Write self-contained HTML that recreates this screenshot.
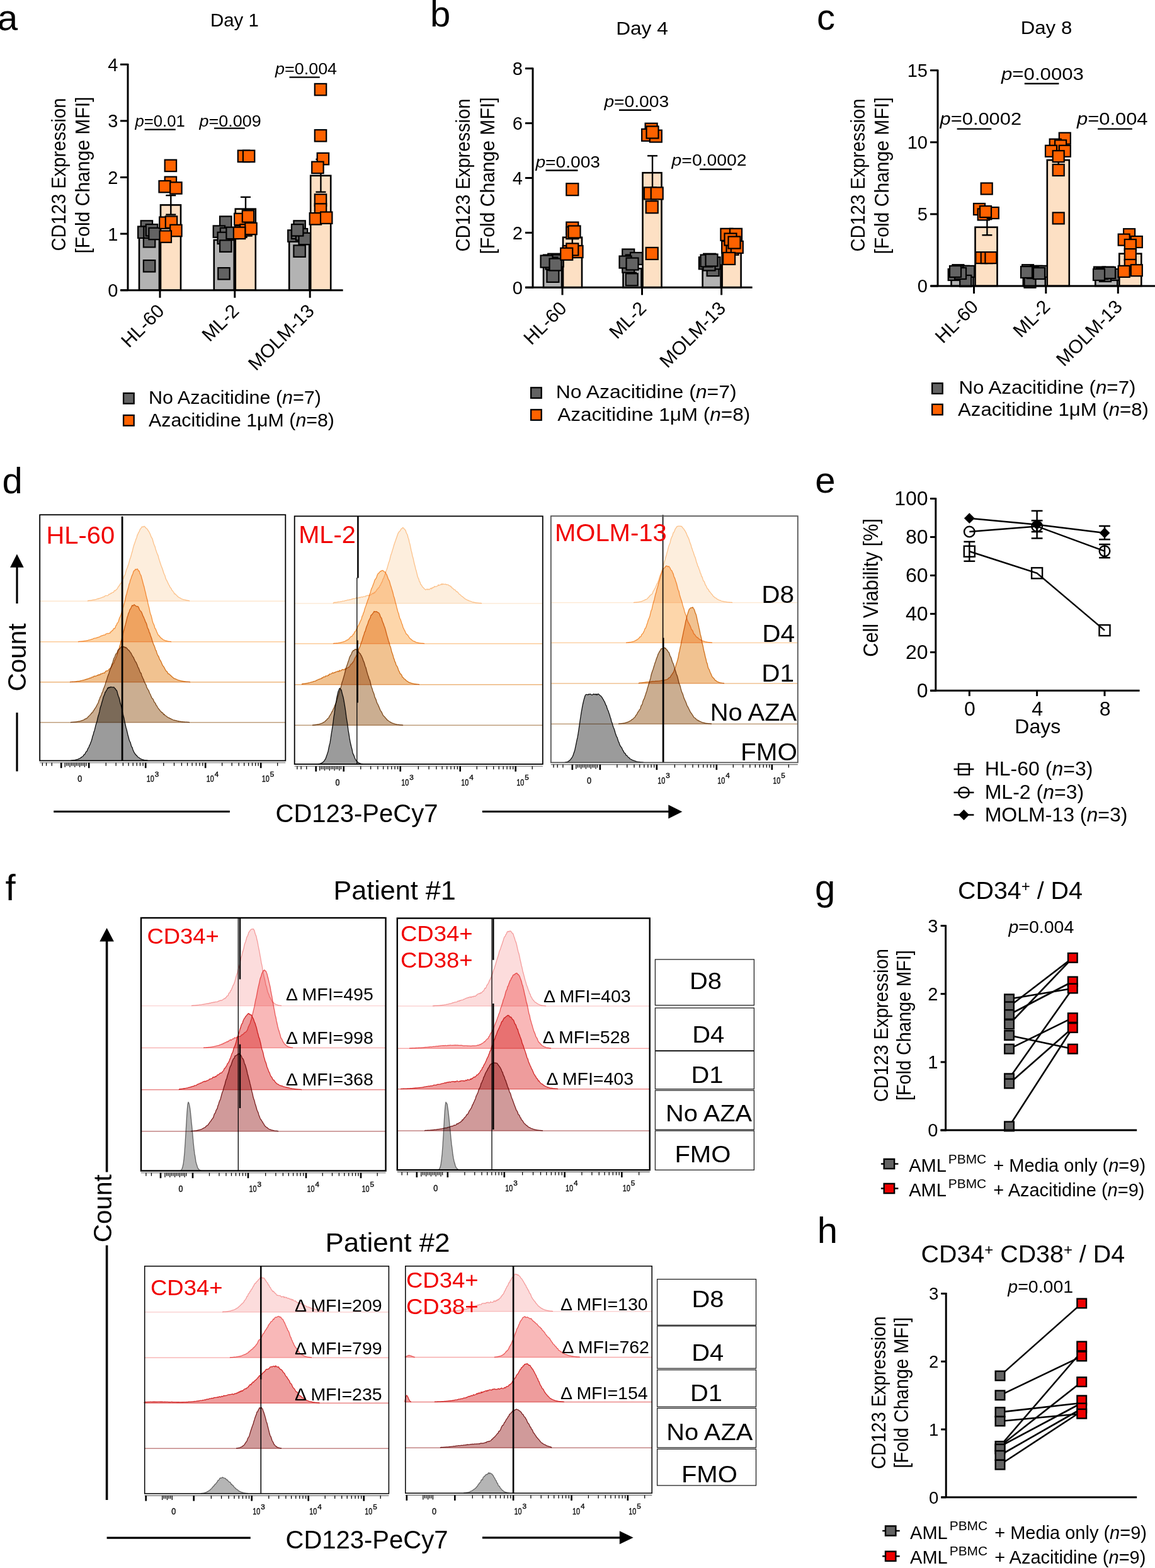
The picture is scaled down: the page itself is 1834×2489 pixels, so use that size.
<!DOCTYPE html><html><head><meta charset="utf-8"><style>html,body{margin:0;padding:0;background:#fff;}svg{display:block;font-family:"Liberation Sans",Arial,sans-serif;}</style></head><body><svg width="1834" height="2489" viewBox="0 0 1834 2489" font-family="Liberation Sans, Arial, sans-serif">
<rect width="1834" height="2489" fill="#fff"/>
<text x="-4" y="47.5" font-size="58">a</text>
<text x="683" y="41.8" font-size="58">b</text>
<text x="1297" y="46.5" font-size="58">c</text>
<text x="3.6" y="782.5" font-size="58">d</text>
<text x="1294.3" y="782" font-size="58">e</text>
<text x="8.5" y="1428.8" font-size="58">f</text>
<text x="1294" y="1429" font-size="58">g</text>
<text x="1297.7" y="1972.8" font-size="58">h</text>
<rect x="221" y="376.48" width="32" height="84.22" fill="#b3b3b3" stroke="#000" stroke-width="2.6"/>
<rect x="255" y="325.4" width="32" height="135.3" fill="#fde0c4" stroke="#000" stroke-width="2.6"/>
<rect x="339.8" y="380.96" width="32" height="79.74" fill="#b3b3b3" stroke="#000" stroke-width="2.6"/>
<rect x="373.8" y="331.68" width="32" height="129.02" fill="#fde0c4" stroke="#000" stroke-width="2.6"/>
<rect x="459.2" y="374.68" width="32" height="86.02" fill="#b3b3b3" stroke="#000" stroke-width="2.6"/>
<rect x="493.2" y="278.81" width="32" height="181.89" fill="#fde0c4" stroke="#000" stroke-width="2.6"/>
<line x1="271.3" y1="325.4" x2="271.3" y2="310.17" stroke="#000" stroke-width="2.4"/>
<line x1="263.3" y1="310.17" x2="279.3" y2="310.17" stroke="#000" stroke-width="2.4"/>
<line x1="271.3" y1="325.4" x2="271.3" y2="340.64" stroke="#000" stroke-width="2.4"/>
<line x1="263.3" y1="340.64" x2="279.3" y2="340.64" stroke="#000" stroke-width="2.4"/>
<line x1="390" y1="331.68" x2="390" y2="312.86" stroke="#000" stroke-width="2.4"/>
<line x1="382" y1="312.86" x2="398" y2="312.86" stroke="#000" stroke-width="2.4"/>
<line x1="390" y1="331.68" x2="390" y2="350.49" stroke="#000" stroke-width="2.4"/>
<line x1="382" y1="350.49" x2="398" y2="350.49" stroke="#000" stroke-width="2.4"/>
<line x1="509.4" y1="278.81" x2="509.4" y2="252.83" stroke="#000" stroke-width="2.4"/>
<line x1="501.4" y1="252.83" x2="517.4" y2="252.83" stroke="#000" stroke-width="2.4"/>
<line x1="509.4" y1="278.81" x2="509.4" y2="304.8" stroke="#000" stroke-width="2.4"/>
<line x1="501.4" y1="304.8" x2="517.4" y2="304.8" stroke="#000" stroke-width="2.4"/>
<line x1="237" y1="376.48" x2="237" y2="369.31" stroke="#000" stroke-width="2.4"/>
<line x1="229" y1="369.31" x2="245" y2="369.31" stroke="#000" stroke-width="2.4"/>
<line x1="237" y1="376.48" x2="237" y2="383.64" stroke="#000" stroke-width="2.4"/>
<line x1="229" y1="383.64" x2="245" y2="383.64" stroke="#000" stroke-width="2.4"/>
<line x1="356" y1="380.96" x2="356" y2="372" stroke="#000" stroke-width="2.4"/>
<line x1="348" y1="372" x2="364" y2="372" stroke="#000" stroke-width="2.4"/>
<line x1="356" y1="380.96" x2="356" y2="389.92" stroke="#000" stroke-width="2.4"/>
<line x1="348" y1="389.92" x2="364" y2="389.92" stroke="#000" stroke-width="2.4"/>
<line x1="475" y1="374.68" x2="475" y2="370.2" stroke="#000" stroke-width="2.4"/>
<line x1="467" y1="370.2" x2="483" y2="370.2" stroke="#000" stroke-width="2.4"/>
<line x1="475" y1="374.68" x2="475" y2="379.16" stroke="#000" stroke-width="2.4"/>
<line x1="467" y1="379.16" x2="483" y2="379.16" stroke="#000" stroke-width="2.4"/>
<rect x="227.9" y="413.1" width="18.4" height="18.4" fill="#636363" stroke="#000" stroke-width="2.2"/>
<rect x="227.9" y="374" width="18.4" height="18.4" fill="#636363" stroke="#000" stroke-width="2.2"/>
<rect x="223.7" y="350.3" width="18.4" height="18.4" fill="#636363" stroke="#000" stroke-width="2.2"/>
<rect x="219.1" y="359.5" width="18.4" height="18.4" fill="#636363" stroke="#000" stroke-width="2.2"/>
<rect x="228.3" y="359.5" width="18.4" height="18.4" fill="#636363" stroke="#000" stroke-width="2.2"/>
<rect x="231.8" y="356.1" width="18.4" height="18.4" fill="#636363" stroke="#000" stroke-width="2.2"/>
<rect x="236.4" y="361.8" width="18.4" height="18.4" fill="#636363" stroke="#000" stroke-width="2.2"/>
<rect x="346.3" y="425.1" width="18.4" height="18.4" fill="#636363" stroke="#000" stroke-width="2.2"/>
<rect x="349.1" y="343.4" width="18.4" height="18.4" fill="#636363" stroke="#000" stroke-width="2.2"/>
<rect x="338.7" y="358.4" width="18.4" height="18.4" fill="#636363" stroke="#000" stroke-width="2.2"/>
<rect x="349.8" y="361.8" width="18.4" height="18.4" fill="#636363" stroke="#000" stroke-width="2.2"/>
<rect x="345.6" y="368.7" width="18.4" height="18.4" fill="#636363" stroke="#000" stroke-width="2.2"/>
<rect x="349.1" y="381.4" width="18.4" height="18.4" fill="#636363" stroke="#000" stroke-width="2.2"/>
<rect x="359.4" y="360.7" width="18.4" height="18.4" fill="#636363" stroke="#000" stroke-width="2.2"/>
<rect x="466.4" y="389.4" width="18.4" height="18.4" fill="#636363" stroke="#000" stroke-width="2.2"/>
<rect x="466.4" y="350.3" width="18.4" height="18.4" fill="#636363" stroke="#000" stroke-width="2.2"/>
<rect x="457.2" y="365.3" width="18.4" height="18.4" fill="#636363" stroke="#000" stroke-width="2.2"/>
<rect x="463" y="360.7" width="18.4" height="18.4" fill="#636363" stroke="#000" stroke-width="2.2"/>
<rect x="469.9" y="363" width="18.4" height="18.4" fill="#636363" stroke="#000" stroke-width="2.2"/>
<rect x="474.5" y="369.8" width="18.4" height="18.4" fill="#636363" stroke="#000" stroke-width="2.2"/>
<rect x="463" y="356.1" width="18.4" height="18.4" fill="#636363" stroke="#000" stroke-width="2.2"/>
<rect x="261.7" y="253.7" width="18.4" height="18.4" fill="#ff6200" stroke="#000" stroke-width="2.2"/>
<rect x="261.7" y="280.6" width="18.4" height="18.4" fill="#ff6200" stroke="#000" stroke-width="2.2"/>
<rect x="252.5" y="287" width="18.4" height="18.4" fill="#ff6200" stroke="#000" stroke-width="2.2"/>
<rect x="270.2" y="289.3" width="18.4" height="18.4" fill="#ff6200" stroke="#000" stroke-width="2.2"/>
<rect x="253.2" y="344.5" width="18.4" height="18.4" fill="#ff6200" stroke="#000" stroke-width="2.2"/>
<rect x="262.8" y="343.4" width="18.4" height="18.4" fill="#ff6200" stroke="#000" stroke-width="2.2"/>
<rect x="270.2" y="356.8" width="18.4" height="18.4" fill="#ff6200" stroke="#000" stroke-width="2.2"/>
<rect x="253.6" y="366.4" width="18.4" height="18.4" fill="#ff6200" stroke="#000" stroke-width="2.2"/>
<rect x="377.8" y="238.7" width="18.4" height="18.4" fill="#ff6200" stroke="#000" stroke-width="2.2"/>
<rect x="385.9" y="238.7" width="18.4" height="18.4" fill="#ff6200" stroke="#000" stroke-width="2.2"/>
<rect x="372.1" y="338.8" width="18.4" height="18.4" fill="#ff6200" stroke="#000" stroke-width="2.2"/>
<rect x="384.8" y="334.2" width="18.4" height="18.4" fill="#ff6200" stroke="#000" stroke-width="2.2"/>
<rect x="373.2" y="358.4" width="18.4" height="18.4" fill="#ff6200" stroke="#000" stroke-width="2.2"/>
<rect x="381.3" y="356.1" width="18.4" height="18.4" fill="#ff6200" stroke="#000" stroke-width="2.2"/>
<rect x="389.3" y="353.8" width="18.4" height="18.4" fill="#ff6200" stroke="#000" stroke-width="2.2"/>
<rect x="370.9" y="360.7" width="18.4" height="18.4" fill="#ff6200" stroke="#000" stroke-width="2.2"/>
<rect x="499.8" y="132.9" width="18.4" height="18.4" fill="#ff6200" stroke="#000" stroke-width="2.2"/>
<rect x="499.8" y="206.1" width="18.4" height="18.4" fill="#ff6200" stroke="#000" stroke-width="2.2"/>
<rect x="503.7" y="242.9" width="18.4" height="18.4" fill="#ff6200" stroke="#000" stroke-width="2.2"/>
<rect x="495.2" y="256.7" width="18.4" height="18.4" fill="#ff6200" stroke="#000" stroke-width="2.2"/>
<rect x="499.8" y="308.4" width="18.4" height="18.4" fill="#ff6200" stroke="#000" stroke-width="2.2"/>
<rect x="499.8" y="323.4" width="18.4" height="18.4" fill="#ff6200" stroke="#000" stroke-width="2.2"/>
<rect x="491.7" y="338.1" width="18.4" height="18.4" fill="#ff6200" stroke="#000" stroke-width="2.2"/>
<rect x="509" y="336.5" width="18.4" height="18.4" fill="#ff6200" stroke="#000" stroke-width="2.2"/>
<line x1="203" y1="101" x2="203" y2="462" stroke="#000" stroke-width="3"/>
<line x1="191.5" y1="460.7" x2="544.6" y2="460.7" stroke="#000" stroke-width="3"/>
<line x1="191" y1="460.7" x2="203" y2="460.7" stroke="#000" stroke-width="3"/>
<text x="187.5" y="471.1" font-size="29" text-anchor="end">0</text>
<line x1="191" y1="371.1" x2="203" y2="371.1" stroke="#000" stroke-width="3"/>
<text x="187.5" y="381.5" font-size="29" text-anchor="end">1</text>
<line x1="191" y1="281.5" x2="203" y2="281.5" stroke="#000" stroke-width="3"/>
<text x="187.5" y="291.9" font-size="29" text-anchor="end">2</text>
<line x1="191" y1="191.9" x2="203" y2="191.9" stroke="#000" stroke-width="3"/>
<text x="187.5" y="202.3" font-size="29" text-anchor="end">3</text>
<line x1="191" y1="102.3" x2="203" y2="102.3" stroke="#000" stroke-width="3"/>
<text x="187.5" y="112.7" font-size="29" text-anchor="end">4</text>
<line x1="254" y1="460.7" x2="254" y2="472.7" stroke="#000" stroke-width="3"/>
<line x1="372.8" y1="460.7" x2="372.8" y2="472.7" stroke="#000" stroke-width="3"/>
<line x1="492.2" y1="460.7" x2="492.2" y2="472.7" stroke="#000" stroke-width="3"/>
<text x="262.5" y="495.5" font-size="30" text-anchor="end" transform="rotate(-45 262.5 495.5)">HL-60</text>
<text x="381.3" y="495.5" font-size="30" text-anchor="end" transform="rotate(-45 381.3 495.5)">ML-2</text>
<text x="500.7" y="495.5" font-size="30" text-anchor="end" transform="rotate(-45 500.7 495.5)">MOLM-13</text>
<text x="104.3" y="277" font-size="31.4" text-anchor="middle" transform="rotate(-90 104.3 277)" textLength="243" lengthAdjust="spacingAndGlyphs">CD123 Expression</text>
<text x="141.7" y="278" font-size="31.4" text-anchor="middle" transform="rotate(-90 141.7 278)" textLength="249" lengthAdjust="spacingAndGlyphs">[Fold Change MFI]</text>
<text x="372.4" y="41.5" font-size="29.5" text-anchor="middle" textLength="77" lengthAdjust="spacingAndGlyphs">Day 1</text>
<text x="214.5" y="201" font-size="25" textLength="79.4" lengthAdjust="spacingAndGlyphs"><tspan font-style="italic">p</tspan>=0.01</text>
<line x1="229.6" y1="205.6" x2="278.8" y2="205.6" stroke="#000" stroke-width="2.4"/>
<text x="316.4" y="201" font-size="25" textLength="98.3" lengthAdjust="spacingAndGlyphs"><tspan font-style="italic">p</tspan>=0.009</text>
<line x1="340" y1="203.6" x2="388.8" y2="203.6" stroke="#000" stroke-width="2.4"/>
<text x="437" y="117.5" font-size="25" textLength="98.1" lengthAdjust="spacingAndGlyphs"><tspan font-style="italic">p</tspan>=0.004</text>
<line x1="459.5" y1="122.6" x2="507.8" y2="122.6" stroke="#000" stroke-width="2.4"/>
<rect x="196.1" y="624.1" width="16.6" height="16.6" fill="#636363" stroke="#000" stroke-width="2.3"/>
<rect x="196.1" y="659.1" width="16.6" height="16.6" fill="#ff6200" stroke="#000" stroke-width="2.3"/>
<text x="236" y="640.7" font-size="30" textLength="274" lengthAdjust="spacingAndGlyphs">No Azacitidine (<tspan font-style="italic">n</tspan>=7)</text>
<text x="236" y="677.1" font-size="30" textLength="295" lengthAdjust="spacingAndGlyphs">Azacitidine 1μM (<tspan font-style="italic">n</tspan>=8)</text>
<rect x="863" y="417.19" width="29" height="39.11" fill="#b3b3b3" stroke="#000" stroke-width="2.6"/>
<rect x="894" y="376.79" width="30" height="79.51" fill="#fde0c4" stroke="#000" stroke-width="2.6"/>
<rect x="989.5" y="426.32" width="29" height="29.98" fill="#b3b3b3" stroke="#000" stroke-width="2.6"/>
<rect x="1020.5" y="274.24" width="30" height="182.06" fill="#fde0c4" stroke="#000" stroke-width="2.6"/>
<rect x="1115.6" y="420.67" width="29" height="35.63" fill="#b3b3b3" stroke="#000" stroke-width="2.6"/>
<rect x="1146.6" y="381.57" width="30" height="74.73" fill="#fde0c4" stroke="#000" stroke-width="2.6"/>
<line x1="908.8" y1="376.79" x2="908.8" y2="364.62" stroke="#000" stroke-width="2.4"/>
<line x1="900.8" y1="364.62" x2="916.8" y2="364.62" stroke="#000" stroke-width="2.4"/>
<line x1="908.8" y1="376.79" x2="908.8" y2="388.95" stroke="#000" stroke-width="2.4"/>
<line x1="900.8" y1="388.95" x2="916.8" y2="388.95" stroke="#000" stroke-width="2.4"/>
<line x1="1036" y1="274.24" x2="1036" y2="247.31" stroke="#000" stroke-width="2.4"/>
<line x1="1028" y1="247.31" x2="1044" y2="247.31" stroke="#000" stroke-width="2.4"/>
<line x1="1036" y1="274.24" x2="1036" y2="301.18" stroke="#000" stroke-width="2.4"/>
<line x1="1028" y1="301.18" x2="1044" y2="301.18" stroke="#000" stroke-width="2.4"/>
<line x1="1161" y1="381.57" x2="1161" y2="375.05" stroke="#000" stroke-width="2.4"/>
<line x1="1153" y1="375.05" x2="1169" y2="375.05" stroke="#000" stroke-width="2.4"/>
<line x1="1161" y1="381.57" x2="1161" y2="388.08" stroke="#000" stroke-width="2.4"/>
<line x1="1153" y1="388.08" x2="1169" y2="388.08" stroke="#000" stroke-width="2.4"/>
<line x1="878" y1="417.19" x2="878" y2="412.85" stroke="#000" stroke-width="2.4"/>
<line x1="870" y1="412.85" x2="886" y2="412.85" stroke="#000" stroke-width="2.4"/>
<line x1="878" y1="417.19" x2="878" y2="421.54" stroke="#000" stroke-width="2.4"/>
<line x1="870" y1="421.54" x2="886" y2="421.54" stroke="#000" stroke-width="2.4"/>
<line x1="1003" y1="426.32" x2="1003" y2="419.8" stroke="#000" stroke-width="2.4"/>
<line x1="995" y1="419.8" x2="1011" y2="419.8" stroke="#000" stroke-width="2.4"/>
<line x1="1003" y1="426.32" x2="1003" y2="432.84" stroke="#000" stroke-width="2.4"/>
<line x1="995" y1="432.84" x2="1011" y2="432.84" stroke="#000" stroke-width="2.4"/>
<line x1="1130" y1="420.67" x2="1130" y2="417.19" stroke="#000" stroke-width="2.4"/>
<line x1="1122" y1="417.19" x2="1138" y2="417.19" stroke="#000" stroke-width="2.4"/>
<line x1="1130" y1="420.67" x2="1130" y2="424.15" stroke="#000" stroke-width="2.4"/>
<line x1="1122" y1="424.15" x2="1138" y2="424.15" stroke="#000" stroke-width="2.4"/>
<rect x="868.4" y="428.9" width="19" height="19" fill="#636363" stroke="#000" stroke-width="2.2"/>
<rect x="862.9" y="404.5" width="19" height="19" fill="#636363" stroke="#000" stroke-width="2.2"/>
<rect x="870.2" y="402.7" width="19" height="19" fill="#636363" stroke="#000" stroke-width="2.2"/>
<rect x="875.7" y="404.5" width="19" height="19" fill="#636363" stroke="#000" stroke-width="2.2"/>
<rect x="866.5" y="408.5" width="19" height="19" fill="#636363" stroke="#000" stroke-width="2.2"/>
<rect x="858.5" y="405.5" width="19" height="19" fill="#636363" stroke="#000" stroke-width="2.2"/>
<rect x="872.5" y="410.5" width="19" height="19" fill="#636363" stroke="#000" stroke-width="2.2"/>
<rect x="993.7" y="434.3" width="19" height="19" fill="#636363" stroke="#000" stroke-width="2.2"/>
<rect x="988.2" y="395.5" width="19" height="19" fill="#636363" stroke="#000" stroke-width="2.2"/>
<rect x="993.7" y="404.5" width="19" height="19" fill="#636363" stroke="#000" stroke-width="2.2"/>
<rect x="988.2" y="413.6" width="19" height="19" fill="#636363" stroke="#000" stroke-width="2.2"/>
<rect x="1001" y="400.9" width="19" height="19" fill="#636363" stroke="#000" stroke-width="2.2"/>
<rect x="983.5" y="406.5" width="19" height="19" fill="#636363" stroke="#000" stroke-width="2.2"/>
<rect x="994.5" y="409.5" width="19" height="19" fill="#636363" stroke="#000" stroke-width="2.2"/>
<rect x="1117.2" y="402.7" width="19" height="19" fill="#636363" stroke="#000" stroke-width="2.2"/>
<rect x="1122.6" y="419.1" width="19" height="19" fill="#636363" stroke="#000" stroke-width="2.2"/>
<rect x="1109.9" y="408.2" width="19" height="19" fill="#636363" stroke="#000" stroke-width="2.2"/>
<rect x="1124.5" y="408.2" width="19" height="19" fill="#636363" stroke="#000" stroke-width="2.2"/>
<rect x="1116.5" y="410.5" width="19" height="19" fill="#636363" stroke="#000" stroke-width="2.2"/>
<rect x="1112.5" y="404.5" width="19" height="19" fill="#636363" stroke="#000" stroke-width="2.2"/>
<rect x="1120.5" y="403.5" width="19" height="19" fill="#636363" stroke="#000" stroke-width="2.2"/>
<rect x="899.3" y="291.2" width="19" height="19" fill="#ff6200" stroke="#000" stroke-width="2.2"/>
<rect x="899.3" y="352.6" width="19" height="19" fill="#ff6200" stroke="#000" stroke-width="2.2"/>
<rect x="899.3" y="360.2" width="19" height="19" fill="#ff6200" stroke="#000" stroke-width="2.2"/>
<rect x="902.5" y="358.5" width="19" height="19" fill="#ff6200" stroke="#000" stroke-width="2.2"/>
<rect x="893.8" y="390" width="19" height="19" fill="#ff6200" stroke="#000" stroke-width="2.2"/>
<rect x="906.5" y="390" width="19" height="19" fill="#ff6200" stroke="#000" stroke-width="2.2"/>
<rect x="899.3" y="386.4" width="19" height="19" fill="#ff6200" stroke="#000" stroke-width="2.2"/>
<rect x="890.2" y="393.7" width="19" height="19" fill="#ff6200" stroke="#000" stroke-width="2.2"/>
<rect x="1024.6" y="195.7" width="19" height="19" fill="#ff6200" stroke="#000" stroke-width="2.2"/>
<rect x="1019.1" y="204.8" width="19" height="19" fill="#ff6200" stroke="#000" stroke-width="2.2"/>
<rect x="1031.8" y="206.6" width="19" height="19" fill="#ff6200" stroke="#000" stroke-width="2.2"/>
<rect x="1022.8" y="297.4" width="19" height="19" fill="#ff6200" stroke="#000" stroke-width="2.2"/>
<rect x="1033.7" y="297.4" width="19" height="19" fill="#ff6200" stroke="#000" stroke-width="2.2"/>
<rect x="1025.7" y="319.2" width="19" height="19" fill="#ff6200" stroke="#000" stroke-width="2.2"/>
<rect x="1025.7" y="392.9" width="19" height="19" fill="#ff6200" stroke="#000" stroke-width="2.2"/>
<rect x="1026.5" y="200.5" width="19" height="19" fill="#ff6200" stroke="#000" stroke-width="2.2"/>
<rect x="1144.4" y="362.8" width="19" height="19" fill="#ff6200" stroke="#000" stroke-width="2.2"/>
<rect x="1159" y="362.8" width="19" height="19" fill="#ff6200" stroke="#000" stroke-width="2.2"/>
<rect x="1146.2" y="382.8" width="19" height="19" fill="#ff6200" stroke="#000" stroke-width="2.2"/>
<rect x="1153.5" y="385.7" width="19" height="19" fill="#ff6200" stroke="#000" stroke-width="2.2"/>
<rect x="1160.8" y="382.8" width="19" height="19" fill="#ff6200" stroke="#000" stroke-width="2.2"/>
<rect x="1148.1" y="400.9" width="19" height="19" fill="#ff6200" stroke="#000" stroke-width="2.2"/>
<rect x="1150.5" y="370.5" width="19" height="19" fill="#ff6200" stroke="#000" stroke-width="2.2"/>
<rect x="1156.5" y="375.5" width="19" height="19" fill="#ff6200" stroke="#000" stroke-width="2.2"/>
<line x1="846" y1="107.4" x2="846" y2="457.6" stroke="#000" stroke-width="3"/>
<line x1="834" y1="456.3" x2="1194.6" y2="456.3" stroke="#000" stroke-width="3"/>
<line x1="834" y1="456.3" x2="846" y2="456.3" stroke="#000" stroke-width="3"/>
<text x="830" y="466.7" font-size="29" text-anchor="end">0</text>
<line x1="834" y1="369.4" x2="846" y2="369.4" stroke="#000" stroke-width="3"/>
<text x="830" y="379.8" font-size="29" text-anchor="end">2</text>
<line x1="834" y1="282.5" x2="846" y2="282.5" stroke="#000" stroke-width="3"/>
<text x="830" y="292.9" font-size="29" text-anchor="end">4</text>
<line x1="834" y1="195.6" x2="846" y2="195.6" stroke="#000" stroke-width="3"/>
<text x="830" y="206" font-size="29" text-anchor="end">6</text>
<line x1="834" y1="108.7" x2="846" y2="108.7" stroke="#000" stroke-width="3"/>
<text x="830" y="119.1" font-size="29" text-anchor="end">8</text>
<line x1="893" y1="456.3" x2="893" y2="468.3" stroke="#000" stroke-width="3"/>
<line x1="1019.5" y1="456.3" x2="1019.5" y2="468.3" stroke="#000" stroke-width="3"/>
<line x1="1145.6" y1="456.3" x2="1145.6" y2="468.3" stroke="#000" stroke-width="3"/>
<text x="901.5" y="491.1" font-size="30" text-anchor="end" transform="rotate(-45 901.5 491.1)">HL-60</text>
<text x="1028" y="491.1" font-size="30" text-anchor="end" transform="rotate(-45 1028 491.1)">ML-2</text>
<text x="1154.1" y="491.1" font-size="30" text-anchor="end" transform="rotate(-45 1154.1 491.1)">MOLM-13</text>
<text x="745.8" y="278" font-size="31.4" text-anchor="middle" transform="rotate(-90 745.8 278)" textLength="243" lengthAdjust="spacingAndGlyphs">CD123 Expression</text>
<text x="785" y="279" font-size="31.4" text-anchor="middle" transform="rotate(-90 785 279)" textLength="249" lengthAdjust="spacingAndGlyphs">[Fold Change MFI]</text>
<text x="1019.5" y="55.2" font-size="29.5" text-anchor="middle" textLength="82.7" lengthAdjust="spacingAndGlyphs">Day 4</text>
<text x="850.4" y="265.8" font-size="25" textLength="102.6" lengthAdjust="spacingAndGlyphs"><tspan font-style="italic">p</tspan>=0.003</text>
<line x1="866.5" y1="270.5" x2="917.5" y2="270.5" stroke="#000" stroke-width="2.4"/>
<text x="959.4" y="169.6" font-size="25" textLength="102.7" lengthAdjust="spacingAndGlyphs"><tspan font-style="italic">p</tspan>=0.003</text>
<line x1="983" y1="174.7" x2="1034" y2="174.7" stroke="#000" stroke-width="2.4"/>
<text x="1066.6" y="263.3" font-size="25" textLength="119" lengthAdjust="spacingAndGlyphs"><tspan font-style="italic">p</tspan>=0.0002</text>
<line x1="1111" y1="268.8" x2="1162" y2="268.8" stroke="#000" stroke-width="2.4"/>
<rect x="843.1" y="615.3" width="16.6" height="16.6" fill="#636363" stroke="#000" stroke-width="2.3"/>
<rect x="843.1" y="650.3" width="16.6" height="16.6" fill="#ff6200" stroke="#000" stroke-width="2.3"/>
<text x="882.7" y="631.9" font-size="30" textLength="287" lengthAdjust="spacingAndGlyphs">No Azacitidine (<tspan font-style="italic">n</tspan>=7)</text>
<text x="885.2" y="668.3" font-size="30" textLength="306" lengthAdjust="spacingAndGlyphs">Azacitidine 1μM (<tspan font-style="italic">n</tspan>=8)</text>
<rect x="1510.5" y="434.6" width="35" height="19.4" fill="#b3b3b3" stroke="#000" stroke-width="2.6"/>
<rect x="1548.5" y="360.67" width="35" height="93.33" fill="#fde0c4" stroke="#000" stroke-width="2.6"/>
<rect x="1624.8" y="433.46" width="35" height="20.54" fill="#b3b3b3" stroke="#000" stroke-width="2.6"/>
<rect x="1662.8" y="254.1" width="35" height="199.9" fill="#fde0c4" stroke="#000" stroke-width="2.6"/>
<rect x="1739.3" y="434.6" width="35" height="19.4" fill="#b3b3b3" stroke="#000" stroke-width="2.6"/>
<rect x="1777.3" y="402.65" width="35" height="51.35" fill="#fde0c4" stroke="#000" stroke-width="2.6"/>
<line x1="1567.4" y1="360.67" x2="1567.4" y2="348.12" stroke="#000" stroke-width="2.4"/>
<line x1="1559.4" y1="348.12" x2="1575.4" y2="348.12" stroke="#000" stroke-width="2.4"/>
<line x1="1567.4" y1="360.67" x2="1567.4" y2="373.22" stroke="#000" stroke-width="2.4"/>
<line x1="1559.4" y1="373.22" x2="1575.4" y2="373.22" stroke="#000" stroke-width="2.4"/>
<line x1="1680.7" y1="254.1" x2="1680.7" y2="240.4" stroke="#000" stroke-width="2.4"/>
<line x1="1672.7" y1="240.4" x2="1688.7" y2="240.4" stroke="#000" stroke-width="2.4"/>
<line x1="1680.7" y1="254.1" x2="1680.7" y2="267.79" stroke="#000" stroke-width="2.4"/>
<line x1="1672.7" y1="267.79" x2="1688.7" y2="267.79" stroke="#000" stroke-width="2.4"/>
<line x1="1795" y1="402.65" x2="1795" y2="393.53" stroke="#000" stroke-width="2.4"/>
<line x1="1787" y1="393.53" x2="1803" y2="393.53" stroke="#000" stroke-width="2.4"/>
<line x1="1795" y1="402.65" x2="1795" y2="411.78" stroke="#000" stroke-width="2.4"/>
<line x1="1787" y1="411.78" x2="1803" y2="411.78" stroke="#000" stroke-width="2.4"/>
<line x1="1528" y1="434.6" x2="1528" y2="432.78" stroke="#000" stroke-width="2.4"/>
<line x1="1520" y1="432.78" x2="1536" y2="432.78" stroke="#000" stroke-width="2.4"/>
<line x1="1528" y1="434.6" x2="1528" y2="436.43" stroke="#000" stroke-width="2.4"/>
<line x1="1520" y1="436.43" x2="1536" y2="436.43" stroke="#000" stroke-width="2.4"/>
<line x1="1643" y1="433.46" x2="1643" y2="431.64" stroke="#000" stroke-width="2.4"/>
<line x1="1635" y1="431.64" x2="1651" y2="431.64" stroke="#000" stroke-width="2.4"/>
<line x1="1643" y1="433.46" x2="1643" y2="435.29" stroke="#000" stroke-width="2.4"/>
<line x1="1635" y1="435.29" x2="1651" y2="435.29" stroke="#000" stroke-width="2.4"/>
<line x1="1757" y1="434.6" x2="1757" y2="433.23" stroke="#000" stroke-width="2.4"/>
<line x1="1749" y1="433.23" x2="1765" y2="433.23" stroke="#000" stroke-width="2.4"/>
<line x1="1757" y1="434.6" x2="1757" y2="435.97" stroke="#000" stroke-width="2.4"/>
<line x1="1749" y1="435.97" x2="1765" y2="435.97" stroke="#000" stroke-width="2.4"/>
<rect x="1505.7" y="427" width="18" height="18" fill="#636363" stroke="#000" stroke-width="2.2"/>
<rect x="1512.4" y="420.2" width="18" height="18" fill="#636363" stroke="#000" stroke-width="2.2"/>
<rect x="1520.8" y="421.9" width="18" height="18" fill="#636363" stroke="#000" stroke-width="2.2"/>
<rect x="1529.2" y="421.9" width="18" height="18" fill="#636363" stroke="#000" stroke-width="2.2"/>
<rect x="1524.2" y="437" width="18" height="18" fill="#636363" stroke="#000" stroke-width="2.2"/>
<rect x="1516" y="425" width="18" height="18" fill="#636363" stroke="#000" stroke-width="2.2"/>
<rect x="1508" y="422" width="18" height="18" fill="#636363" stroke="#000" stroke-width="2.2"/>
<rect x="1623.1" y="420.2" width="18" height="18" fill="#636363" stroke="#000" stroke-width="2.2"/>
<rect x="1636.5" y="421.9" width="18" height="18" fill="#636363" stroke="#000" stroke-width="2.2"/>
<rect x="1644.9" y="421.9" width="18" height="18" fill="#636363" stroke="#000" stroke-width="2.2"/>
<rect x="1626.5" y="438.7" width="18" height="18" fill="#636363" stroke="#000" stroke-width="2.2"/>
<rect x="1631" y="424" width="18" height="18" fill="#636363" stroke="#000" stroke-width="2.2"/>
<rect x="1621" y="423" width="18" height="18" fill="#636363" stroke="#000" stroke-width="2.2"/>
<rect x="1641" y="425" width="18" height="18" fill="#636363" stroke="#000" stroke-width="2.2"/>
<rect x="1737.1" y="423.6" width="18" height="18" fill="#636363" stroke="#000" stroke-width="2.2"/>
<rect x="1750.5" y="423.6" width="18" height="18" fill="#636363" stroke="#000" stroke-width="2.2"/>
<rect x="1758.9" y="427" width="18" height="18" fill="#636363" stroke="#000" stroke-width="2.2"/>
<rect x="1746" y="429" width="18" height="18" fill="#636363" stroke="#000" stroke-width="2.2"/>
<rect x="1741" y="425" width="18" height="18" fill="#636363" stroke="#000" stroke-width="2.2"/>
<rect x="1753" y="424" width="18" height="18" fill="#636363" stroke="#000" stroke-width="2.2"/>
<rect x="1736" y="427" width="18" height="18" fill="#636363" stroke="#000" stroke-width="2.2"/>
<rect x="1557.7" y="290.5" width="18" height="18" fill="#ff6200" stroke="#000" stroke-width="2.2"/>
<rect x="1546" y="323" width="18" height="18" fill="#ff6200" stroke="#000" stroke-width="2.2"/>
<rect x="1552.7" y="331.4" width="18" height="18" fill="#ff6200" stroke="#000" stroke-width="2.2"/>
<rect x="1567.8" y="329" width="18" height="18" fill="#ff6200" stroke="#000" stroke-width="2.2"/>
<rect x="1549.3" y="400.1" width="18" height="18" fill="#ff6200" stroke="#000" stroke-width="2.2"/>
<rect x="1557.7" y="400.1" width="18" height="18" fill="#ff6200" stroke="#000" stroke-width="2.2"/>
<rect x="1564.4" y="400.1" width="18" height="18" fill="#ff6200" stroke="#000" stroke-width="2.2"/>
<rect x="1556" y="327" width="18" height="18" fill="#ff6200" stroke="#000" stroke-width="2.2"/>
<rect x="1681.8" y="210.7" width="18" height="18" fill="#ff6200" stroke="#000" stroke-width="2.2"/>
<rect x="1666.7" y="220.7" width="18" height="18" fill="#ff6200" stroke="#000" stroke-width="2.2"/>
<rect x="1675.1" y="222.4" width="18" height="18" fill="#ff6200" stroke="#000" stroke-width="2.2"/>
<rect x="1660" y="230.8" width="18" height="18" fill="#ff6200" stroke="#000" stroke-width="2.2"/>
<rect x="1681.8" y="230.8" width="18" height="18" fill="#ff6200" stroke="#000" stroke-width="2.2"/>
<rect x="1671.7" y="239.2" width="18" height="18" fill="#ff6200" stroke="#000" stroke-width="2.2"/>
<rect x="1671.7" y="261" width="18" height="18" fill="#ff6200" stroke="#000" stroke-width="2.2"/>
<rect x="1671.7" y="337.4" width="18" height="18" fill="#ff6200" stroke="#000" stroke-width="2.2"/>
<rect x="1784.1" y="363.2" width="18" height="18" fill="#ff6200" stroke="#000" stroke-width="2.2"/>
<rect x="1775.7" y="371.6" width="18" height="18" fill="#ff6200" stroke="#000" stroke-width="2.2"/>
<rect x="1795.8" y="375" width="18" height="18" fill="#ff6200" stroke="#000" stroke-width="2.2"/>
<rect x="1785.8" y="380" width="18" height="18" fill="#ff6200" stroke="#000" stroke-width="2.2"/>
<rect x="1785.8" y="395.1" width="18" height="18" fill="#ff6200" stroke="#000" stroke-width="2.2"/>
<rect x="1785.8" y="411.9" width="18" height="18" fill="#ff6200" stroke="#000" stroke-width="2.2"/>
<rect x="1775.7" y="421.9" width="18" height="18" fill="#ff6200" stroke="#000" stroke-width="2.2"/>
<rect x="1795.8" y="420.2" width="18" height="18" fill="#ff6200" stroke="#000" stroke-width="2.2"/>
<line x1="1489" y1="110.4" x2="1489" y2="455.3" stroke="#000" stroke-width="3"/>
<line x1="1478" y1="454" x2="1834" y2="454" stroke="#000" stroke-width="3"/>
<line x1="1477" y1="454" x2="1489" y2="454" stroke="#000" stroke-width="3"/>
<text x="1473" y="464.4" font-size="29" text-anchor="end">0</text>
<line x1="1477" y1="339.9" x2="1489" y2="339.9" stroke="#000" stroke-width="3"/>
<text x="1473" y="350.3" font-size="29" text-anchor="end">5</text>
<line x1="1477" y1="225.8" x2="1489" y2="225.8" stroke="#000" stroke-width="3"/>
<text x="1473" y="236.2" font-size="29" text-anchor="end">10</text>
<line x1="1477" y1="111.7" x2="1489" y2="111.7" stroke="#000" stroke-width="3"/>
<text x="1473" y="122.1" font-size="29" text-anchor="end">15</text>
<line x1="1546.5" y1="454" x2="1546.5" y2="466" stroke="#000" stroke-width="3"/>
<line x1="1660.8" y1="454" x2="1660.8" y2="466" stroke="#000" stroke-width="3"/>
<line x1="1775.3" y1="454" x2="1775.3" y2="466" stroke="#000" stroke-width="3"/>
<text x="1555" y="488.8" font-size="30" text-anchor="end" transform="rotate(-45 1555 488.8)">HL-60</text>
<text x="1669.3" y="488.8" font-size="30" text-anchor="end" transform="rotate(-45 1669.3 488.8)">ML-2</text>
<text x="1783.8" y="488.8" font-size="30" text-anchor="end" transform="rotate(-45 1783.8 488.8)">MOLM-13</text>
<text x="1372.5" y="278" font-size="31.4" text-anchor="middle" transform="rotate(-90 1372.5 278)" textLength="243" lengthAdjust="spacingAndGlyphs">CD123 Expression</text>
<text x="1411" y="279" font-size="31.4" text-anchor="middle" transform="rotate(-90 1411 279)" textLength="249" lengthAdjust="spacingAndGlyphs">[Fold Change MFI]</text>
<text x="1661.5" y="53.7" font-size="29.5" text-anchor="middle" textLength="81.5" lengthAdjust="spacingAndGlyphs">Day 8</text>
<text x="1492.6" y="197.5" font-size="28.5" textLength="129.5" lengthAdjust="spacingAndGlyphs"><tspan font-style="italic">p</tspan>=0.0002</text>
<line x1="1519.6" y1="204.6" x2="1574.3" y2="204.6" stroke="#000" stroke-width="2.4"/>
<text x="1590" y="126.8" font-size="28.5" textLength="131" lengthAdjust="spacingAndGlyphs"><tspan font-style="italic">p</tspan>=0.0003</text>
<line x1="1626.8" y1="132.8" x2="1681.4" y2="132.8" stroke="#000" stroke-width="2.4"/>
<text x="1710" y="197.5" font-size="28.5" textLength="112.5" lengthAdjust="spacingAndGlyphs"><tspan font-style="italic">p</tspan>=0.004</text>
<line x1="1743.1" y1="204.6" x2="1797.8" y2="204.6" stroke="#000" stroke-width="2.4"/>
<rect x="1480.1" y="608.3" width="16.6" height="16.6" fill="#636363" stroke="#000" stroke-width="2.3"/>
<rect x="1480.1" y="641.8" width="16.6" height="16.6" fill="#ff6200" stroke="#000" stroke-width="2.3"/>
<text x="1522.5" y="624.9" font-size="30" textLength="281" lengthAdjust="spacingAndGlyphs">No Azacitidine (<tspan font-style="italic">n</tspan>=7)</text>
<text x="1521" y="659.8" font-size="30" textLength="303" lengthAdjust="spacingAndGlyphs">Azacitidine 1μM (<tspan font-style="italic">n</tspan>=8)</text>
<line x1="63.2" y1="954.2" x2="453.3" y2="954.2" stroke="#fde7d0" stroke-width="1.4"/>
<path d="M140 954.2 L140 953.43 L141 953.33 L142 953.22 L143 953.09 L144 952.98 L145 952.81 L146 952.73 L147 952.43 L148 952.24 L149 952.08 L150 952.02 L151 951.69 L152 951.52 L153 951.31 L154 950.74 L155 950.43 L156 950.6 L157 949.87 L158 949.69 L159 949.49 L160 949.22 L161 948.59 L162 948.39 L163 947.83 L164 947.45 L165 947.54 L166 946.53 L167 945.88 L168 945.44 L169 945.39 L170 945.63 L171 945.25 L172 944.63 L173 943.02 L174 943.43 L175 942.81 L176 941.4 L177 941.78 L178 940.76 L179 940.31 L180 940.35 L181 938.58 L182 937.26 L183 937.78 L184 936.72 L185 935.34 L186 935.01 L187 932.92 L188 931.02 L189 929.97 L190 928.75 L191 926.52 L192 926.23 L193 923.56 L194 921.99 L195 919.45 L196 918.21 L197 914.54 L198 913.41 L199 910.66 L200 906.64 L201 903.5 L202 901.56 L203 898.52 L204 895.68 L205 892.36 L206 888.35 L207 885.85 L208 882.54 L209 878.43 L210 875.56 L211 871.17 L212 867.43 L213 864.19 L214 861.54 L215 858.66 L216 855.47 L217 853.46 L218 849.34 L219 847.6 L220 845.32 L221 843.73 L222 841.17 L223 839.33 L224 838.42 L225 836.45 L226 836.13 L227 836.57 L228 835.89 L229 835.27 L230 836.42 L231 836.83 L232 838.71 L233 838.86 L234 840.12 L235 841.65 L236 843.21 L237 844.67 L238 846.71 L239 848.93 L240 851.85 L241 853.71 L242 855.19 L243 858.96 L244 862.47 L245 865.39 L246 867.25 L247 871.2 L248 874.16 L249 877.2 L250 879.61 L251 881.64 L252 885.77 L253 888.92 L254 892.04 L255 894.95 L256 898.06 L257 900.45 L258 903 L259 906.23 L260 909.53 L261 911.74 L262 913.81 L263 917.82 L264 920.06 L265 921.61 L266 923.69 L267 925.89 L268 928.02 L269 929.45 L270 931.97 L271 933.03 L272 934.34 L273 936.93 L274 937.51 L275 939.15 L276 940.14 L277 942.74 L278 942.48 L279 943.74 L280 944.47 L281 945.37 L282 946.92 L283 947.28 L284 948.4 L285 948.66 L286 949.02 L287 949.99 L288 950.35 L289 950.89 L290 951.21 L291 951.54 L292 951.87 L293 951.88 L294 952.18 L295 952.51 L296 952.66 L297 952.86 L298 953.05 L299 953.2 L300 953.32 L300 954.2 Z" fill="#fdeedd" style="mix-blend-mode:multiply"/>
<polyline points="139,954.2 140,953.43 141,953.33 142,953.22 143,953.09 144,952.98 145,952.81 146,952.73 147,952.43 148,952.24 149,952.08 150,952.02 151,951.69 152,951.52 153,951.31 154,950.74 155,950.43 156,950.6 157,949.87 158,949.69 159,949.49 160,949.22 161,948.59 162,948.39 163,947.83 164,947.45 165,947.54 166,946.53 167,945.88 168,945.44 169,945.39 170,945.63 171,945.25 172,944.63 173,943.02 174,943.43 175,942.81 176,941.4 177,941.78 178,940.76 179,940.31 180,940.35 181,938.58 182,937.26 183,937.78 184,936.72 185,935.34 186,935.01 187,932.92 188,931.02 189,929.97 190,928.75 191,926.52 192,926.23 193,923.56 194,921.99 195,919.45 196,918.21 197,914.54 198,913.41 199,910.66 200,906.64 201,903.5 202,901.56 203,898.52 204,895.68 205,892.36 206,888.35 207,885.85 208,882.54 209,878.43 210,875.56 211,871.17 212,867.43 213,864.19 214,861.54 215,858.66 216,855.47 217,853.46 218,849.34 219,847.6 220,845.32 221,843.73 222,841.17 223,839.33 224,838.42 225,836.45 226,836.13 227,836.57 228,835.89 229,835.27 230,836.42 231,836.83 232,838.71 233,838.86 234,840.12 235,841.65 236,843.21 237,844.67 238,846.71 239,848.93 240,851.85 241,853.71 242,855.19 243,858.96 244,862.47 245,865.39 246,867.25 247,871.2 248,874.16 249,877.2 250,879.61 251,881.64 252,885.77 253,888.92 254,892.04 255,894.95 256,898.06 257,900.45 258,903 259,906.23 260,909.53 261,911.74 262,913.81 263,917.82 264,920.06 265,921.61 266,923.69 267,925.89 268,928.02 269,929.45 270,931.97 271,933.03 272,934.34 273,936.93 274,937.51 275,939.15 276,940.14 277,942.74 278,942.48 279,943.74 280,944.47 281,945.37 282,946.92 283,947.28 284,948.4 285,948.66 286,949.02 287,949.99 288,950.35 289,950.89 290,951.21 291,951.54 292,951.87 293,951.88 294,952.18 295,952.51 296,952.66 297,952.86 298,953.05 299,953.2 300,953.32 301,954.2" fill="none" stroke="#fdc995" stroke-width="1.3" stroke-linejoin="round" style="mix-blend-mode:multiply"/>
<line x1="63.2" y1="1018.8" x2="453.3" y2="1018.8" stroke="#fccc99" stroke-width="1.4"/>
<path d="M125 1018.8 L125 1018.36 L126 1018.3 L127 1018.22 L128 1018.14 L129 1018.05 L130 1017.95 L131 1017.84 L132 1017.73 L133 1017.58 L134 1017.37 L135 1017.3 L136 1017.12 L137 1016.91 L138 1016.83 L139 1016.52 L140 1016.26 L141 1015.96 L142 1015.97 L143 1015.63 L144 1015.46 L145 1014.82 L146 1014.56 L147 1014.63 L148 1013.72 L149 1013.38 L150 1013.25 L151 1012.92 L152 1012.94 L153 1012.72 L154 1011.92 L155 1012.01 L156 1011.54 L157 1011.14 L158 1011.03 L159 1010.2 L160 1009.88 L161 1009.04 L162 1009.1 L163 1008.6 L164 1008.45 L165 1007.88 L166 1007.83 L167 1007.75 L168 1006.28 L169 1005.88 L170 1005.72 L171 1005.5 L172 1005.73 L173 1005.4 L174 1004.76 L175 1004.6 L176 1002.53 L177 1002.51 L178 1000.77 L179 1000.75 L180 998.55 L181 997.59 L182 997.98 L183 996.11 L184 993.11 L185 992.24 L186 989.29 L187 988.37 L188 986.75 L189 983.19 L190 980.27 L191 978.49 L192 975.89 L193 972.26 L194 967.71 L195 964.69 L196 962.42 L197 958.5 L198 955.03 L199 951.3 L200 945.96 L201 943.33 L202 938.7 L203 935.12 L204 931.89 L205 927.19 L206 924.91 L207 920.57 L208 918.53 L209 915.06 L210 912.88 L211 910.46 L212 907.07 L213 905.76 L214 905.46 L215 903.38 L216 904.2 L217 903.68 L218 903.03 L219 904.17 L220 906.39 L221 906.18 L222 909.7 L223 911.96 L224 913.64 L225 917.56 L226 920.96 L227 924.99 L228 928.77 L229 931.78 L230 936.61 L231 940.14 L232 944.93 L233 949.12 L234 952.47 L235 957.74 L236 961.82 L237 965.41 L238 970.83 L239 974.8 L240 977.05 L241 980.83 L242 985.37 L243 988.71 L244 990.63 L245 993.05 L246 997.16 L247 998.07 L248 1000.43 L249 1003.03 L250 1005.24 L251 1007.41 L252 1008.94 L253 1009.09 L254 1011.14 L255 1011.76 L256 1013.1 L257 1013.53 L258 1014.43 L259 1015.23 L260 1015.83 L261 1016.1 L262 1016.72 L263 1017.02 L264 1017.25 L265 1017.46 L266 1017.73 L267 1017.93 L268 1018.08 L269 1018.22 L270 1018.32 L271 1018.41 L272 1018.8 L273 1018.8 L274 1018.8 L275 1018.8 L276 1018.8 L277 1018.8 L278 1018.8 L279 1018.8 L280 1018.8 L280 1018.8 Z" fill="#fdd6aa" style="mix-blend-mode:multiply"/>
<polyline points="124,1018.8 125,1018.36 126,1018.3 127,1018.22 128,1018.14 129,1018.05 130,1017.95 131,1017.84 132,1017.73 133,1017.58 134,1017.37 135,1017.3 136,1017.12 137,1016.91 138,1016.83 139,1016.52 140,1016.26 141,1015.96 142,1015.97 143,1015.63 144,1015.46 145,1014.82 146,1014.56 147,1014.63 148,1013.72 149,1013.38 150,1013.25 151,1012.92 152,1012.94 153,1012.72 154,1011.92 155,1012.01 156,1011.54 157,1011.14 158,1011.03 159,1010.2 160,1009.88 161,1009.04 162,1009.1 163,1008.6 164,1008.45 165,1007.88 166,1007.83 167,1007.75 168,1006.28 169,1005.88 170,1005.72 171,1005.5 172,1005.73 173,1005.4 174,1004.76 175,1004.6 176,1002.53 177,1002.51 178,1000.77 179,1000.75 180,998.55 181,997.59 182,997.98 183,996.11 184,993.11 185,992.24 186,989.29 187,988.37 188,986.75 189,983.19 190,980.27 191,978.49 192,975.89 193,972.26 194,967.71 195,964.69 196,962.42 197,958.5 198,955.03 199,951.3 200,945.96 201,943.33 202,938.7 203,935.12 204,931.89 205,927.19 206,924.91 207,920.57 208,918.53 209,915.06 210,912.88 211,910.46 212,907.07 213,905.76 214,905.46 215,903.38 216,904.2 217,903.68 218,903.03 219,904.17 220,906.39 221,906.18 222,909.7 223,911.96 224,913.64 225,917.56 226,920.96 227,924.99 228,928.77 229,931.78 230,936.61 231,940.14 232,944.93 233,949.12 234,952.47 235,957.74 236,961.82 237,965.41 238,970.83 239,974.8 240,977.05 241,980.83 242,985.37 243,988.71 244,990.63 245,993.05 246,997.16 247,998.07 248,1000.43 249,1003.03 250,1005.24 251,1007.41 252,1008.94 253,1009.09 254,1011.14 255,1011.76 256,1013.1 257,1013.53 258,1014.43 259,1015.23 260,1015.83 261,1016.1 262,1016.72 263,1017.02 264,1017.25 265,1017.46 266,1017.73 267,1017.93 268,1018.08 269,1018.22 270,1018.32 271,1018.41 272,1018.8" fill="none" stroke="#f5a04a" stroke-width="1.3" stroke-linejoin="round" style="mix-blend-mode:multiply"/>
<line x1="63.2" y1="1082.8" x2="453.3" y2="1082.8" stroke="#edb67d" stroke-width="1.4"/>
<path d="M110 1082.8 L110 1082.8 L111 1082.8 L112 1082.44 L113 1082.39 L114 1082.34 L115 1082.27 L116 1082.2 L117 1082.13 L118 1082.04 L119 1081.95 L120 1081.85 L121 1081.74 L122 1081.59 L123 1081.45 L124 1081.4 L125 1081.28 L126 1081.04 L127 1080.89 L128 1080.54 L129 1080.36 L130 1080.17 L131 1079.95 L132 1079.65 L133 1079.62 L134 1079.21 L135 1079.07 L136 1078.37 L137 1078.55 L138 1077.76 L139 1077.92 L140 1077.15 L141 1077.06 L142 1076.65 L143 1075.91 L144 1076.28 L145 1075.89 L146 1074.65 L147 1074.69 L148 1074.78 L149 1073.36 L150 1073 L151 1073.68 L152 1072.91 L153 1072.94 L154 1072.34 L155 1071.53 L156 1071.86 L157 1070.68 L158 1071.37 L159 1070.83 L160 1069.38 L161 1069.74 L162 1069.34 L163 1068.62 L164 1068.44 L165 1068.19 L166 1068.44 L167 1066.55 L168 1065.53 L169 1064.91 L170 1064.88 L171 1064.77 L172 1063.94 L173 1062.39 L174 1061.42 L175 1061.43 L176 1059.96 L177 1058.35 L178 1056.55 L179 1054.31 L180 1053.13 L181 1052.11 L182 1048.39 L183 1046.87 L184 1044.21 L185 1042.16 L186 1038.92 L187 1036.01 L188 1032.09 L189 1030.12 L190 1025.77 L191 1022.93 L192 1018.2 L193 1015.73 L194 1011.38 L195 1007.33 L196 1002.81 L197 1000.04 L198 995.31 L199 991.96 L200 988.06 L201 984.03 L202 979.58 L203 977.24 L204 973.21 L205 971.95 L206 967.86 L207 966.71 L208 965.11 L209 962.38 L210 960.8 L211 961.73 L212 960.7 L213 959.59 L214 960.61 L215 961.15 L216 962.13 L217 962.75 L218 962.44 L219 962.72 L220 963.87 L221 966.2 L222 968.64 L223 969.67 L224 970.51 L225 972.33 L226 974.74 L227 977.71 L228 979.37 L229 981.82 L230 983.96 L231 987.22 L232 988.45 L233 991.22 L234 995.4 L235 997.9 L236 999.54 L237 1003.55 L238 1005.06 L239 1008.76 L240 1011.25 L241 1014.07 L242 1017.87 L243 1020.53 L244 1023.35 L245 1025.23 L246 1027.89 L247 1031.65 L248 1032.72 L249 1036.18 L250 1039 L251 1041 L252 1042.23 L253 1045.32 L254 1047.36 L255 1048.87 L256 1050.8 L257 1053.14 L258 1055.68 L259 1057.12 L260 1058.19 L261 1060.03 L262 1061.98 L263 1063.91 L264 1065.25 L265 1065.82 L266 1067.4 L267 1069.59 L268 1069.41 L269 1070.16 L270 1071.33 L271 1072.13 L272 1073 L273 1074.25 L274 1074.72 L275 1075.81 L276 1076.67 L277 1077.02 L278 1077.57 L279 1077.65 L280 1078.28 L281 1078.79 L282 1079.14 L283 1079.71 L284 1079.86 L285 1080.09 L286 1080.46 L287 1080.75 L288 1080.92 L289 1081.14 L290 1081.24 L291 1081.51 L292 1081.66 L293 1081.75 L294 1081.85 L295 1081.96 L296 1082.05 L297 1082.14 L298 1082.22 L299 1082.29 L300 1082.35 L301 1082.4 L302 1082.8 L303 1082.8 L304 1082.8 L305 1082.8 L306 1082.8 L307 1082.8 L308 1082.8 L309 1082.8 L310 1082.8 L311 1082.8 L312 1082.8 L313 1082.8 L314 1082.8 L315 1082.8 L316 1082.8 L317 1082.8 L318 1082.8 L319 1082.8 L320 1082.8 L320 1082.8 Z" fill="#f1c290" style="mix-blend-mode:multiply"/>
<polyline points="111,1082.8 112,1082.44 113,1082.39 114,1082.34 115,1082.27 116,1082.2 117,1082.13 118,1082.04 119,1081.95 120,1081.85 121,1081.74 122,1081.59 123,1081.45 124,1081.4 125,1081.28 126,1081.04 127,1080.89 128,1080.54 129,1080.36 130,1080.17 131,1079.95 132,1079.65 133,1079.62 134,1079.21 135,1079.07 136,1078.37 137,1078.55 138,1077.76 139,1077.92 140,1077.15 141,1077.06 142,1076.65 143,1075.91 144,1076.28 145,1075.89 146,1074.65 147,1074.69 148,1074.78 149,1073.36 150,1073 151,1073.68 152,1072.91 153,1072.94 154,1072.34 155,1071.53 156,1071.86 157,1070.68 158,1071.37 159,1070.83 160,1069.38 161,1069.74 162,1069.34 163,1068.62 164,1068.44 165,1068.19 166,1068.44 167,1066.55 168,1065.53 169,1064.91 170,1064.88 171,1064.77 172,1063.94 173,1062.39 174,1061.42 175,1061.43 176,1059.96 177,1058.35 178,1056.55 179,1054.31 180,1053.13 181,1052.11 182,1048.39 183,1046.87 184,1044.21 185,1042.16 186,1038.92 187,1036.01 188,1032.09 189,1030.12 190,1025.77 191,1022.93 192,1018.2 193,1015.73 194,1011.38 195,1007.33 196,1002.81 197,1000.04 198,995.31 199,991.96 200,988.06 201,984.03 202,979.58 203,977.24 204,973.21 205,971.95 206,967.86 207,966.71 208,965.11 209,962.38 210,960.8 211,961.73 212,960.7 213,959.59 214,960.61 215,961.15 216,962.13 217,962.75 218,962.44 219,962.72 220,963.87 221,966.2 222,968.64 223,969.67 224,970.51 225,972.33 226,974.74 227,977.71 228,979.37 229,981.82 230,983.96 231,987.22 232,988.45 233,991.22 234,995.4 235,997.9 236,999.54 237,1003.55 238,1005.06 239,1008.76 240,1011.25 241,1014.07 242,1017.87 243,1020.53 244,1023.35 245,1025.23 246,1027.89 247,1031.65 248,1032.72 249,1036.18 250,1039 251,1041 252,1042.23 253,1045.32 254,1047.36 255,1048.87 256,1050.8 257,1053.14 258,1055.68 259,1057.12 260,1058.19 261,1060.03 262,1061.98 263,1063.91 264,1065.25 265,1065.82 266,1067.4 267,1069.59 268,1069.41 269,1070.16 270,1071.33 271,1072.13 272,1073 273,1074.25 274,1074.72 275,1075.81 276,1076.67 277,1077.02 278,1077.57 279,1077.65 280,1078.28 281,1078.79 282,1079.14 283,1079.71 284,1079.86 285,1080.09 286,1080.46 287,1080.75 288,1080.92 289,1081.14 290,1081.24 291,1081.51 292,1081.66 293,1081.75 294,1081.85 295,1081.96 296,1082.05 297,1082.14 298,1082.22 299,1082.29 300,1082.35 301,1082.4 302,1082.8" fill="none" stroke="#d98224" stroke-width="1.3" stroke-linejoin="round" style="mix-blend-mode:multiply"/>
<line x1="63.2" y1="1146.8" x2="453.3" y2="1146.8" stroke="#c09f7e" stroke-width="1.4"/>
<path d="M110 1146.8 L110 1146.8 L111 1146.8 L112 1146.8 L113 1146.45 L114 1146.4 L115 1146.34 L116 1146.27 L117 1146.19 L118 1146.1 L119 1146 L120 1145.89 L121 1145.8 L122 1145.6 L123 1145.43 L124 1145.22 L125 1145.17 L126 1144.94 L127 1144.73 L128 1144.45 L129 1143.98 L130 1143.89 L131 1143.36 L132 1143.12 L133 1142.65 L134 1142.1 L135 1141.29 L136 1140.87 L137 1140.75 L138 1139.86 L139 1139.28 L140 1137.68 L141 1136.86 L142 1135.9 L143 1134.82 L144 1133.84 L145 1132.28 L146 1131.29 L147 1131.05 L148 1128.46 L149 1127.71 L150 1125.6 L151 1124.32 L152 1122.83 L153 1121.12 L154 1119.05 L155 1117.25 L156 1115.52 L157 1111.9 L158 1109.64 L159 1106.87 L160 1104.98 L161 1102.7 L162 1099.68 L163 1098.2 L164 1094.34 L165 1091.97 L166 1089.62 L167 1086.63 L168 1083.02 L169 1080.56 L170 1077.13 L171 1073.81 L172 1071.19 L173 1068.7 L174 1064.99 L175 1062.53 L176 1059.61 L177 1056.83 L178 1053.69 L179 1051.56 L180 1047.79 L181 1044.67 L182 1043.39 L183 1040.46 L184 1037.9 L185 1037.69 L186 1035.66 L187 1032.67 L188 1031.12 L189 1030.21 L190 1030.06 L191 1028.63 L192 1027 L193 1026.44 L194 1026.3 L195 1027.39 L196 1026.16 L197 1027.3 L198 1026.93 L199 1028.52 L200 1027.41 L201 1028.82 L202 1029.38 L203 1031.31 L204 1031.52 L205 1032.72 L206 1033.94 L207 1035.74 L208 1036.45 L209 1038.75 L210 1040.47 L211 1042.44 L212 1043.18 L213 1046.19 L214 1047.9 L215 1050.21 L216 1051.12 L217 1053.4 L218 1055.59 L219 1058.8 L220 1060.23 L221 1062.7 L222 1065.49 L223 1067.99 L224 1068.33 L225 1072.43 L226 1074.41 L227 1076.83 L228 1078.51 L229 1081.88 L230 1083.42 L231 1085.92 L232 1087.27 L233 1091.18 L234 1092.74 L235 1094.61 L236 1095.82 L237 1098.84 L238 1101 L239 1102.64 L240 1105.36 L241 1107.83 L242 1108.78 L243 1109.79 L244 1111.92 L245 1114.6 L246 1115.42 L247 1116.71 L248 1119.46 L249 1120.3 L250 1122.22 L251 1123.84 L252 1125.09 L253 1126.54 L254 1127.48 L255 1129.29 L256 1129.69 L257 1131.39 L258 1131.07 L259 1132.37 L260 1134.36 L261 1133.9 L262 1135.67 L263 1136 L264 1136.65 L265 1137.63 L266 1138.33 L267 1138.78 L268 1139.66 L269 1139.52 L270 1140.7 L271 1140.6 L272 1141.52 L273 1141.87 L274 1142.2 L275 1142.77 L276 1143.05 L277 1143.24 L278 1143.5 L279 1143.59 L280 1143.82 L281 1144.4 L282 1144.45 L283 1144.77 L284 1144.77 L285 1145.07 L286 1145.1 L287 1145.32 L288 1145.53 L289 1145.67 L290 1145.74 L291 1145.81 L292 1145.9 L293 1145.99 L294 1146.07 L295 1146.14 L296 1146.21 L297 1146.27 L298 1146.32 L299 1146.37 L300 1146.41 L301 1146.8 L302 1146.8 L303 1146.8 L304 1146.8 L305 1146.8 L306 1146.8 L307 1146.8 L308 1146.8 L309 1146.8 L310 1146.8 L311 1146.8 L312 1146.8 L313 1146.8 L314 1146.8 L315 1146.8 L315 1146.8 Z" fill="#cbae91" style="mix-blend-mode:multiply"/>
<polyline points="112,1146.8 113,1146.45 114,1146.4 115,1146.34 116,1146.27 117,1146.19 118,1146.1 119,1146 120,1145.89 121,1145.8 122,1145.6 123,1145.43 124,1145.22 125,1145.17 126,1144.94 127,1144.73 128,1144.45 129,1143.98 130,1143.89 131,1143.36 132,1143.12 133,1142.65 134,1142.1 135,1141.29 136,1140.87 137,1140.75 138,1139.86 139,1139.28 140,1137.68 141,1136.86 142,1135.9 143,1134.82 144,1133.84 145,1132.28 146,1131.29 147,1131.05 148,1128.46 149,1127.71 150,1125.6 151,1124.32 152,1122.83 153,1121.12 154,1119.05 155,1117.25 156,1115.52 157,1111.9 158,1109.64 159,1106.87 160,1104.98 161,1102.7 162,1099.68 163,1098.2 164,1094.34 165,1091.97 166,1089.62 167,1086.63 168,1083.02 169,1080.56 170,1077.13 171,1073.81 172,1071.19 173,1068.7 174,1064.99 175,1062.53 176,1059.61 177,1056.83 178,1053.69 179,1051.56 180,1047.79 181,1044.67 182,1043.39 183,1040.46 184,1037.9 185,1037.69 186,1035.66 187,1032.67 188,1031.12 189,1030.21 190,1030.06 191,1028.63 192,1027 193,1026.44 194,1026.3 195,1027.39 196,1026.16 197,1027.3 198,1026.93 199,1028.52 200,1027.41 201,1028.82 202,1029.38 203,1031.31 204,1031.52 205,1032.72 206,1033.94 207,1035.74 208,1036.45 209,1038.75 210,1040.47 211,1042.44 212,1043.18 213,1046.19 214,1047.9 215,1050.21 216,1051.12 217,1053.4 218,1055.59 219,1058.8 220,1060.23 221,1062.7 222,1065.49 223,1067.99 224,1068.33 225,1072.43 226,1074.41 227,1076.83 228,1078.51 229,1081.88 230,1083.42 231,1085.92 232,1087.27 233,1091.18 234,1092.74 235,1094.61 236,1095.82 237,1098.84 238,1101 239,1102.64 240,1105.36 241,1107.83 242,1108.78 243,1109.79 244,1111.92 245,1114.6 246,1115.42 247,1116.71 248,1119.46 249,1120.3 250,1122.22 251,1123.84 252,1125.09 253,1126.54 254,1127.48 255,1129.29 256,1129.69 257,1131.39 258,1131.07 259,1132.37 260,1134.36 261,1133.9 262,1135.67 263,1136 264,1136.65 265,1137.63 266,1138.33 267,1138.78 268,1139.66 269,1139.52 270,1140.7 271,1140.6 272,1141.52 273,1141.87 274,1142.2 275,1142.77 276,1143.05 277,1143.24 278,1143.5 279,1143.59 280,1143.82 281,1144.4 282,1144.45 283,1144.77 284,1144.77 285,1145.07 286,1145.1 287,1145.32 288,1145.53 289,1145.67 290,1145.74 291,1145.81 292,1145.9 293,1145.99 294,1146.07 295,1146.14 296,1146.21 297,1146.27 298,1146.32 299,1146.37 300,1146.41 301,1146.8" fill="none" stroke="#8c5a26" stroke-width="1.3" stroke-linejoin="round" style="mix-blend-mode:multiply"/>
<path d="M110 1207.5 L110 1207.5 L111 1207.5 L112 1207.5 L113 1207.13 L114 1207.05 L115 1206.96 L116 1206.85 L117 1206.72 L118 1206.58 L119 1206.46 L120 1206.17 L121 1205.94 L122 1205.6 L123 1205.46 L124 1205.12 L125 1204.54 L126 1204.1 L127 1203.74 L128 1202.93 L129 1202.44 L130 1201.4 L131 1201.11 L132 1200.11 L133 1198.31 L134 1197.81 L135 1196.7 L136 1194.42 L137 1193.14 L138 1192.41 L139 1189.77 L140 1187.57 L141 1186.43 L142 1183.17 L143 1181.77 L144 1178.73 L145 1176.46 L146 1173.29 L147 1168.66 L148 1166.58 L149 1162.04 L150 1159.65 L151 1155.7 L152 1151.46 L153 1148.04 L154 1145.33 L155 1140.47 L156 1136.45 L157 1133.43 L158 1129.7 L159 1124.28 L160 1121.23 L161 1118.2 L162 1114.15 L163 1111.24 L164 1106.89 L165 1104.51 L166 1102.57 L167 1098.66 L168 1097.93 L169 1095.66 L170 1094.59 L171 1091.93 L172 1092.29 L173 1090.93 L174 1091.61 L175 1090.84 L176 1090.43 L177 1090.73 L178 1090.89 L179 1090.83 L180 1090.93 L181 1090.84 L182 1092.52 L183 1092.88 L184 1094.92 L185 1095.63 L186 1097.85 L187 1102.32 L188 1105.23 L189 1107.47 L190 1111.36 L191 1116.32 L192 1119 L193 1122.72 L194 1128.07 L195 1132.6 L196 1136.58 L197 1140.26 L198 1145.99 L199 1150.24 L200 1154.69 L201 1157.93 L202 1162.22 L203 1166.46 L204 1169.84 L205 1174 L206 1176.71 L207 1178.43 L208 1182.09 L209 1185.36 L210 1186.51 L211 1189.92 L212 1192.2 L213 1194.45 L214 1195.87 L215 1197.26 L216 1198.55 L217 1199.05 L218 1200.76 L219 1201.72 L220 1202.3 L221 1202.88 L222 1203.88 L223 1204.24 L224 1204.89 L225 1205.25 L226 1205.6 L227 1205.85 L228 1206.16 L229 1206.43 L230 1206.62 L231 1206.77 L232 1206.91 L233 1207.02 L234 1207.11 L235 1207.5 L235 1207.5 Z" fill="#9b9b9b" style="mix-blend-mode:multiply"/>
<polyline points="112,1207.5 113,1207.13 114,1207.05 115,1206.96 116,1206.85 117,1206.72 118,1206.58 119,1206.46 120,1206.17 121,1205.94 122,1205.6 123,1205.46 124,1205.12 125,1204.54 126,1204.1 127,1203.74 128,1202.93 129,1202.44 130,1201.4 131,1201.11 132,1200.11 133,1198.31 134,1197.81 135,1196.7 136,1194.42 137,1193.14 138,1192.41 139,1189.77 140,1187.57 141,1186.43 142,1183.17 143,1181.77 144,1178.73 145,1176.46 146,1173.29 147,1168.66 148,1166.58 149,1162.04 150,1159.65 151,1155.7 152,1151.46 153,1148.04 154,1145.33 155,1140.47 156,1136.45 157,1133.43 158,1129.7 159,1124.28 160,1121.23 161,1118.2 162,1114.15 163,1111.24 164,1106.89 165,1104.51 166,1102.57 167,1098.66 168,1097.93 169,1095.66 170,1094.59 171,1091.93 172,1092.29 173,1090.93 174,1091.61 175,1090.84 176,1090.43 177,1090.73 178,1090.89 179,1090.83 180,1090.93 181,1090.84 182,1092.52 183,1092.88 184,1094.92 185,1095.63 186,1097.85 187,1102.32 188,1105.23 189,1107.47 190,1111.36 191,1116.32 192,1119 193,1122.72 194,1128.07 195,1132.6 196,1136.58 197,1140.26 198,1145.99 199,1150.24 200,1154.69 201,1157.93 202,1162.22 203,1166.46 204,1169.84 205,1174 206,1176.71 207,1178.43 208,1182.09 209,1185.36 210,1186.51 211,1189.92 212,1192.2 213,1194.45 214,1195.87 215,1197.26 216,1198.55 217,1199.05 218,1200.76 219,1201.72 220,1202.3 221,1202.88 222,1203.88 223,1204.24 224,1204.89 225,1205.25 226,1205.6 227,1205.85 228,1206.16 229,1206.43 230,1206.62 231,1206.77 232,1206.91 233,1207.02 234,1207.11 235,1207.5" fill="none" stroke="#111111" stroke-width="1.3" stroke-linejoin="round" style="mix-blend-mode:multiply"/>
<line x1="194.1" y1="819.7" x2="194.1" y2="1207.5" stroke="#000" stroke-width="2.8"/>
<rect x="63.2" y="817.2" width="390.1" height="390.3" fill="none" stroke="#000" stroke-width="1.8"/>
<line x1="63.2" y1="1210.7" x2="453.3" y2="1210.7" stroke="#666" stroke-width="1.1"/>
<line x1="97.2" y1="1210.7" x2="97.2" y2="1219.2" stroke="#000" stroke-width="2.6"/>
<line x1="141.2" y1="1210.7" x2="141.2" y2="1219.2" stroke="#000" stroke-width="2.6"/>
<line x1="231.2" y1="1210.7" x2="231.2" y2="1219.2" stroke="#000" stroke-width="2.6"/>
<line x1="326.2" y1="1210.7" x2="326.2" y2="1219.2" stroke="#000" stroke-width="2.6"/>
<line x1="414.2" y1="1210.7" x2="414.2" y2="1219.2" stroke="#000" stroke-width="2.6"/>
<line x1="168.29" y1="1210.7" x2="168.29" y2="1215.7" stroke="#000" stroke-width="1.3"/>
<line x1="184.14" y1="1210.7" x2="184.14" y2="1215.7" stroke="#000" stroke-width="1.3"/>
<line x1="195.39" y1="1210.7" x2="195.39" y2="1215.7" stroke="#000" stroke-width="1.3"/>
<line x1="204.11" y1="1210.7" x2="204.11" y2="1215.7" stroke="#000" stroke-width="1.3"/>
<line x1="211.23" y1="1210.7" x2="211.23" y2="1215.7" stroke="#000" stroke-width="1.3"/>
<line x1="217.26" y1="1210.7" x2="217.26" y2="1215.7" stroke="#000" stroke-width="1.3"/>
<line x1="222.48" y1="1210.7" x2="222.48" y2="1215.7" stroke="#000" stroke-width="1.3"/>
<line x1="227.08" y1="1210.7" x2="227.08" y2="1215.7" stroke="#000" stroke-width="1.3"/>
<line x1="259.8" y1="1210.7" x2="259.8" y2="1215.7" stroke="#000" stroke-width="1.3"/>
<line x1="276.53" y1="1210.7" x2="276.53" y2="1215.7" stroke="#000" stroke-width="1.3"/>
<line x1="288.4" y1="1210.7" x2="288.4" y2="1215.7" stroke="#000" stroke-width="1.3"/>
<line x1="297.6" y1="1210.7" x2="297.6" y2="1215.7" stroke="#000" stroke-width="1.3"/>
<line x1="305.12" y1="1210.7" x2="305.12" y2="1215.7" stroke="#000" stroke-width="1.3"/>
<line x1="311.48" y1="1210.7" x2="311.48" y2="1215.7" stroke="#000" stroke-width="1.3"/>
<line x1="316.99" y1="1210.7" x2="316.99" y2="1215.7" stroke="#000" stroke-width="1.3"/>
<line x1="321.85" y1="1210.7" x2="321.85" y2="1215.7" stroke="#000" stroke-width="1.3"/>
<line x1="352.69" y1="1210.7" x2="352.69" y2="1215.7" stroke="#000" stroke-width="1.3"/>
<line x1="368.19" y1="1210.7" x2="368.19" y2="1215.7" stroke="#000" stroke-width="1.3"/>
<line x1="379.18" y1="1210.7" x2="379.18" y2="1215.7" stroke="#000" stroke-width="1.3"/>
<line x1="387.71" y1="1210.7" x2="387.71" y2="1215.7" stroke="#000" stroke-width="1.3"/>
<line x1="394.68" y1="1210.7" x2="394.68" y2="1215.7" stroke="#000" stroke-width="1.3"/>
<line x1="400.57" y1="1210.7" x2="400.57" y2="1215.7" stroke="#000" stroke-width="1.3"/>
<line x1="405.67" y1="1210.7" x2="405.67" y2="1215.7" stroke="#000" stroke-width="1.3"/>
<line x1="410.17" y1="1210.7" x2="410.17" y2="1215.7" stroke="#000" stroke-width="1.3"/>
<line x1="440.69" y1="1210.7" x2="440.69" y2="1215.7" stroke="#000" stroke-width="1.3"/>
<line x1="82.3" y1="1210.7" x2="82.3" y2="1215.7" stroke="#000" stroke-width="1.3"/>
<line x1="73.58" y1="1210.7" x2="73.58" y2="1215.7" stroke="#000" stroke-width="1.3"/>
<line x1="67.4" y1="1210.7" x2="67.4" y2="1215.7" stroke="#000" stroke-width="1.3"/>
<line x1="103.2" y1="1210.7" x2="103.2" y2="1217.7" stroke="#000" stroke-width="1.3"/>
<line x1="105.8" y1="1210.7" x2="105.8" y2="1215.7" stroke="#000" stroke-width="1.3"/>
<line x1="108.4" y1="1210.7" x2="108.4" y2="1215.7" stroke="#000" stroke-width="1.3"/>
<line x1="111" y1="1210.7" x2="111" y2="1217.7" stroke="#000" stroke-width="1.3"/>
<line x1="113.6" y1="1210.7" x2="113.6" y2="1215.7" stroke="#000" stroke-width="1.3"/>
<line x1="116.2" y1="1210.7" x2="116.2" y2="1215.7" stroke="#000" stroke-width="1.3"/>
<line x1="118.8" y1="1210.7" x2="118.8" y2="1217.7" stroke="#000" stroke-width="1.3"/>
<line x1="121.4" y1="1210.7" x2="121.4" y2="1215.7" stroke="#000" stroke-width="1.3"/>
<line x1="124" y1="1210.7" x2="124" y2="1215.7" stroke="#000" stroke-width="1.3"/>
<line x1="126.6" y1="1210.7" x2="126.6" y2="1217.7" stroke="#000" stroke-width="1.3"/>
<line x1="129.2" y1="1210.7" x2="129.2" y2="1215.7" stroke="#000" stroke-width="1.3"/>
<line x1="131.8" y1="1210.7" x2="131.8" y2="1215.7" stroke="#000" stroke-width="1.3"/>
<line x1="134.4" y1="1210.7" x2="134.4" y2="1217.7" stroke="#000" stroke-width="1.3"/>
<line x1="137" y1="1210.7" x2="137" y2="1215.7" stroke="#000" stroke-width="1.3"/>
<text x="126.8" y="1241" font-size="14" text-anchor="middle" fill="#111" stroke="#111" stroke-width="0.45" textLength="7" lengthAdjust="spacingAndGlyphs">0</text>
<text x="232.7" y="1241" font-size="14.5" fill="#111" stroke="#111" stroke-width="0.45" textLength="12" lengthAdjust="spacingAndGlyphs">10</text>
<text x="245.7" y="1232.5" font-size="11.5" fill="#111" stroke="#111" stroke-width="0.45" textLength="6.5" lengthAdjust="spacingAndGlyphs">3</text>
<text x="327.7" y="1241" font-size="14.5" fill="#111" stroke="#111" stroke-width="0.45" textLength="12" lengthAdjust="spacingAndGlyphs">10</text>
<text x="340.7" y="1232.5" font-size="11.5" fill="#111" stroke="#111" stroke-width="0.45" textLength="6.5" lengthAdjust="spacingAndGlyphs">4</text>
<text x="415.7" y="1241" font-size="14.5" fill="#111" stroke="#111" stroke-width="0.45" textLength="12" lengthAdjust="spacingAndGlyphs">10</text>
<text x="428.7" y="1232.5" font-size="11.5" fill="#111" stroke="#111" stroke-width="0.45" textLength="6.5" lengthAdjust="spacingAndGlyphs">5</text>
<text x="73.5" y="863.1" font-size="38" fill="#f00000" textLength="108.7" lengthAdjust="spacingAndGlyphs">HL-60</text>
<line x1="467.7" y1="957.9" x2="861.8" y2="957.9" stroke="#fde7d0" stroke-width="1.4"/>
<path d="M530 957.9 L530 956.47 L531 956.4 L532 956.26 L533 956.1 L534 956.12 L535 955.89 L536 955.66 L537 955.51 L538 955.44 L539 955.41 L540 955.15 L541 954.74 L542 954.92 L543 954.64 L544 954.14 L545 954.17 L546 954.09 L547 953.82 L548 953.25 L549 953.36 L550 953.07 L551 952.7 L552 952.33 L553 952.32 L554 952.39 L555 951.76 L556 951.97 L557 951.68 L558 951.37 L559 950.66 L560 950.81 L561 950.17 L562 950.47 L563 950.3 L564 950.19 L565 949.21 L566 948.81 L567 949.35 L568 949.13 L569 949.21 L570 948.23 L571 948.48 L572 948.51 L573 947.66 L574 947.54 L575 947.57 L576 947.81 L577 946.95 L578 946.88 L579 946.88 L580 947.09 L581 945.73 L582 945.6 L583 945.64 L584 944.88 L585 945.27 L586 945.37 L587 945.43 L588 944.19 L589 943.92 L590 943.61 L591 941.97 L592 941.68 L593 942.47 L594 940.2 L595 941.15 L596 938.95 L597 938.63 L598 936.71 L599 935.07 L600 934.6 L601 932.71 L602 932.59 L603 929.69 L604 929 L605 926.39 L606 924.58 L607 922.91 L608 919.24 L609 918.09 L610 915.19 L611 912.83 L612 908.85 L613 906.64 L614 904.12 L615 901.02 L616 897.42 L617 893.57 L618 891.22 L619 887.81 L620 883.12 L621 879.98 L622 877.36 L623 873.63 L624 870.67 L625 867.11 L626 863.71 L627 860.99 L628 858.09 L629 855.24 L630 852.46 L631 849.52 L632 846.61 L633 845.07 L634 843.68 L635 843.02 L636 841.36 L637 839.44 L638 839.15 L639 837.79 L640 837.47 L641 838.89 L642 839.46 L643 840.79 L644 841.71 L645 845 L646 847.2 L647 848.94 L648 853.25 L649 855.65 L650 860.67 L651 863.86 L652 868.85 L653 873.94 L654 877.41 L655 882.6 L656 885.62 L657 890.42 L658 895.03 L659 898.38 L660 903.1 L661 906.04 L662 910.11 L663 914.52 L664 917.39 L665 919.13 L666 923.22 L667 923.8 L668 927.76 L669 928.18 L670 930.04 L671 931.83 L672 932.59 L673 933.57 L674 934.76 L675 935.48 L676 936.35 L677 935.4 L678 935.07 L679 936.08 L680 935.01 L681 935.73 L682 935.74 L683 934.31 L684 933.66 L685 934.89 L686 932.86 L687 933.47 L688 932.04 L689 932.49 L690 930.57 L691 931.36 L692 931.12 L693 930.94 L694 930.31 L695 929.96 L696 928.09 L697 929.32 L698 928.79 L699 928.25 L700 928.19 L701 926.71 L702 928.09 L703 926.62 L704 927.21 L705 927.6 L706 927.47 L707 927 L708 927.75 L709 927.73 L710 928.08 L711 928.19 L712 928.34 L713 929.7 L714 929.67 L715 930.11 L716 931.66 L717 931.48 L718 933.64 L719 933.65 L720 934.79 L721 936.14 L722 935.98 L723 936.52 L724 938.19 L725 939.39 L726 939.23 L727 939.99 L728 941.64 L729 942.69 L730 943.44 L731 944.22 L732 945.13 L733 946.21 L734 946.7 L735 947.5 L736 948.39 L737 949.25 L738 950.09 L739 950.87 L740 951.19 L741 951.92 L742 952.32 L743 953.02 L744 953.02 L745 953.91 L746 953.92 L747 954.45 L748 954.66 L749 955 L750 955.54 L751 955.76 L752 955.81 L753 956.12 L754 956.44 L755 956.58 L756 956.76 L757 956.87 L758 956.97 L759 957.09 L760 957.19 L761 957.28 L762 957.37 L763 957.44 L764 957.5 L765 957.9 L766 957.9 L767 957.9 L768 957.9 L769 957.9 L770 957.9 L770 957.9 Z" fill="#fdeedd" style="mix-blend-mode:multiply"/>
<polyline points="529,957.9 530,956.47 531,956.4 532,956.26 533,956.1 534,956.12 535,955.89 536,955.66 537,955.51 538,955.44 539,955.41 540,955.15 541,954.74 542,954.92 543,954.64 544,954.14 545,954.17 546,954.09 547,953.82 548,953.25 549,953.36 550,953.07 551,952.7 552,952.33 553,952.32 554,952.39 555,951.76 556,951.97 557,951.68 558,951.37 559,950.66 560,950.81 561,950.17 562,950.47 563,950.3 564,950.19 565,949.21 566,948.81 567,949.35 568,949.13 569,949.21 570,948.23 571,948.48 572,948.51 573,947.66 574,947.54 575,947.57 576,947.81 577,946.95 578,946.88 579,946.88 580,947.09 581,945.73 582,945.6 583,945.64 584,944.88 585,945.27 586,945.37 587,945.43 588,944.19 589,943.92 590,943.61 591,941.97 592,941.68 593,942.47 594,940.2 595,941.15 596,938.95 597,938.63 598,936.71 599,935.07 600,934.6 601,932.71 602,932.59 603,929.69 604,929 605,926.39 606,924.58 607,922.91 608,919.24 609,918.09 610,915.19 611,912.83 612,908.85 613,906.64 614,904.12 615,901.02 616,897.42 617,893.57 618,891.22 619,887.81 620,883.12 621,879.98 622,877.36 623,873.63 624,870.67 625,867.11 626,863.71 627,860.99 628,858.09 629,855.24 630,852.46 631,849.52 632,846.61 633,845.07 634,843.68 635,843.02 636,841.36 637,839.44 638,839.15 639,837.79 640,837.47 641,838.89 642,839.46 643,840.79 644,841.71 645,845 646,847.2 647,848.94 648,853.25 649,855.65 650,860.67 651,863.86 652,868.85 653,873.94 654,877.41 655,882.6 656,885.62 657,890.42 658,895.03 659,898.38 660,903.1 661,906.04 662,910.11 663,914.52 664,917.39 665,919.13 666,923.22 667,923.8 668,927.76 669,928.18 670,930.04 671,931.83 672,932.59 673,933.57 674,934.76 675,935.48 676,936.35 677,935.4 678,935.07 679,936.08 680,935.01 681,935.73 682,935.74 683,934.31 684,933.66 685,934.89 686,932.86 687,933.47 688,932.04 689,932.49 690,930.57 691,931.36 692,931.12 693,930.94 694,930.31 695,929.96 696,928.09 697,929.32 698,928.79 699,928.25 700,928.19 701,926.71 702,928.09 703,926.62 704,927.21 705,927.6 706,927.47 707,927 708,927.75 709,927.73 710,928.08 711,928.19 712,928.34 713,929.7 714,929.67 715,930.11 716,931.66 717,931.48 718,933.64 719,933.65 720,934.79 721,936.14 722,935.98 723,936.52 724,938.19 725,939.39 726,939.23 727,939.99 728,941.64 729,942.69 730,943.44 731,944.22 732,945.13 733,946.21 734,946.7 735,947.5 736,948.39 737,949.25 738,950.09 739,950.87 740,951.19 741,951.92 742,952.32 743,953.02 744,953.02 745,953.91 746,953.92 747,954.45 748,954.66 749,955 750,955.54 751,955.76 752,955.81 753,956.12 754,956.44 755,956.58 756,956.76 757,956.87 758,956.97 759,957.09 760,957.19 761,957.28 762,957.37 763,957.44 764,957.5 765,957.9" fill="none" stroke="#fdc995" stroke-width="1.3" stroke-linejoin="round" style="mix-blend-mode:multiply"/>
<line x1="467.7" y1="1021.7" x2="861.8" y2="1021.7" stroke="#fccc99" stroke-width="1.4"/>
<path d="M500 1021.7 L500 1021.7 L501 1021.7 L502 1021.7 L503 1021.7 L504 1021.7 L505 1021.7 L506 1021.7 L507 1021.7 L508 1021.7 L509 1021.7 L510 1021.7 L511 1021.7 L512 1021.7 L513 1021.7 L514 1021.7 L515 1021.7 L516 1021.7 L517 1021.7 L518 1021.7 L519 1021.7 L520 1021.7 L521 1021.7 L522 1021.7 L523 1021.7 L524 1021.7 L525 1021.7 L526 1021.7 L527 1021.7 L528 1021.7 L529 1021.7 L530 1021.3 L531 1021.24 L532 1021.17 L533 1021.09 L534 1021 L535 1020.89 L536 1020.78 L537 1020.69 L538 1020.46 L539 1020.3 L540 1020.14 L541 1019.99 L542 1019.61 L543 1019.33 L544 1019.13 L545 1018.81 L546 1018.56 L547 1018.29 L548 1017.68 L549 1017.08 L550 1016.9 L551 1015.8 L552 1015.61 L553 1014.95 L554 1014.42 L555 1012.56 L556 1011.94 L557 1010.77 L558 1010.08 L559 1009.92 L560 1008.26 L561 1006.68 L562 1006.08 L563 1002.95 L564 1002.57 L565 1001.35 L566 998.29 L567 997.84 L568 994.3 L569 993.22 L570 990.89 L571 989.08 L572 986.48 L573 984.67 L574 982.47 L575 978.22 L576 976.82 L577 972.99 L578 971.32 L579 966.93 L580 964.15 L581 961.46 L582 958.44 L583 955.76 L584 952.41 L585 950.57 L586 946.81 L587 943.07 L588 941.32 L589 936.91 L590 934.08 L591 932.2 L592 929.53 L593 926.7 L594 924.28 L595 920.64 L596 919.56 L597 918.13 L598 916 L599 912.92 L600 910.72 L601 910.25 L602 908.99 L603 907.8 L604 906.54 L605 906.94 L606 905.73 L607 905.61 L608 905.49 L609 906.7 L610 907.36 L611 907.96 L612 908.05 L613 910.77 L614 912.1 L615 914.78 L616 917.54 L617 920.2 L618 921.5 L619 924.56 L620 928.52 L621 931.21 L622 934.65 L623 937.74 L624 941.22 L625 945.99 L626 948.51 L627 952.27 L628 956.7 L629 959.78 L630 964.18 L631 967.96 L632 971.69 L633 973.82 L634 978.52 L635 981.86 L636 983.43 L637 986.4 L638 989.75 L639 991.68 L640 995.74 L641 997.67 L642 999.81 L643 1001.61 L644 1004.03 L645 1006.02 L646 1007.13 L647 1007.62 L648 1008.97 L649 1010.67 L650 1012.22 L651 1013.54 L652 1013.77 L653 1015.08 L654 1015.72 L655 1016.92 L656 1017.41 L657 1017.63 L658 1018.17 L659 1018.61 L660 1019.12 L661 1019.52 L662 1019.78 L663 1020 L664 1020.34 L665 1020.5 L666 1020.72 L667 1020.84 L668 1020.97 L669 1021.08 L670 1021.17 L671 1021.24 L672 1021.3 L673 1021.34 L674 1021.7 L675 1021.7 L675 1021.7 Z" fill="#fdd6aa" style="mix-blend-mode:multiply"/>
<polyline points="529,1021.7 530,1021.3 531,1021.24 532,1021.17 533,1021.09 534,1021 535,1020.89 536,1020.78 537,1020.69 538,1020.46 539,1020.3 540,1020.14 541,1019.99 542,1019.61 543,1019.33 544,1019.13 545,1018.81 546,1018.56 547,1018.29 548,1017.68 549,1017.08 550,1016.9 551,1015.8 552,1015.61 553,1014.95 554,1014.42 555,1012.56 556,1011.94 557,1010.77 558,1010.08 559,1009.92 560,1008.26 561,1006.68 562,1006.08 563,1002.95 564,1002.57 565,1001.35 566,998.29 567,997.84 568,994.3 569,993.22 570,990.89 571,989.08 572,986.48 573,984.67 574,982.47 575,978.22 576,976.82 577,972.99 578,971.32 579,966.93 580,964.15 581,961.46 582,958.44 583,955.76 584,952.41 585,950.57 586,946.81 587,943.07 588,941.32 589,936.91 590,934.08 591,932.2 592,929.53 593,926.7 594,924.28 595,920.64 596,919.56 597,918.13 598,916 599,912.92 600,910.72 601,910.25 602,908.99 603,907.8 604,906.54 605,906.94 606,905.73 607,905.61 608,905.49 609,906.7 610,907.36 611,907.96 612,908.05 613,910.77 614,912.1 615,914.78 616,917.54 617,920.2 618,921.5 619,924.56 620,928.52 621,931.21 622,934.65 623,937.74 624,941.22 625,945.99 626,948.51 627,952.27 628,956.7 629,959.78 630,964.18 631,967.96 632,971.69 633,973.82 634,978.52 635,981.86 636,983.43 637,986.4 638,989.75 639,991.68 640,995.74 641,997.67 642,999.81 643,1001.61 644,1004.03 645,1006.02 646,1007.13 647,1007.62 648,1008.97 649,1010.67 650,1012.22 651,1013.54 652,1013.77 653,1015.08 654,1015.72 655,1016.92 656,1017.41 657,1017.63 658,1018.17 659,1018.61 660,1019.12 661,1019.52 662,1019.78 663,1020 664,1020.34 665,1020.5 666,1020.72 667,1020.84 668,1020.97 669,1021.08 670,1021.17 671,1021.24 672,1021.3 673,1021.34 674,1021.7" fill="none" stroke="#f5a04a" stroke-width="1.3" stroke-linejoin="round" style="mix-blend-mode:multiply"/>
<line x1="467.7" y1="1086.7" x2="861.8" y2="1086.7" stroke="#edb67d" stroke-width="1.4"/>
<path d="M480 1086.7 L480 1085.51 L481 1085.52 L482 1085.43 L483 1085.11 L484 1085.14 L485 1085.01 L486 1084.72 L487 1084.63 L488 1084.28 L489 1084.29 L490 1083.83 L491 1083.84 L492 1083.49 L493 1083.09 L494 1082.93 L495 1082.52 L496 1082.33 L497 1082.42 L498 1081.57 L499 1081.43 L500 1081.28 L501 1081.02 L502 1080.1 L503 1079.93 L504 1079.19 L505 1078.92 L506 1078.28 L507 1078.25 L508 1077.65 L509 1077.28 L510 1077.27 L511 1075.86 L512 1076.27 L513 1075.1 L514 1074.33 L515 1074.3 L516 1074.66 L517 1072.99 L518 1072.77 L519 1073.18 L520 1072.98 L521 1071.57 L522 1072.1 L523 1069.86 L524 1070.24 L525 1069.78 L526 1069.57 L527 1068.66 L528 1067.74 L529 1068.58 L530 1068.07 L531 1067.29 L532 1067.52 L533 1066.59 L534 1066.38 L535 1066.29 L536 1065.51 L537 1065.51 L538 1066.11 L539 1064.01 L540 1065.01 L541 1064.57 L542 1064.34 L543 1062.98 L544 1062.62 L545 1063.16 L546 1063.01 L547 1063.22 L548 1061.19 L549 1062.16 L550 1060.87 L551 1060.68 L552 1060.07 L553 1059.29 L554 1058.82 L555 1058.24 L556 1056.27 L557 1054.67 L558 1053.79 L559 1053.4 L560 1051.02 L561 1050.78 L562 1048.43 L563 1045.83 L564 1043.76 L565 1042.67 L566 1039.77 L567 1038.21 L568 1035.78 L569 1033.16 L570 1029.75 L571 1027.54 L572 1025.29 L573 1021.9 L574 1019.12 L575 1016.69 L576 1012.77 L577 1009.62 L578 1006.95 L579 1003.19 L580 1001.97 L581 997.98 L582 994.75 L583 992.45 L584 990.01 L585 986.3 L586 984.29 L587 982.26 L588 980.52 L589 976.68 L590 976.12 L591 975.03 L592 973.51 L593 972.35 L594 970.31 L595 971.13 L596 970.66 L597 971.02 L598 970.55 L599 971.62 L600 972.18 L601 972.49 L602 973.46 L603 975.26 L604 978.7 L605 980.11 L606 981.46 L607 985.6 L608 987.94 L609 990.22 L610 993.44 L611 995.83 L612 999.14 L613 1002.98 L614 1006.82 L615 1010.31 L616 1013.73 L617 1017.64 L618 1019.95 L619 1024.45 L620 1026.44 L621 1030.33 L622 1034.84 L623 1037.22 L624 1040.19 L625 1044.39 L626 1046.48 L627 1050.26 L628 1051.53 L629 1055.68 L630 1056.93 L631 1058.59 L632 1061.11 L633 1064.46 L634 1065.84 L635 1068.49 L636 1069.82 L637 1070.4 L638 1072.03 L639 1074.84 L640 1075.48 L641 1076.28 L642 1077.94 L643 1078.2 L644 1079.05 L645 1080.2 L646 1081.08 L647 1081.41 L648 1082.24 L649 1082.95 L650 1083.37 L651 1083.83 L652 1083.96 L653 1084.41 L654 1084.67 L655 1084.91 L656 1085.12 L657 1085.47 L658 1085.62 L659 1085.76 L660 1085.89 L661 1086.01 L662 1086.11 L663 1086.2 L664 1086.28 L665 1086.34 L666 1086.7 L667 1086.7 L668 1086.7 L669 1086.7 L670 1086.7 L671 1086.7 L672 1086.7 L673 1086.7 L674 1086.7 L675 1086.7 L676 1086.7 L677 1086.7 L678 1086.7 L679 1086.7 L680 1086.7 L680 1086.7 Z" fill="#f1c290" style="mix-blend-mode:multiply"/>
<polyline points="479,1086.7 480,1085.51 481,1085.52 482,1085.43 483,1085.11 484,1085.14 485,1085.01 486,1084.72 487,1084.63 488,1084.28 489,1084.29 490,1083.83 491,1083.84 492,1083.49 493,1083.09 494,1082.93 495,1082.52 496,1082.33 497,1082.42 498,1081.57 499,1081.43 500,1081.28 501,1081.02 502,1080.1 503,1079.93 504,1079.19 505,1078.92 506,1078.28 507,1078.25 508,1077.65 509,1077.28 510,1077.27 511,1075.86 512,1076.27 513,1075.1 514,1074.33 515,1074.3 516,1074.66 517,1072.99 518,1072.77 519,1073.18 520,1072.98 521,1071.57 522,1072.1 523,1069.86 524,1070.24 525,1069.78 526,1069.57 527,1068.66 528,1067.74 529,1068.58 530,1068.07 531,1067.29 532,1067.52 533,1066.59 534,1066.38 535,1066.29 536,1065.51 537,1065.51 538,1066.11 539,1064.01 540,1065.01 541,1064.57 542,1064.34 543,1062.98 544,1062.62 545,1063.16 546,1063.01 547,1063.22 548,1061.19 549,1062.16 550,1060.87 551,1060.68 552,1060.07 553,1059.29 554,1058.82 555,1058.24 556,1056.27 557,1054.67 558,1053.79 559,1053.4 560,1051.02 561,1050.78 562,1048.43 563,1045.83 564,1043.76 565,1042.67 566,1039.77 567,1038.21 568,1035.78 569,1033.16 570,1029.75 571,1027.54 572,1025.29 573,1021.9 574,1019.12 575,1016.69 576,1012.77 577,1009.62 578,1006.95 579,1003.19 580,1001.97 581,997.98 582,994.75 583,992.45 584,990.01 585,986.3 586,984.29 587,982.26 588,980.52 589,976.68 590,976.12 591,975.03 592,973.51 593,972.35 594,970.31 595,971.13 596,970.66 597,971.02 598,970.55 599,971.62 600,972.18 601,972.49 602,973.46 603,975.26 604,978.7 605,980.11 606,981.46 607,985.6 608,987.94 609,990.22 610,993.44 611,995.83 612,999.14 613,1002.98 614,1006.82 615,1010.31 616,1013.73 617,1017.64 618,1019.95 619,1024.45 620,1026.44 621,1030.33 622,1034.84 623,1037.22 624,1040.19 625,1044.39 626,1046.48 627,1050.26 628,1051.53 629,1055.68 630,1056.93 631,1058.59 632,1061.11 633,1064.46 634,1065.84 635,1068.49 636,1069.82 637,1070.4 638,1072.03 639,1074.84 640,1075.48 641,1076.28 642,1077.94 643,1078.2 644,1079.05 645,1080.2 646,1081.08 647,1081.41 648,1082.24 649,1082.95 650,1083.37 651,1083.83 652,1083.96 653,1084.41 654,1084.67 655,1084.91 656,1085.12 657,1085.47 658,1085.62 659,1085.76 660,1085.89 661,1086.01 662,1086.11 663,1086.2 664,1086.28 665,1086.34 666,1086.7" fill="none" stroke="#d98224" stroke-width="1.3" stroke-linejoin="round" style="mix-blend-mode:multiply"/>
<line x1="467.7" y1="1151.3" x2="861.8" y2="1151.3" stroke="#c09f7e" stroke-width="1.4"/>
<path d="M495 1151.3 L495 1151.3 L496 1151.3 L497 1150.9 L498 1150.82 L499 1150.74 L500 1150.64 L501 1150.52 L502 1150.39 L503 1150.18 L504 1149.99 L505 1149.79 L506 1149.73 L507 1149.35 L508 1149.1 L509 1148.74 L510 1148.52 L511 1148.09 L512 1147.5 L513 1147.1 L514 1146.38 L515 1146.04 L516 1145.31 L517 1143.95 L518 1143.34 L519 1142.26 L520 1140.89 L521 1140.24 L522 1139.49 L523 1136.84 L524 1135.68 L525 1133.92 L526 1132.24 L527 1129.67 L528 1128.88 L529 1125.95 L530 1124.46 L531 1121.65 L532 1118.93 L533 1116.96 L534 1114.62 L535 1110.92 L536 1107.39 L537 1104.49 L538 1101.52 L539 1097.78 L540 1095.27 L541 1091.77 L542 1087.92 L543 1083.33 L544 1080.94 L545 1077.47 L546 1073.87 L547 1070.39 L548 1066.36 L549 1062.28 L550 1058.39 L551 1056.09 L552 1052.85 L553 1050.01 L554 1047.14 L555 1043.55 L556 1041.56 L557 1039.93 L558 1038.26 L559 1035.19 L560 1033.89 L561 1032.47 L562 1032.76 L563 1031.55 L564 1030.5 L565 1031.15 L566 1030.69 L567 1032.74 L568 1031.86 L569 1034.67 L570 1035.16 L571 1037.38 L572 1037.46 L573 1039.56 L574 1041.03 L575 1043.61 L576 1045.73 L577 1049.11 L578 1050.92 L579 1054.23 L580 1057.98 L581 1059.77 L582 1064.09 L583 1067.65 L584 1071.13 L585 1073.63 L586 1077.47 L587 1079.3 L588 1082.57 L589 1087.32 L590 1090.8 L591 1093.15 L592 1097.02 L593 1099.36 L594 1101.84 L595 1105.89 L596 1108.4 L597 1110.2 L598 1113.77 L599 1116.53 L600 1117.87 L601 1120.37 L602 1122.44 L603 1124.97 L604 1127.53 L605 1128.87 L606 1130.39 L607 1132.45 L608 1134.83 L609 1136.19 L610 1137.33 L611 1137.98 L612 1139.55 L613 1140.67 L614 1141.34 L615 1143.14 L616 1143.42 L617 1144.5 L618 1145.01 L619 1145.47 L620 1146.49 L621 1146.6 L622 1147.58 L623 1147.77 L624 1148.19 L625 1148.66 L626 1148.87 L627 1149.19 L628 1149.45 L629 1149.62 L630 1149.97 L631 1150.08 L632 1150.17 L633 1150.36 L634 1150.48 L635 1150.59 L636 1150.69 L637 1150.77 L638 1150.85 L639 1150.91 L640 1151.3 L641 1151.3 L642 1151.3 L643 1151.3 L644 1151.3 L645 1151.3 L646 1151.3 L647 1151.3 L648 1151.3 L649 1151.3 L650 1151.3 L650 1151.3 Z" fill="#cbae91" style="mix-blend-mode:multiply"/>
<polyline points="496,1151.3 497,1150.9 498,1150.82 499,1150.74 500,1150.64 501,1150.52 502,1150.39 503,1150.18 504,1149.99 505,1149.79 506,1149.73 507,1149.35 508,1149.1 509,1148.74 510,1148.52 511,1148.09 512,1147.5 513,1147.1 514,1146.38 515,1146.04 516,1145.31 517,1143.95 518,1143.34 519,1142.26 520,1140.89 521,1140.24 522,1139.49 523,1136.84 524,1135.68 525,1133.92 526,1132.24 527,1129.67 528,1128.88 529,1125.95 530,1124.46 531,1121.65 532,1118.93 533,1116.96 534,1114.62 535,1110.92 536,1107.39 537,1104.49 538,1101.52 539,1097.78 540,1095.27 541,1091.77 542,1087.92 543,1083.33 544,1080.94 545,1077.47 546,1073.87 547,1070.39 548,1066.36 549,1062.28 550,1058.39 551,1056.09 552,1052.85 553,1050.01 554,1047.14 555,1043.55 556,1041.56 557,1039.93 558,1038.26 559,1035.19 560,1033.89 561,1032.47 562,1032.76 563,1031.55 564,1030.5 565,1031.15 566,1030.69 567,1032.74 568,1031.86 569,1034.67 570,1035.16 571,1037.38 572,1037.46 573,1039.56 574,1041.03 575,1043.61 576,1045.73 577,1049.11 578,1050.92 579,1054.23 580,1057.98 581,1059.77 582,1064.09 583,1067.65 584,1071.13 585,1073.63 586,1077.47 587,1079.3 588,1082.57 589,1087.32 590,1090.8 591,1093.15 592,1097.02 593,1099.36 594,1101.84 595,1105.89 596,1108.4 597,1110.2 598,1113.77 599,1116.53 600,1117.87 601,1120.37 602,1122.44 603,1124.97 604,1127.53 605,1128.87 606,1130.39 607,1132.45 608,1134.83 609,1136.19 610,1137.33 611,1137.98 612,1139.55 613,1140.67 614,1141.34 615,1143.14 616,1143.42 617,1144.5 618,1145.01 619,1145.47 620,1146.49 621,1146.6 622,1147.58 623,1147.77 624,1148.19 625,1148.66 626,1148.87 627,1149.19 628,1149.45 629,1149.62 630,1149.97 631,1150.08 632,1150.17 633,1150.36 634,1150.48 635,1150.59 636,1150.69 637,1150.77 638,1150.85 639,1150.91 640,1151.3" fill="none" stroke="#8c5a26" stroke-width="1.3" stroke-linejoin="round" style="mix-blend-mode:multiply"/>
<path d="M505 1213 L505 1213 L506 1212.6 L507 1212.45 L508 1212.24 L509 1211.93 L510 1211.52 L511 1211.19 L512 1210.32 L513 1209.84 L514 1208.61 L515 1207.77 L516 1205.71 L517 1204.52 L518 1201.57 L519 1198.83 L520 1195.61 L521 1192.67 L522 1187.72 L523 1182.84 L524 1179.41 L525 1172.93 L526 1165.89 L527 1159.76 L528 1153.44 L529 1146.59 L530 1138.04 L531 1132.56 L532 1124.17 L533 1117.32 L534 1112.52 L535 1106.67 L536 1102.03 L537 1097.82 L538 1095.49 L539 1092.9 L540 1092.47 L541 1094.45 L542 1095.11 L543 1099.59 L544 1103.31 L545 1106.78 L546 1111.85 L547 1117.74 L548 1123.78 L549 1130.74 L550 1138.79 L551 1144.75 L552 1151.21 L553 1159.5 L554 1165.04 L555 1171.71 L556 1177.31 L557 1181.75 L558 1186.01 L559 1189.56 L560 1194.93 L561 1197.4 L562 1199.35 L563 1202.21 L564 1204.56 L565 1206.51 L566 1207.58 L567 1208.96 L568 1209.69 L569 1210.45 L570 1211.11 L571 1211.49 L572 1211.93 L573 1212.19 L574 1212.41 L575 1212.57 L576 1213 L577 1213 L578 1213 L579 1213 L580 1213 L581 1213 L582 1213 L583 1213 L584 1213 L585 1213 L585 1213 Z" fill="#9b9b9b" style="mix-blend-mode:multiply"/>
<polyline points="505,1213 506,1212.6 507,1212.45 508,1212.24 509,1211.93 510,1211.52 511,1211.19 512,1210.32 513,1209.84 514,1208.61 515,1207.77 516,1205.71 517,1204.52 518,1201.57 519,1198.83 520,1195.61 521,1192.67 522,1187.72 523,1182.84 524,1179.41 525,1172.93 526,1165.89 527,1159.76 528,1153.44 529,1146.59 530,1138.04 531,1132.56 532,1124.17 533,1117.32 534,1112.52 535,1106.67 536,1102.03 537,1097.82 538,1095.49 539,1092.9 540,1092.47 541,1094.45 542,1095.11 543,1099.59 544,1103.31 545,1106.78 546,1111.85 547,1117.74 548,1123.78 549,1130.74 550,1138.79 551,1144.75 552,1151.21 553,1159.5 554,1165.04 555,1171.71 556,1177.31 557,1181.75 558,1186.01 559,1189.56 560,1194.93 561,1197.4 562,1199.35 563,1202.21 564,1204.56 565,1206.51 566,1207.58 567,1208.96 568,1209.69 569,1210.45 570,1211.11 571,1211.49 572,1211.93 573,1212.19 574,1212.41 575,1212.57 576,1213" fill="none" stroke="#111111" stroke-width="1.3" stroke-linejoin="round" style="mix-blend-mode:multiply"/>
<line x1="568.4" y1="819.4" x2="568.4" y2="917.5" stroke="#000" stroke-width="2.5"/>
<line x1="566.8" y1="917" x2="566.8" y2="1213" stroke="#000" stroke-width="1.3"/>
<line x1="567.6" y1="1016.5" x2="567.6" y2="1115.4" stroke="#000" stroke-width="2.5"/>
<rect x="467.7" y="819.4" width="394.1" height="393.6" fill="none" stroke="#000" stroke-width="1.8"/>
<line x1="467.7" y1="1216.2" x2="861.8" y2="1216.2" stroke="#666" stroke-width="1.1"/>
<line x1="501.7" y1="1216.2" x2="501.7" y2="1224.7" stroke="#000" stroke-width="2.6"/>
<line x1="545.7" y1="1216.2" x2="545.7" y2="1224.7" stroke="#000" stroke-width="2.6"/>
<line x1="635.7" y1="1216.2" x2="635.7" y2="1224.7" stroke="#000" stroke-width="2.6"/>
<line x1="730.7" y1="1216.2" x2="730.7" y2="1224.7" stroke="#000" stroke-width="2.6"/>
<line x1="818.7" y1="1216.2" x2="818.7" y2="1224.7" stroke="#000" stroke-width="2.6"/>
<line x1="572.79" y1="1216.2" x2="572.79" y2="1221.2" stroke="#000" stroke-width="1.3"/>
<line x1="588.64" y1="1216.2" x2="588.64" y2="1221.2" stroke="#000" stroke-width="1.3"/>
<line x1="599.89" y1="1216.2" x2="599.89" y2="1221.2" stroke="#000" stroke-width="1.3"/>
<line x1="608.61" y1="1216.2" x2="608.61" y2="1221.2" stroke="#000" stroke-width="1.3"/>
<line x1="615.73" y1="1216.2" x2="615.73" y2="1221.2" stroke="#000" stroke-width="1.3"/>
<line x1="621.76" y1="1216.2" x2="621.76" y2="1221.2" stroke="#000" stroke-width="1.3"/>
<line x1="626.98" y1="1216.2" x2="626.98" y2="1221.2" stroke="#000" stroke-width="1.3"/>
<line x1="631.58" y1="1216.2" x2="631.58" y2="1221.2" stroke="#000" stroke-width="1.3"/>
<line x1="664.3" y1="1216.2" x2="664.3" y2="1221.2" stroke="#000" stroke-width="1.3"/>
<line x1="681.03" y1="1216.2" x2="681.03" y2="1221.2" stroke="#000" stroke-width="1.3"/>
<line x1="692.9" y1="1216.2" x2="692.9" y2="1221.2" stroke="#000" stroke-width="1.3"/>
<line x1="702.1" y1="1216.2" x2="702.1" y2="1221.2" stroke="#000" stroke-width="1.3"/>
<line x1="709.62" y1="1216.2" x2="709.62" y2="1221.2" stroke="#000" stroke-width="1.3"/>
<line x1="715.98" y1="1216.2" x2="715.98" y2="1221.2" stroke="#000" stroke-width="1.3"/>
<line x1="721.49" y1="1216.2" x2="721.49" y2="1221.2" stroke="#000" stroke-width="1.3"/>
<line x1="726.35" y1="1216.2" x2="726.35" y2="1221.2" stroke="#000" stroke-width="1.3"/>
<line x1="757.19" y1="1216.2" x2="757.19" y2="1221.2" stroke="#000" stroke-width="1.3"/>
<line x1="772.69" y1="1216.2" x2="772.69" y2="1221.2" stroke="#000" stroke-width="1.3"/>
<line x1="783.68" y1="1216.2" x2="783.68" y2="1221.2" stroke="#000" stroke-width="1.3"/>
<line x1="792.21" y1="1216.2" x2="792.21" y2="1221.2" stroke="#000" stroke-width="1.3"/>
<line x1="799.18" y1="1216.2" x2="799.18" y2="1221.2" stroke="#000" stroke-width="1.3"/>
<line x1="805.07" y1="1216.2" x2="805.07" y2="1221.2" stroke="#000" stroke-width="1.3"/>
<line x1="810.17" y1="1216.2" x2="810.17" y2="1221.2" stroke="#000" stroke-width="1.3"/>
<line x1="814.67" y1="1216.2" x2="814.67" y2="1221.2" stroke="#000" stroke-width="1.3"/>
<line x1="845.19" y1="1216.2" x2="845.19" y2="1221.2" stroke="#000" stroke-width="1.3"/>
<line x1="486.8" y1="1216.2" x2="486.8" y2="1221.2" stroke="#000" stroke-width="1.3"/>
<line x1="478.08" y1="1216.2" x2="478.08" y2="1221.2" stroke="#000" stroke-width="1.3"/>
<line x1="471.9" y1="1216.2" x2="471.9" y2="1221.2" stroke="#000" stroke-width="1.3"/>
<line x1="507.7" y1="1216.2" x2="507.7" y2="1223.2" stroke="#000" stroke-width="1.3"/>
<line x1="510.3" y1="1216.2" x2="510.3" y2="1221.2" stroke="#000" stroke-width="1.3"/>
<line x1="512.9" y1="1216.2" x2="512.9" y2="1221.2" stroke="#000" stroke-width="1.3"/>
<line x1="515.5" y1="1216.2" x2="515.5" y2="1223.2" stroke="#000" stroke-width="1.3"/>
<line x1="518.1" y1="1216.2" x2="518.1" y2="1221.2" stroke="#000" stroke-width="1.3"/>
<line x1="520.7" y1="1216.2" x2="520.7" y2="1221.2" stroke="#000" stroke-width="1.3"/>
<line x1="523.3" y1="1216.2" x2="523.3" y2="1223.2" stroke="#000" stroke-width="1.3"/>
<line x1="525.9" y1="1216.2" x2="525.9" y2="1221.2" stroke="#000" stroke-width="1.3"/>
<line x1="528.5" y1="1216.2" x2="528.5" y2="1221.2" stroke="#000" stroke-width="1.3"/>
<line x1="531.1" y1="1216.2" x2="531.1" y2="1223.2" stroke="#000" stroke-width="1.3"/>
<line x1="533.7" y1="1216.2" x2="533.7" y2="1221.2" stroke="#000" stroke-width="1.3"/>
<line x1="536.3" y1="1216.2" x2="536.3" y2="1221.2" stroke="#000" stroke-width="1.3"/>
<line x1="538.9" y1="1216.2" x2="538.9" y2="1223.2" stroke="#000" stroke-width="1.3"/>
<line x1="541.5" y1="1216.2" x2="541.5" y2="1221.2" stroke="#000" stroke-width="1.3"/>
<text x="535.9" y="1246.5" font-size="14" text-anchor="middle" fill="#111" stroke="#111" stroke-width="0.45" textLength="7" lengthAdjust="spacingAndGlyphs">0</text>
<text x="637.2" y="1246.5" font-size="14.5" fill="#111" stroke="#111" stroke-width="0.45" textLength="12" lengthAdjust="spacingAndGlyphs">10</text>
<text x="650.2" y="1238" font-size="11.5" fill="#111" stroke="#111" stroke-width="0.45" textLength="6.5" lengthAdjust="spacingAndGlyphs">3</text>
<text x="732.2" y="1246.5" font-size="14.5" fill="#111" stroke="#111" stroke-width="0.45" textLength="12" lengthAdjust="spacingAndGlyphs">10</text>
<text x="745.2" y="1238" font-size="11.5" fill="#111" stroke="#111" stroke-width="0.45" textLength="6.5" lengthAdjust="spacingAndGlyphs">4</text>
<text x="820.2" y="1246.5" font-size="14.5" fill="#111" stroke="#111" stroke-width="0.45" textLength="12" lengthAdjust="spacingAndGlyphs">10</text>
<text x="833.2" y="1238" font-size="11.5" fill="#111" stroke="#111" stroke-width="0.45" textLength="6.5" lengthAdjust="spacingAndGlyphs">5</text>
<text x="474.2" y="861.6" font-size="38" fill="#f00000" textLength="90.6" lengthAdjust="spacingAndGlyphs">ML-2</text>
<line x1="874.8" y1="956.6" x2="1266.8" y2="956.6" stroke="#fde7d0" stroke-width="1.4"/>
<path d="M975 956.6 L975 956.6 L976 956.6 L977 956.6 L978 956.6 L979 956.6 L980 956.6 L981 956.6 L982 956.6 L983 956.6 L984 956.6 L985 956.6 L986 956.6 L987 956.6 L988 956.6 L989 956.6 L990 956.6 L991 956.6 L992 956.6 L993 956.6 L994 956.6 L995 956.6 L996 956.6 L997 956.6 L998 956.6 L999 956.6 L1000 956.6 L1001 956.6 L1002 956.6 L1003 956.6 L1004 956.6 L1005 956.6 L1006 956.6 L1007 956.24 L1008 956.17 L1009 956.1 L1010 956.01 L1011 955.91 L1012 955.8 L1013 955.67 L1014 955.52 L1015 955.39 L1016 955.26 L1017 954.91 L1018 954.78 L1019 954.5 L1020 954.15 L1021 953.71 L1022 953.16 L1023 952.95 L1024 952.17 L1025 951.6 L1026 951.48 L1027 950.98 L1028 950.21 L1029 948.76 L1030 948.11 L1031 946.73 L1032 945.54 L1033 944.81 L1034 943.75 L1035 943.28 L1036 941.97 L1037 938.84 L1038 937.43 L1039 935.46 L1040 933.94 L1041 931.69 L1042 929.61 L1043 926.82 L1044 925.98 L1045 922.69 L1046 920.42 L1047 916.62 L1048 913.65 L1049 911.92 L1050 909.18 L1051 905.68 L1052 902.27 L1053 898.03 L1054 895.35 L1055 891.22 L1056 888.63 L1057 884.67 L1058 881.82 L1059 877.39 L1060 874.16 L1061 870.01 L1062 866.44 L1063 863.98 L1064 861.66 L1065 856.81 L1066 853.81 L1067 851.91 L1068 849.22 L1069 845.84 L1070 844.91 L1071 842.82 L1072 840.09 L1073 838.51 L1074 837.12 L1075 835.72 L1076 835.51 L1077 835.11 L1078 835.2 L1079 835.19 L1080 835.06 L1081 835.33 L1082 835.3 L1083 836.33 L1084 837.53 L1085 838.97 L1086 839.83 L1087 841.85 L1088 842.73 L1089 844.91 L1090 846.83 L1091 849.63 L1092 851.64 L1093 853.66 L1094 855.72 L1095 859.21 L1096 862.35 L1097 864.41 L1098 868.42 L1099 870.92 L1100 874.49 L1101 876.45 L1102 880.06 L1103 882.82 L1104 885.06 L1105 888.38 L1106 892.58 L1107 894.74 L1108 898.55 L1109 899.81 L1110 903.3 L1111 905.38 L1112 909.27 L1113 910.79 L1114 914.73 L1115 915.77 L1116 919.13 L1117 922.09 L1118 922.64 L1119 924.95 L1120 928.29 L1121 929.49 L1122 931.57 L1123 934.02 L1124 935.14 L1125 935.65 L1126 938.35 L1127 939.02 L1128 940.37 L1129 941.63 L1130 943.14 L1131 943.79 L1132 945.71 L1133 946.47 L1134 947.4 L1135 948.61 L1136 948.94 L1137 949.4 L1138 950.24 L1139 951.15 L1140 951.63 L1141 951.97 L1142 952.65 L1143 953 L1144 953.13 L1145 953.75 L1146 954.05 L1147 954.31 L1148 954.46 L1149 954.82 L1150 954.87 L1151 955.09 L1152 955.23 L1153 955.39 L1154 955.54 L1155 955.69 L1156 955.8 L1157 955.9 L1158 955.99 L1159 956.06 L1160 956.13 L1161 956.19 L1162 956.25 L1163 956.6 L1164 956.6 L1165 956.6 L1166 956.6 L1167 956.6 L1168 956.6 L1169 956.6 L1170 956.6 L1171 956.6 L1172 956.6 L1173 956.6 L1174 956.6 L1175 956.6 L1176 956.6 L1177 956.6 L1178 956.6 L1179 956.6 L1180 956.6 L1181 956.6 L1182 956.6 L1183 956.6 L1184 956.6 L1185 956.6 L1185 956.6 Z" fill="#fdeedd" style="mix-blend-mode:multiply"/>
<polyline points="1006,956.6 1007,956.24 1008,956.17 1009,956.1 1010,956.01 1011,955.91 1012,955.8 1013,955.67 1014,955.52 1015,955.39 1016,955.26 1017,954.91 1018,954.78 1019,954.5 1020,954.15 1021,953.71 1022,953.16 1023,952.95 1024,952.17 1025,951.6 1026,951.48 1027,950.98 1028,950.21 1029,948.76 1030,948.11 1031,946.73 1032,945.54 1033,944.81 1034,943.75 1035,943.28 1036,941.97 1037,938.84 1038,937.43 1039,935.46 1040,933.94 1041,931.69 1042,929.61 1043,926.82 1044,925.98 1045,922.69 1046,920.42 1047,916.62 1048,913.65 1049,911.92 1050,909.18 1051,905.68 1052,902.27 1053,898.03 1054,895.35 1055,891.22 1056,888.63 1057,884.67 1058,881.82 1059,877.39 1060,874.16 1061,870.01 1062,866.44 1063,863.98 1064,861.66 1065,856.81 1066,853.81 1067,851.91 1068,849.22 1069,845.84 1070,844.91 1071,842.82 1072,840.09 1073,838.51 1074,837.12 1075,835.72 1076,835.51 1077,835.11 1078,835.2 1079,835.19 1080,835.06 1081,835.33 1082,835.3 1083,836.33 1084,837.53 1085,838.97 1086,839.83 1087,841.85 1088,842.73 1089,844.91 1090,846.83 1091,849.63 1092,851.64 1093,853.66 1094,855.72 1095,859.21 1096,862.35 1097,864.41 1098,868.42 1099,870.92 1100,874.49 1101,876.45 1102,880.06 1103,882.82 1104,885.06 1105,888.38 1106,892.58 1107,894.74 1108,898.55 1109,899.81 1110,903.3 1111,905.38 1112,909.27 1113,910.79 1114,914.73 1115,915.77 1116,919.13 1117,922.09 1118,922.64 1119,924.95 1120,928.29 1121,929.49 1122,931.57 1123,934.02 1124,935.14 1125,935.65 1126,938.35 1127,939.02 1128,940.37 1129,941.63 1130,943.14 1131,943.79 1132,945.71 1133,946.47 1134,947.4 1135,948.61 1136,948.94 1137,949.4 1138,950.24 1139,951.15 1140,951.63 1141,951.97 1142,952.65 1143,953 1144,953.13 1145,953.75 1146,954.05 1147,954.31 1148,954.46 1149,954.82 1150,954.87 1151,955.09 1152,955.23 1153,955.39 1154,955.54 1155,955.69 1156,955.8 1157,955.9 1158,955.99 1159,956.06 1160,956.13 1161,956.19 1162,956.25 1163,956.6" fill="none" stroke="#fdc995" stroke-width="1.3" stroke-linejoin="round" style="mix-blend-mode:multiply"/>
<line x1="874.8" y1="1020.4" x2="1266.8" y2="1020.4" stroke="#fccc99" stroke-width="1.4"/>
<path d="M975 1020.4 L975 1020.4 L976 1020.4 L977 1020.4 L978 1020.4 L979 1020.4 L980 1020.4 L981 1020.4 L982 1020.4 L983 1020.4 L984 1020.4 L985 1020.4 L986 1020.4 L987 1020.4 L988 1020.4 L989 1020.4 L990 1020.4 L991 1020.4 L992 1020.4 L993 1020.4 L994 1020.4 L995 1020.03 L996 1019.96 L997 1019.87 L998 1019.77 L999 1019.65 L1000 1019.51 L1001 1019.42 L1002 1019.23 L1003 1018.98 L1004 1018.67 L1005 1018.52 L1006 1018.22 L1007 1017.83 L1008 1017.22 L1009 1017.02 L1010 1016.18 L1011 1015.61 L1012 1015.3 L1013 1014.26 L1014 1013.49 L1015 1012.6 L1016 1010.89 L1017 1010.89 L1018 1009.81 L1019 1006.97 L1020 1006.4 L1021 1005.18 L1022 1003.15 L1023 1001.17 L1024 997.93 L1025 997.2 L1026 994.83 L1027 991.57 L1028 988.98 L1029 985.34 L1030 982.6 L1031 980.45 L1032 977.49 L1033 972.84 L1034 969.03 L1035 967.33 L1036 962.21 L1037 958.15 L1038 954.72 L1039 951.68 L1040 946.6 L1041 942.8 L1042 939.95 L1043 935.18 L1044 932.22 L1045 928.86 L1046 924.67 L1047 921.22 L1048 917.8 L1049 914.2 L1050 910.94 L1051 908.04 L1052 905.62 L1053 903.47 L1054 902.06 L1055 901.52 L1056 900.59 L1057 898.84 L1058 898.48 L1059 898.05 L1060 899.35 L1061 899.57 L1062 898.8 L1063 900.39 L1064 901.42 L1065 904.09 L1066 905.19 L1067 906.12 L1068 908.81 L1069 910.49 L1070 914.65 L1071 916.87 L1072 919.07 L1073 922.82 L1074 925.29 L1075 929.01 L1076 933.25 L1077 936.71 L1078 938.41 L1079 943.64 L1080 947.02 L1081 950.25 L1082 953 L1083 956.2 L1084 960.39 L1085 963.71 L1086 966.44 L1087 970.69 L1088 973.64 L1089 976.2 L1090 979.09 L1091 983.12 L1092 985.68 L1093 988.23 L1094 989.53 L1095 991.95 L1096 993.62 L1097 996.13 L1098 999.14 L1099 999.98 L1100 1001.29 L1101 1004.19 L1102 1006.38 L1103 1007.04 L1104 1008.47 L1105 1009.8 L1106 1011.04 L1107 1011.9 L1108 1011.99 L1109 1013.66 L1110 1013.91 L1111 1014.94 L1112 1015.56 L1113 1015.74 L1114 1016.55 L1115 1017.06 L1116 1017.35 L1117 1017.64 L1118 1018.04 L1119 1018.24 L1120 1018.63 L1121 1018.83 L1122 1019.01 L1123 1019.23 L1124 1019.36 L1125 1019.53 L1126 1019.65 L1127 1019.76 L1128 1019.85 L1129 1019.93 L1130 1020 L1131 1020.4 L1132 1020.4 L1133 1020.4 L1134 1020.4 L1135 1020.4 L1136 1020.4 L1137 1020.4 L1138 1020.4 L1139 1020.4 L1140 1020.4 L1140 1020.4 Z" fill="#fdd6aa" style="mix-blend-mode:multiply"/>
<polyline points="994,1020.4 995,1020.03 996,1019.96 997,1019.87 998,1019.77 999,1019.65 1000,1019.51 1001,1019.42 1002,1019.23 1003,1018.98 1004,1018.67 1005,1018.52 1006,1018.22 1007,1017.83 1008,1017.22 1009,1017.02 1010,1016.18 1011,1015.61 1012,1015.3 1013,1014.26 1014,1013.49 1015,1012.6 1016,1010.89 1017,1010.89 1018,1009.81 1019,1006.97 1020,1006.4 1021,1005.18 1022,1003.15 1023,1001.17 1024,997.93 1025,997.2 1026,994.83 1027,991.57 1028,988.98 1029,985.34 1030,982.6 1031,980.45 1032,977.49 1033,972.84 1034,969.03 1035,967.33 1036,962.21 1037,958.15 1038,954.72 1039,951.68 1040,946.6 1041,942.8 1042,939.95 1043,935.18 1044,932.22 1045,928.86 1046,924.67 1047,921.22 1048,917.8 1049,914.2 1050,910.94 1051,908.04 1052,905.62 1053,903.47 1054,902.06 1055,901.52 1056,900.59 1057,898.84 1058,898.48 1059,898.05 1060,899.35 1061,899.57 1062,898.8 1063,900.39 1064,901.42 1065,904.09 1066,905.19 1067,906.12 1068,908.81 1069,910.49 1070,914.65 1071,916.87 1072,919.07 1073,922.82 1074,925.29 1075,929.01 1076,933.25 1077,936.71 1078,938.41 1079,943.64 1080,947.02 1081,950.25 1082,953 1083,956.2 1084,960.39 1085,963.71 1086,966.44 1087,970.69 1088,973.64 1089,976.2 1090,979.09 1091,983.12 1092,985.68 1093,988.23 1094,989.53 1095,991.95 1096,993.62 1097,996.13 1098,999.14 1099,999.98 1100,1001.29 1101,1004.19 1102,1006.38 1103,1007.04 1104,1008.47 1105,1009.8 1106,1011.04 1107,1011.9 1108,1011.99 1109,1013.66 1110,1013.91 1111,1014.94 1112,1015.56 1113,1015.74 1114,1016.55 1115,1017.06 1116,1017.35 1117,1017.64 1118,1018.04 1119,1018.24 1120,1018.63 1121,1018.83 1122,1019.01 1123,1019.23 1124,1019.36 1125,1019.53 1126,1019.65 1127,1019.76 1128,1019.85 1129,1019.93 1130,1020 1131,1020.4" fill="none" stroke="#f5a04a" stroke-width="1.3" stroke-linejoin="round" style="mix-blend-mode:multiply"/>
<line x1="874.8" y1="1084.9" x2="1266.8" y2="1084.9" stroke="#edb67d" stroke-width="1.4"/>
<path d="M1015 1084.9 L1015 1084.03 L1016 1083.96 L1017 1083.93 L1018 1083.83 L1019 1083.73 L1020 1083.53 L1021 1083.5 L1022 1083.35 L1023 1083.38 L1024 1083.18 L1025 1082.98 L1026 1082.95 L1027 1082.71 L1028 1082.6 L1029 1082.63 L1030 1082.63 L1031 1082.26 L1032 1082.36 L1033 1082.29 L1034 1081.9 L1035 1081.73 L1036 1081.62 L1037 1081.45 L1038 1081.67 L1039 1081.63 L1040 1081.52 L1041 1081.01 L1042 1081.34 L1043 1081.23 L1044 1081.23 L1045 1081.13 L1046 1081.06 L1047 1080.81 L1048 1080.83 L1049 1080.66 L1050 1080.2 L1051 1080.54 L1052 1080.02 L1053 1079.91 L1054 1079.84 L1055 1079.63 L1056 1079.23 L1057 1079.05 L1058 1078.97 L1059 1078.46 L1060 1078.03 L1061 1077.26 L1062 1075.87 L1063 1075.65 L1064 1075.15 L1065 1073.43 L1066 1071.53 L1067 1070.65 L1068 1068.41 L1069 1067.69 L1070 1065.57 L1071 1061.95 L1072 1060.5 L1073 1057.06 L1074 1053.71 L1075 1050.63 L1076 1047.24 L1077 1043.34 L1078 1037.26 L1079 1033.38 L1080 1028.26 L1081 1024.42 L1082 1018.62 L1083 1013.83 L1084 1009.31 L1085 1004.49 L1086 999.58 L1087 995.31 L1088 990.34 L1089 985.19 L1090 982.08 L1091 976.93 L1092 974.15 L1093 970.93 L1094 967.94 L1095 966.24 L1096 965.74 L1097 964.57 L1098 964.69 L1099 964.82 L1100 963.69 L1101 965.65 L1102 966.65 L1103 969.26 L1104 972.88 L1105 974.69 L1106 978.28 L1107 983.05 L1108 987.93 L1109 991.84 L1110 996.72 L1111 1001.06 L1112 1006.45 L1113 1010.08 L1114 1014.44 L1115 1020.83 L1116 1024.48 L1117 1029.55 L1118 1034.29 L1119 1037.81 L1120 1043.05 L1121 1046.14 L1122 1051.46 L1123 1053.12 L1124 1057.96 L1125 1061.36 L1126 1062.41 L1127 1065.3 L1128 1067.73 L1129 1069.68 L1130 1072.32 L1131 1074.39 L1132 1075.58 L1133 1076.2 L1134 1077.44 L1135 1079.15 L1136 1079.88 L1137 1080.66 L1138 1081.13 L1139 1082.1 L1140 1082.3 L1141 1082.9 L1142 1083.19 L1143 1083.57 L1144 1083.82 L1145 1083.97 L1146 1084.15 L1147 1084.29 L1148 1084.41 L1149 1084.51 L1150 1084.9 L1151 1084.9 L1152 1084.9 L1153 1084.9 L1154 1084.9 L1155 1084.9 L1156 1084.9 L1157 1084.9 L1158 1084.9 L1159 1084.9 L1160 1084.9 L1161 1084.9 L1162 1084.9 L1163 1084.9 L1164 1084.9 L1165 1084.9 L1166 1084.9 L1167 1084.9 L1168 1084.9 L1169 1084.9 L1170 1084.9 L1171 1084.9 L1172 1084.9 L1173 1084.9 L1174 1084.9 L1175 1084.9 L1175 1084.9 Z" fill="#f1c290" style="mix-blend-mode:multiply"/>
<polyline points="1014,1084.9 1015,1084.03 1016,1083.96 1017,1083.93 1018,1083.83 1019,1083.73 1020,1083.53 1021,1083.5 1022,1083.35 1023,1083.38 1024,1083.18 1025,1082.98 1026,1082.95 1027,1082.71 1028,1082.6 1029,1082.63 1030,1082.63 1031,1082.26 1032,1082.36 1033,1082.29 1034,1081.9 1035,1081.73 1036,1081.62 1037,1081.45 1038,1081.67 1039,1081.63 1040,1081.52 1041,1081.01 1042,1081.34 1043,1081.23 1044,1081.23 1045,1081.13 1046,1081.06 1047,1080.81 1048,1080.83 1049,1080.66 1050,1080.2 1051,1080.54 1052,1080.02 1053,1079.91 1054,1079.84 1055,1079.63 1056,1079.23 1057,1079.05 1058,1078.97 1059,1078.46 1060,1078.03 1061,1077.26 1062,1075.87 1063,1075.65 1064,1075.15 1065,1073.43 1066,1071.53 1067,1070.65 1068,1068.41 1069,1067.69 1070,1065.57 1071,1061.95 1072,1060.5 1073,1057.06 1074,1053.71 1075,1050.63 1076,1047.24 1077,1043.34 1078,1037.26 1079,1033.38 1080,1028.26 1081,1024.42 1082,1018.62 1083,1013.83 1084,1009.31 1085,1004.49 1086,999.58 1087,995.31 1088,990.34 1089,985.19 1090,982.08 1091,976.93 1092,974.15 1093,970.93 1094,967.94 1095,966.24 1096,965.74 1097,964.57 1098,964.69 1099,964.82 1100,963.69 1101,965.65 1102,966.65 1103,969.26 1104,972.88 1105,974.69 1106,978.28 1107,983.05 1108,987.93 1109,991.84 1110,996.72 1111,1001.06 1112,1006.45 1113,1010.08 1114,1014.44 1115,1020.83 1116,1024.48 1117,1029.55 1118,1034.29 1119,1037.81 1120,1043.05 1121,1046.14 1122,1051.46 1123,1053.12 1124,1057.96 1125,1061.36 1126,1062.41 1127,1065.3 1128,1067.73 1129,1069.68 1130,1072.32 1131,1074.39 1132,1075.58 1133,1076.2 1134,1077.44 1135,1079.15 1136,1079.88 1137,1080.66 1138,1081.13 1139,1082.1 1140,1082.3 1141,1082.9 1142,1083.19 1143,1083.57 1144,1083.82 1145,1083.97 1146,1084.15 1147,1084.29 1148,1084.41 1149,1084.51 1150,1084.9" fill="none" stroke="#d98224" stroke-width="1.3" stroke-linejoin="round" style="mix-blend-mode:multiply"/>
<line x1="874.8" y1="1149.2" x2="1266.8" y2="1149.2" stroke="#c09f7e" stroke-width="1.4"/>
<path d="M965 1149.2 L965 1149.2 L966 1149.2 L967 1149.2 L968 1149.2 L969 1149.2 L970 1149.2 L971 1149.2 L972 1149.2 L973 1149.2 L974 1149.2 L975 1149.2 L976 1149.2 L977 1149.2 L978 1149.2 L979 1149.2 L980 1149.2 L981 1149.2 L982 1149.2 L983 1148.79 L984 1148.72 L985 1148.64 L986 1148.55 L987 1148.44 L988 1148.32 L989 1148.17 L990 1148 L991 1147.78 L992 1147.68 L993 1147.36 L994 1147.02 L995 1146.7 L996 1146.61 L997 1146.06 L998 1145.64 L999 1145.23 L1000 1144.43 L1001 1144.11 L1002 1143.53 L1003 1142.41 L1004 1141.88 L1005 1141.37 L1006 1140.45 L1007 1139.21 L1008 1138.76 L1009 1136.72 L1010 1135.16 L1011 1134.33 L1012 1131.97 L1013 1130.18 L1014 1129.19 L1015 1127.08 L1016 1126.22 L1017 1124.25 L1018 1120.17 L1019 1119.22 L1020 1116.89 L1021 1112.94 L1022 1110.53 L1023 1108.97 L1024 1105.65 L1025 1102.78 L1026 1099.59 L1027 1096.92 L1028 1092.59 L1029 1089.68 L1030 1086.09 L1031 1083.06 L1032 1079.73 L1033 1076.39 L1034 1071.22 L1035 1068 L1036 1064.94 L1037 1062.42 L1038 1059.06 L1039 1055.89 L1040 1052.37 L1041 1049.89 L1042 1046.6 L1043 1044.04 L1044 1041.54 L1045 1038.29 L1046 1036.55 L1047 1034.61 L1048 1033.17 L1049 1031.37 L1050 1029.7 L1051 1029.73 L1052 1029.55 L1053 1028.35 L1054 1028.44 L1055 1027.79 L1056 1029.53 L1057 1028.65 L1058 1031.25 L1059 1031.32 L1060 1032.88 L1061 1034.71 L1062 1035.35 L1063 1037.72 L1064 1040.98 L1065 1042.67 L1066 1044.96 L1067 1048.79 L1068 1051.49 L1069 1053.39 L1070 1056.17 L1071 1059.82 L1072 1063.1 L1073 1066.18 L1074 1069.97 L1075 1072.06 L1076 1075.22 L1077 1079.51 L1078 1083.75 L1079 1086.29 L1080 1088.73 L1081 1092.89 L1082 1096.47 L1083 1099.38 L1084 1101.32 L1085 1104.41 L1086 1107.89 L1087 1109.94 L1088 1112.28 L1089 1114.38 L1090 1117.05 L1091 1120.14 L1092 1121.57 L1093 1123.41 L1094 1125.48 L1095 1127.57 L1096 1129.64 L1097 1131.42 L1098 1132.27 L1099 1134.15 L1100 1135.33 L1101 1137.41 L1102 1138.72 L1103 1139.48 L1104 1140.05 L1105 1140.97 L1106 1142.17 L1107 1142.9 L1108 1142.96 L1109 1144.24 L1110 1144.25 L1111 1144.88 L1112 1145.46 L1113 1145.7 L1114 1146.23 L1115 1146.81 L1116 1146.82 L1117 1147.24 L1118 1147.37 L1119 1147.62 L1120 1147.94 L1121 1148.12 L1122 1148.26 L1123 1148.33 L1124 1148.44 L1125 1148.55 L1126 1148.64 L1127 1148.72 L1128 1148.78 L1129 1148.84 L1130 1149.2 L1131 1149.2 L1132 1149.2 L1133 1149.2 L1134 1149.2 L1135 1149.2 L1136 1149.2 L1137 1149.2 L1138 1149.2 L1139 1149.2 L1140 1149.2 L1141 1149.2 L1142 1149.2 L1143 1149.2 L1144 1149.2 L1145 1149.2 L1146 1149.2 L1147 1149.2 L1148 1149.2 L1149 1149.2 L1150 1149.2 L1150 1149.2 Z" fill="#cbae91" style="mix-blend-mode:multiply"/>
<polyline points="982,1149.2 983,1148.79 984,1148.72 985,1148.64 986,1148.55 987,1148.44 988,1148.32 989,1148.17 990,1148 991,1147.78 992,1147.68 993,1147.36 994,1147.02 995,1146.7 996,1146.61 997,1146.06 998,1145.64 999,1145.23 1000,1144.43 1001,1144.11 1002,1143.53 1003,1142.41 1004,1141.88 1005,1141.37 1006,1140.45 1007,1139.21 1008,1138.76 1009,1136.72 1010,1135.16 1011,1134.33 1012,1131.97 1013,1130.18 1014,1129.19 1015,1127.08 1016,1126.22 1017,1124.25 1018,1120.17 1019,1119.22 1020,1116.89 1021,1112.94 1022,1110.53 1023,1108.97 1024,1105.65 1025,1102.78 1026,1099.59 1027,1096.92 1028,1092.59 1029,1089.68 1030,1086.09 1031,1083.06 1032,1079.73 1033,1076.39 1034,1071.22 1035,1068 1036,1064.94 1037,1062.42 1038,1059.06 1039,1055.89 1040,1052.37 1041,1049.89 1042,1046.6 1043,1044.04 1044,1041.54 1045,1038.29 1046,1036.55 1047,1034.61 1048,1033.17 1049,1031.37 1050,1029.7 1051,1029.73 1052,1029.55 1053,1028.35 1054,1028.44 1055,1027.79 1056,1029.53 1057,1028.65 1058,1031.25 1059,1031.32 1060,1032.88 1061,1034.71 1062,1035.35 1063,1037.72 1064,1040.98 1065,1042.67 1066,1044.96 1067,1048.79 1068,1051.49 1069,1053.39 1070,1056.17 1071,1059.82 1072,1063.1 1073,1066.18 1074,1069.97 1075,1072.06 1076,1075.22 1077,1079.51 1078,1083.75 1079,1086.29 1080,1088.73 1081,1092.89 1082,1096.47 1083,1099.38 1084,1101.32 1085,1104.41 1086,1107.89 1087,1109.94 1088,1112.28 1089,1114.38 1090,1117.05 1091,1120.14 1092,1121.57 1093,1123.41 1094,1125.48 1095,1127.57 1096,1129.64 1097,1131.42 1098,1132.27 1099,1134.15 1100,1135.33 1101,1137.41 1102,1138.72 1103,1139.48 1104,1140.05 1105,1140.97 1106,1142.17 1107,1142.9 1108,1142.96 1109,1144.24 1110,1144.25 1111,1144.88 1112,1145.46 1113,1145.7 1114,1146.23 1115,1146.81 1116,1146.82 1117,1147.24 1118,1147.37 1119,1147.62 1120,1147.94 1121,1148.12 1122,1148.26 1123,1148.33 1124,1148.44 1125,1148.55 1126,1148.64 1127,1148.72 1128,1148.78 1129,1148.84 1130,1149.2" fill="none" stroke="#8c5a26" stroke-width="1.3" stroke-linejoin="round" style="mix-blend-mode:multiply"/>
<path d="M890 1210.4 L890 1210.4 L891 1210.4 L892 1210.4 L893 1210.4 L894 1210.4 L895 1210.4 L896 1210.4 L897 1210.4 L898 1209.93 L899 1209.75 L900 1209.52 L901 1209.2 L902 1208.77 L903 1208.16 L904 1207.43 L905 1206.54 L906 1205.74 L907 1203.97 L908 1202.81 L909 1201.04 L910 1199.14 L911 1195.76 L912 1193.33 L913 1189.48 L914 1184.72 L915 1179.82 L916 1174.83 L917 1170.69 L918 1164.89 L919 1158.32 L920 1151.32 L921 1144.22 L922 1137.77 L923 1131.11 L924 1125.69 L925 1119.92 L926 1115.51 L927 1111.08 L928 1107.74 L929 1104.47 L930 1102.72 L931 1102.25 L932 1102.62 L933 1102.55 L934 1102.9 L935 1101.77 L936 1102.24 L937 1101.9 L938 1101.78 L939 1102.84 L940 1103.17 L941 1102.83 L942 1101.59 L943 1101.82 L944 1102.59 L945 1101.85 L946 1102.72 L947 1101.67 L948 1103.22 L949 1101.92 L950 1101.44 L951 1102.68 L952 1102.96 L953 1104.23 L954 1104.79 L955 1105.95 L956 1107.13 L957 1109.1 L958 1110.36 L959 1112.67 L960 1113.93 L961 1116.43 L962 1119.21 L963 1120.35 L964 1124.3 L965 1126.65 L966 1128.82 L967 1132.06 L968 1134.67 L969 1138.46 L970 1141.04 L971 1145.76 L972 1147.54 L973 1151.44 L974 1154.55 L975 1156.69 L976 1159.73 L977 1163.46 L978 1166.27 L979 1169.22 L980 1170.6 L981 1173.84 L982 1177.06 L983 1178.92 L984 1182.16 L985 1183.93 L986 1185.55 L987 1186.58 L988 1188.67 L989 1191.05 L990 1192.27 L991 1194.84 L992 1195.41 L993 1196.25 L994 1198.93 L995 1198.9 L996 1199.96 L997 1201.73 L998 1202.14 L999 1202.84 L1000 1204.35 L1001 1204.77 L1002 1205.3 L1003 1205.76 L1004 1206.56 L1005 1206.78 L1006 1207.23 L1007 1207.56 L1008 1207.94 L1009 1208.21 L1010 1208.55 L1011 1208.8 L1012 1209.02 L1013 1209.22 L1014 1209.37 L1015 1209.5 L1016 1209.63 L1017 1209.73 L1018 1209.83 L1019 1209.91 L1020 1209.98 L1021 1210.04 L1022 1210.4 L1023 1210.4 L1024 1210.4 L1025 1210.4 L1025 1210.4 Z" fill="#9b9b9b" style="mix-blend-mode:multiply"/>
<polyline points="897,1210.4 898,1209.93 899,1209.75 900,1209.52 901,1209.2 902,1208.77 903,1208.16 904,1207.43 905,1206.54 906,1205.74 907,1203.97 908,1202.81 909,1201.04 910,1199.14 911,1195.76 912,1193.33 913,1189.48 914,1184.72 915,1179.82 916,1174.83 917,1170.69 918,1164.89 919,1158.32 920,1151.32 921,1144.22 922,1137.77 923,1131.11 924,1125.69 925,1119.92 926,1115.51 927,1111.08 928,1107.74 929,1104.47 930,1102.72 931,1102.25 932,1102.62 933,1102.55 934,1102.9 935,1101.77 936,1102.24 937,1101.9 938,1101.78 939,1102.84 940,1103.17 941,1102.83 942,1101.59 943,1101.82 944,1102.59 945,1101.85 946,1102.72 947,1101.67 948,1103.22 949,1101.92 950,1101.44 951,1102.68 952,1102.96 953,1104.23 954,1104.79 955,1105.95 956,1107.13 957,1109.1 958,1110.36 959,1112.67 960,1113.93 961,1116.43 962,1119.21 963,1120.35 964,1124.3 965,1126.65 966,1128.82 967,1132.06 968,1134.67 969,1138.46 970,1141.04 971,1145.76 972,1147.54 973,1151.44 974,1154.55 975,1156.69 976,1159.73 977,1163.46 978,1166.27 979,1169.22 980,1170.6 981,1173.84 982,1177.06 983,1178.92 984,1182.16 985,1183.93 986,1185.55 987,1186.58 988,1188.67 989,1191.05 990,1192.27 991,1194.84 992,1195.41 993,1196.25 994,1198.93 995,1198.9 996,1199.96 997,1201.73 998,1202.14 999,1202.84 1000,1204.35 1001,1204.77 1002,1205.3 1003,1205.76 1004,1206.56 1005,1206.78 1006,1207.23 1007,1207.56 1008,1207.94 1009,1208.21 1010,1208.55 1011,1208.8 1012,1209.02 1013,1209.22 1014,1209.37 1015,1209.5 1016,1209.63 1017,1209.73 1018,1209.83 1019,1209.91 1020,1209.98 1021,1210.04 1022,1210.4" fill="none" stroke="#111111" stroke-width="1.3" stroke-linejoin="round" style="mix-blend-mode:multiply"/>
<line x1="1052.6" y1="817.3" x2="1052.6" y2="1210.4" stroke="#000" stroke-width="1.6"/>
<line x1="1053.2" y1="1012.5" x2="1053.2" y2="1210.4" stroke="#000" stroke-width="2.6"/>
<rect x="874.8" y="819.2" width="392" height="391.2" fill="none" stroke="#555" stroke-width="1.8"/>
<line x1="874.8" y1="1213.6" x2="1266.8" y2="1213.6" stroke="#666" stroke-width="1.1"/>
<line x1="908.8" y1="1213.6" x2="908.8" y2="1222.1" stroke="#000" stroke-width="2.6"/>
<line x1="952.8" y1="1213.6" x2="952.8" y2="1222.1" stroke="#000" stroke-width="2.6"/>
<line x1="1042.8" y1="1213.6" x2="1042.8" y2="1222.1" stroke="#000" stroke-width="2.6"/>
<line x1="1137.8" y1="1213.6" x2="1137.8" y2="1222.1" stroke="#000" stroke-width="2.6"/>
<line x1="1225.8" y1="1213.6" x2="1225.8" y2="1222.1" stroke="#000" stroke-width="2.6"/>
<line x1="979.89" y1="1213.6" x2="979.89" y2="1218.6" stroke="#000" stroke-width="1.3"/>
<line x1="995.74" y1="1213.6" x2="995.74" y2="1218.6" stroke="#000" stroke-width="1.3"/>
<line x1="1006.99" y1="1213.6" x2="1006.99" y2="1218.6" stroke="#000" stroke-width="1.3"/>
<line x1="1015.71" y1="1213.6" x2="1015.71" y2="1218.6" stroke="#000" stroke-width="1.3"/>
<line x1="1022.83" y1="1213.6" x2="1022.83" y2="1218.6" stroke="#000" stroke-width="1.3"/>
<line x1="1028.86" y1="1213.6" x2="1028.86" y2="1218.6" stroke="#000" stroke-width="1.3"/>
<line x1="1034.08" y1="1213.6" x2="1034.08" y2="1218.6" stroke="#000" stroke-width="1.3"/>
<line x1="1038.68" y1="1213.6" x2="1038.68" y2="1218.6" stroke="#000" stroke-width="1.3"/>
<line x1="1071.4" y1="1213.6" x2="1071.4" y2="1218.6" stroke="#000" stroke-width="1.3"/>
<line x1="1088.13" y1="1213.6" x2="1088.13" y2="1218.6" stroke="#000" stroke-width="1.3"/>
<line x1="1100" y1="1213.6" x2="1100" y2="1218.6" stroke="#000" stroke-width="1.3"/>
<line x1="1109.2" y1="1213.6" x2="1109.2" y2="1218.6" stroke="#000" stroke-width="1.3"/>
<line x1="1116.72" y1="1213.6" x2="1116.72" y2="1218.6" stroke="#000" stroke-width="1.3"/>
<line x1="1123.08" y1="1213.6" x2="1123.08" y2="1218.6" stroke="#000" stroke-width="1.3"/>
<line x1="1128.59" y1="1213.6" x2="1128.59" y2="1218.6" stroke="#000" stroke-width="1.3"/>
<line x1="1133.45" y1="1213.6" x2="1133.45" y2="1218.6" stroke="#000" stroke-width="1.3"/>
<line x1="1164.29" y1="1213.6" x2="1164.29" y2="1218.6" stroke="#000" stroke-width="1.3"/>
<line x1="1179.79" y1="1213.6" x2="1179.79" y2="1218.6" stroke="#000" stroke-width="1.3"/>
<line x1="1190.78" y1="1213.6" x2="1190.78" y2="1218.6" stroke="#000" stroke-width="1.3"/>
<line x1="1199.31" y1="1213.6" x2="1199.31" y2="1218.6" stroke="#000" stroke-width="1.3"/>
<line x1="1206.28" y1="1213.6" x2="1206.28" y2="1218.6" stroke="#000" stroke-width="1.3"/>
<line x1="1212.17" y1="1213.6" x2="1212.17" y2="1218.6" stroke="#000" stroke-width="1.3"/>
<line x1="1217.27" y1="1213.6" x2="1217.27" y2="1218.6" stroke="#000" stroke-width="1.3"/>
<line x1="1221.77" y1="1213.6" x2="1221.77" y2="1218.6" stroke="#000" stroke-width="1.3"/>
<line x1="1252.29" y1="1213.6" x2="1252.29" y2="1218.6" stroke="#000" stroke-width="1.3"/>
<line x1="893.9" y1="1213.6" x2="893.9" y2="1218.6" stroke="#000" stroke-width="1.3"/>
<line x1="885.18" y1="1213.6" x2="885.18" y2="1218.6" stroke="#000" stroke-width="1.3"/>
<line x1="879" y1="1213.6" x2="879" y2="1218.6" stroke="#000" stroke-width="1.3"/>
<line x1="914.8" y1="1213.6" x2="914.8" y2="1220.6" stroke="#000" stroke-width="1.3"/>
<line x1="917.4" y1="1213.6" x2="917.4" y2="1218.6" stroke="#000" stroke-width="1.3"/>
<line x1="920" y1="1213.6" x2="920" y2="1218.6" stroke="#000" stroke-width="1.3"/>
<line x1="922.6" y1="1213.6" x2="922.6" y2="1220.6" stroke="#000" stroke-width="1.3"/>
<line x1="925.2" y1="1213.6" x2="925.2" y2="1218.6" stroke="#000" stroke-width="1.3"/>
<line x1="927.8" y1="1213.6" x2="927.8" y2="1218.6" stroke="#000" stroke-width="1.3"/>
<line x1="930.4" y1="1213.6" x2="930.4" y2="1220.6" stroke="#000" stroke-width="1.3"/>
<line x1="933" y1="1213.6" x2="933" y2="1218.6" stroke="#000" stroke-width="1.3"/>
<line x1="935.6" y1="1213.6" x2="935.6" y2="1218.6" stroke="#000" stroke-width="1.3"/>
<line x1="938.2" y1="1213.6" x2="938.2" y2="1220.6" stroke="#000" stroke-width="1.3"/>
<line x1="940.8" y1="1213.6" x2="940.8" y2="1218.6" stroke="#000" stroke-width="1.3"/>
<line x1="943.4" y1="1213.6" x2="943.4" y2="1218.6" stroke="#000" stroke-width="1.3"/>
<line x1="946" y1="1213.6" x2="946" y2="1220.6" stroke="#000" stroke-width="1.3"/>
<line x1="948.6" y1="1213.6" x2="948.6" y2="1218.6" stroke="#000" stroke-width="1.3"/>
<text x="935.5" y="1243.9" font-size="14" text-anchor="middle" fill="#111" stroke="#111" stroke-width="0.45" textLength="7" lengthAdjust="spacingAndGlyphs">0</text>
<text x="1044.3" y="1243.9" font-size="14.5" fill="#111" stroke="#111" stroke-width="0.45" textLength="12" lengthAdjust="spacingAndGlyphs">10</text>
<text x="1057.3" y="1235.4" font-size="11.5" fill="#111" stroke="#111" stroke-width="0.45" textLength="6.5" lengthAdjust="spacingAndGlyphs">3</text>
<text x="1139.3" y="1243.9" font-size="14.5" fill="#111" stroke="#111" stroke-width="0.45" textLength="12" lengthAdjust="spacingAndGlyphs">10</text>
<text x="1152.3" y="1235.4" font-size="11.5" fill="#111" stroke="#111" stroke-width="0.45" textLength="6.5" lengthAdjust="spacingAndGlyphs">4</text>
<text x="1227.3" y="1243.9" font-size="14.5" fill="#111" stroke="#111" stroke-width="0.45" textLength="12" lengthAdjust="spacingAndGlyphs">10</text>
<text x="1240.3" y="1235.4" font-size="11.5" fill="#111" stroke="#111" stroke-width="0.45" textLength="6.5" lengthAdjust="spacingAndGlyphs">5</text>
<text x="881" y="859" font-size="38" fill="#f00000" textLength="177.7" lengthAdjust="spacingAndGlyphs">MOLM-13</text>
<text x="1261" y="956.6" font-size="38" text-anchor="end" textLength="51.8" lengthAdjust="spacingAndGlyphs">D8</text>
<text x="1262" y="1019" font-size="38" text-anchor="end" textLength="51.8" lengthAdjust="spacingAndGlyphs">D4</text>
<text x="1261" y="1081.5" font-size="38" text-anchor="end" textLength="51.8" lengthAdjust="spacingAndGlyphs">D1</text>
<text x="1265.2" y="1144" font-size="38" text-anchor="end" textLength="137.5" lengthAdjust="spacingAndGlyphs">No AZA</text>
<text x="1266" y="1206.5" font-size="38" text-anchor="end" textLength="89.9" lengthAdjust="spacingAndGlyphs">FMO</text>
<polygon points="26.9,879.5 16.1,900.7 37.7,900.7" fill="#000"/>
<line x1="27" y1="899" x2="27" y2="958" stroke="#000" stroke-width="3.2"/>
<text x="40.9" y="1043.5" font-size="40.5" text-anchor="middle" transform="rotate(-90 40.9 1043.5)">Count</text>
<line x1="27" y1="1131.2" x2="27" y2="1224.4" stroke="#000" stroke-width="3.2"/>
<line x1="85.2" y1="1288.3" x2="364.9" y2="1288.3" stroke="#000" stroke-width="3"/>
<text x="437.5" y="1305.2" font-size="40">CD123-PeCy7</text>
<line x1="765.8" y1="1288.3" x2="1063" y2="1288.3" stroke="#000" stroke-width="3"/>
<polygon points="1083.3,1288.5 1061.3,1277.5 1061.3,1299.5" fill="#000"/>
<polyline points="1539.3,822.7 1646.6,832.7 1754,845.9" fill="none" stroke="#000" stroke-width="2.5"/>
<polyline points="1539.3,844.1 1646.6,835.4 1754,874.8" fill="none" stroke="#000" stroke-width="2.5"/>
<polyline points="1539.3,875.3 1646.6,909.8 1754,1000.6" fill="none" stroke="#000" stroke-width="2.5"/>
<line x1="1539.3" y1="859.9" x2="1539.3" y2="890.8" stroke="#000" stroke-width="2.5"/>
<line x1="1530.4" y1="859.9" x2="1548.2" y2="859.9" stroke="#000" stroke-width="2.5"/>
<line x1="1530.4" y1="890.8" x2="1548.2" y2="890.8" stroke="#000" stroke-width="2.5"/>
<line x1="1646.6" y1="810.9" x2="1646.6" y2="854.5" stroke="#000" stroke-width="2.5"/>
<line x1="1637.7" y1="810.9" x2="1655.5" y2="810.9" stroke="#000" stroke-width="2.5"/>
<line x1="1637.7" y1="854.5" x2="1655.5" y2="854.5" stroke="#000" stroke-width="2.5"/>
<line x1="1646.6" y1="826.3" x2="1646.6" y2="844.1" stroke="#000" stroke-width="2.5"/>
<line x1="1637.7" y1="826.3" x2="1655.5" y2="826.3" stroke="#000" stroke-width="2.5"/>
<line x1="1637.7" y1="844.1" x2="1655.5" y2="844.1" stroke="#000" stroke-width="2.5"/>
<line x1="1754" y1="835" x2="1754" y2="856.3" stroke="#000" stroke-width="2.5"/>
<line x1="1745.1" y1="835" x2="1762.9" y2="835" stroke="#000" stroke-width="2.5"/>
<line x1="1745.1" y1="856.3" x2="1762.9" y2="856.3" stroke="#000" stroke-width="2.5"/>
<line x1="1754" y1="864.1" x2="1754" y2="885.3" stroke="#000" stroke-width="2.5"/>
<line x1="1745.1" y1="864.1" x2="1762.9" y2="864.1" stroke="#000" stroke-width="2.5"/>
<line x1="1745.1" y1="885.3" x2="1762.9" y2="885.3" stroke="#000" stroke-width="2.5"/>
<rect x="1530.8" y="866.8" width="17" height="17" fill="none" stroke="#000" stroke-width="2.4"/>
<rect x="1638.1" y="901.3" width="17" height="17" fill="none" stroke="#000" stroke-width="2.4"/>
<rect x="1745.5" y="992.1" width="17" height="17" fill="none" stroke="#000" stroke-width="2.4"/>
<circle cx="1539.3" cy="844.1" r="8.3" fill="none" stroke="#000" stroke-width="2.4"/>
<circle cx="1646.6" cy="835.4" r="8.3" fill="none" stroke="#000" stroke-width="2.4"/>
<circle cx="1754" cy="874.8" r="8.3" fill="none" stroke="#000" stroke-width="2.4"/>
<polygon points="1539.3,814.3 1547.7,822.7 1539.3,831.1 1530.9,822.7" fill="#000"/>
<polygon points="1646.6,824.3 1655,832.7 1646.6,841.1 1638.2,832.7" fill="#000"/>
<polygon points="1754,837.5 1762.4,845.9 1754,854.3 1745.6,845.9" fill="#000"/>
<line x1="1485.8" y1="790.2" x2="1485.8" y2="1097.6" stroke="#000" stroke-width="3"/>
<line x1="1477" y1="1096.3" x2="1809.6" y2="1096.3" stroke="#000" stroke-width="3"/>
<line x1="1477" y1="1096.3" x2="1485.8" y2="1096.3" stroke="#000" stroke-width="3"/>
<text x="1473.6" y="1107.1" font-size="32" text-anchor="end">0</text>
<line x1="1477" y1="1035.34" x2="1485.8" y2="1035.34" stroke="#000" stroke-width="3"/>
<text x="1473.6" y="1046.14" font-size="32" text-anchor="end">20</text>
<line x1="1477" y1="974.38" x2="1485.8" y2="974.38" stroke="#000" stroke-width="3"/>
<text x="1473.6" y="985.18" font-size="32" text-anchor="end">40</text>
<line x1="1477" y1="913.42" x2="1485.8" y2="913.42" stroke="#000" stroke-width="3"/>
<text x="1473.6" y="924.22" font-size="32" text-anchor="end">60</text>
<line x1="1477" y1="852.46" x2="1485.8" y2="852.46" stroke="#000" stroke-width="3"/>
<text x="1473.6" y="863.26" font-size="32" text-anchor="end">80</text>
<line x1="1477" y1="791.5" x2="1485.8" y2="791.5" stroke="#000" stroke-width="3"/>
<text x="1473.6" y="802.3" font-size="32" text-anchor="end">100</text>
<line x1="1539.3" y1="1096.3" x2="1539.3" y2="1105" stroke="#000" stroke-width="3"/>
<text x="1539.9" y="1135.6" font-size="32" text-anchor="middle">0</text>
<line x1="1646.6" y1="1096.3" x2="1646.6" y2="1105" stroke="#000" stroke-width="3"/>
<text x="1647.2" y="1135.6" font-size="32" text-anchor="middle">4</text>
<line x1="1754" y1="1096.3" x2="1754" y2="1105" stroke="#000" stroke-width="3"/>
<text x="1754.6" y="1135.6" font-size="32" text-anchor="middle">8</text>
<text x="1647.8" y="1164" font-size="32" text-anchor="middle">Days</text>
<text x="1394" y="932.9" font-size="33" text-anchor="middle" transform="rotate(-90 1394 932.9)" textLength="219.7" lengthAdjust="spacingAndGlyphs">Cell Viability [%]</text>
<line x1="1514.5" y1="1221.1" x2="1546.4" y2="1221.1" stroke="#000" stroke-width="2.5"/>
<rect x="1522" y="1212.6" width="17" height="17" fill="none" stroke="#000" stroke-width="2.4"/>
<text x="1563.7" y="1231.2" font-size="32">HL-60 (<tspan font-style="italic">n</tspan>=3)</text>
<line x1="1514.5" y1="1258" x2="1546.4" y2="1258" stroke="#000" stroke-width="2.5"/>
<circle cx="1530.5" cy="1258" r="8.3" fill="none" stroke="#000" stroke-width="2.4"/>
<text x="1563.7" y="1268.2" font-size="32">ML-2 (<tspan font-style="italic">n</tspan>=3)</text>
<line x1="1514.5" y1="1293.5" x2="1546.4" y2="1293.5" stroke="#000" stroke-width="2.5"/>
<polygon points="1530.5,1285.1 1538.9,1293.5 1530.5,1301.9 1522.1,1293.5" fill="#000"/>
<text x="1563.7" y="1303.6" font-size="32">MOLM-13 (<tspan font-style="italic">n</tspan>=3)</text>
<text x="529.5" y="1428" font-size="42" textLength="194.3" lengthAdjust="spacingAndGlyphs">Patient #1</text>
<line x1="224" y1="1596.6" x2="612.5" y2="1596.6" stroke="#fbd3d3" stroke-width="1.4"/>
<path d="M305 1596.6 L305 1596.12 L306 1596.07 L307 1596.01 L308 1595.94 L309 1595.87 L310 1595.79 L311 1595.7 L312 1595.61 L313 1595.52 L314 1595.35 L315 1595.38 L316 1595.22 L317 1594.96 L318 1594.89 L319 1594.88 L320 1594.69 L321 1594.39 L322 1594.36 L323 1594.33 L324 1593.87 L325 1593.97 L326 1593.6 L327 1593.43 L328 1593.31 L329 1592.88 L330 1593.07 L331 1592.66 L332 1592.73 L333 1592.05 L334 1592.33 L335 1591.91 L336 1591.5 L337 1591.25 L338 1591.59 L339 1590.83 L340 1590.64 L341 1590.83 L342 1590.26 L343 1590.48 L344 1590.33 L345 1590.09 L346 1589.71 L347 1588.95 L348 1589.02 L349 1588.15 L350 1587.89 L351 1588.29 L352 1587.62 L353 1587.63 L354 1586.45 L355 1585.84 L356 1585.23 L357 1585.29 L358 1583.65 L359 1583.65 L360 1581.29 L361 1580.93 L362 1580.44 L363 1577.33 L364 1575.92 L365 1575.53 L366 1572.56 L367 1571.92 L368 1569.34 L369 1567.01 L370 1564.16 L371 1563.02 L372 1560.33 L373 1557.19 L374 1553.64 L375 1549.58 L376 1546.35 L377 1544.07 L378 1539.18 L379 1536.53 L380 1533.04 L381 1528.22 L382 1523.4 L383 1519.43 L384 1516.38 L385 1511.71 L386 1509.02 L387 1505.26 L388 1499.95 L389 1496.95 L390 1494.54 L391 1491 L392 1487.14 L393 1485.82 L394 1483.1 L395 1479.69 L396 1478.96 L397 1477.07 L398 1475.87 L399 1474.96 L400 1474.84 L401 1474.88 L402 1474.29 L403 1475.56 L404 1477.03 L405 1481.31 L406 1484.14 L407 1486.35 L408 1491.51 L409 1495.05 L410 1500.89 L411 1505.84 L412 1510.63 L413 1516.6 L414 1521.96 L415 1528.5 L416 1532.37 L417 1538.24 L418 1544.2 L419 1548.8 L420 1553.27 L421 1557.22 L422 1563.3 L423 1565.45 L424 1569.77 L425 1574.21 L426 1576.6 L427 1578.62 L428 1582.3 L429 1583.56 L430 1585.55 L431 1587.24 L432 1589.3 L433 1590.51 L434 1590.85 L435 1592.33 L436 1593.08 L437 1593.57 L438 1594.32 L439 1594.57 L440 1594.96 L441 1595.36 L442 1595.58 L443 1595.81 L444 1595.98 L445 1596.11 L446 1596.22 L447 1596.6 L448 1596.6 L449 1596.6 L450 1596.6 L451 1596.6 L452 1596.6 L453 1596.6 L454 1596.6 L455 1596.6 L455 1596.6 Z" fill="#fcdcdc" style="mix-blend-mode:multiply"/>
<polyline points="304,1596.6 305,1596.12 306,1596.07 307,1596.01 308,1595.94 309,1595.87 310,1595.79 311,1595.7 312,1595.61 313,1595.52 314,1595.35 315,1595.38 316,1595.22 317,1594.96 318,1594.89 319,1594.88 320,1594.69 321,1594.39 322,1594.36 323,1594.33 324,1593.87 325,1593.97 326,1593.6 327,1593.43 328,1593.31 329,1592.88 330,1593.07 331,1592.66 332,1592.73 333,1592.05 334,1592.33 335,1591.91 336,1591.5 337,1591.25 338,1591.59 339,1590.83 340,1590.64 341,1590.83 342,1590.26 343,1590.48 344,1590.33 345,1590.09 346,1589.71 347,1588.95 348,1589.02 349,1588.15 350,1587.89 351,1588.29 352,1587.62 353,1587.63 354,1586.45 355,1585.84 356,1585.23 357,1585.29 358,1583.65 359,1583.65 360,1581.29 361,1580.93 362,1580.44 363,1577.33 364,1575.92 365,1575.53 366,1572.56 367,1571.92 368,1569.34 369,1567.01 370,1564.16 371,1563.02 372,1560.33 373,1557.19 374,1553.64 375,1549.58 376,1546.35 377,1544.07 378,1539.18 379,1536.53 380,1533.04 381,1528.22 382,1523.4 383,1519.43 384,1516.38 385,1511.71 386,1509.02 387,1505.26 388,1499.95 389,1496.95 390,1494.54 391,1491 392,1487.14 393,1485.82 394,1483.1 395,1479.69 396,1478.96 397,1477.07 398,1475.87 399,1474.96 400,1474.84 401,1474.88 402,1474.29 403,1475.56 404,1477.03 405,1481.31 406,1484.14 407,1486.35 408,1491.51 409,1495.05 410,1500.89 411,1505.84 412,1510.63 413,1516.6 414,1521.96 415,1528.5 416,1532.37 417,1538.24 418,1544.2 419,1548.8 420,1553.27 421,1557.22 422,1563.3 423,1565.45 424,1569.77 425,1574.21 426,1576.6 427,1578.62 428,1582.3 429,1583.56 430,1585.55 431,1587.24 432,1589.3 433,1590.51 434,1590.85 435,1592.33 436,1593.08 437,1593.57 438,1594.32 439,1594.57 440,1594.96 441,1595.36 442,1595.58 443,1595.81 444,1595.98 445,1596.11 446,1596.22 447,1596.6" fill="none" stroke="#f6a9a9" stroke-width="1.3" stroke-linejoin="round" style="mix-blend-mode:multiply"/>
<line x1="224" y1="1663.4" x2="612.5" y2="1663.4" stroke="#f7aaaa" stroke-width="1.4"/>
<path d="M300 1663.4 L300 1663.4 L301 1663.4 L302 1663.4 L303 1663.4 L304 1663.4 L305 1663.4 L306 1663.4 L307 1663.4 L308 1663.4 L309 1663.4 L310 1663.4 L311 1663.4 L312 1663.4 L313 1663.4 L314 1663.4 L315 1663.4 L316 1663.4 L317 1663.4 L318 1663.4 L319 1663.4 L320 1663.4 L321 1663.4 L322 1663.4 L323 1663.4 L324 1663.01 L325 1662.96 L326 1662.91 L327 1662.84 L328 1662.77 L329 1662.69 L330 1662.61 L331 1662.51 L332 1662.41 L333 1662.32 L334 1662.22 L335 1662.1 L336 1661.81 L337 1661.72 L338 1661.52 L339 1661.36 L340 1661.21 L341 1660.89 L342 1660.71 L343 1660.38 L344 1660.16 L345 1659.8 L346 1659.69 L347 1659.54 L348 1659.23 L349 1658.54 L350 1658.55 L351 1657.83 L352 1657.46 L353 1657.52 L354 1656.48 L355 1656.74 L356 1655.48 L357 1655.03 L358 1655.24 L359 1654.17 L360 1653.67 L361 1653.97 L362 1652.74 L363 1653.02 L364 1651.35 L365 1651.18 L366 1650.19 L367 1651.26 L368 1650.34 L369 1649.31 L370 1648.86 L371 1649.24 L372 1647.39 L373 1647.04 L374 1647.7 L375 1647.6 L376 1646.15 L377 1646.28 L378 1645.37 L379 1645.31 L380 1645.1 L381 1645.43 L382 1644.76 L383 1643.63 L384 1642.57 L385 1642.59 L386 1641.3 L387 1640.96 L388 1639.42 L389 1638.88 L390 1638.41 L391 1637.47 L392 1636.12 L393 1634.46 L394 1630.87 L395 1628.66 L396 1626.45 L397 1624.99 L398 1620.87 L399 1618.62 L400 1613.49 L401 1610.07 L402 1605.74 L403 1601.62 L404 1597.4 L405 1591.76 L406 1586.63 L407 1583.08 L408 1577.68 L409 1572.13 L410 1567.39 L411 1563.27 L412 1558.78 L413 1553.67 L414 1551.37 L415 1548.28 L416 1544.64 L417 1543.34 L418 1540.59 L419 1540.88 L420 1539.5 L421 1541.09 L422 1541.26 L423 1543.37 L424 1545.88 L425 1549.99 L426 1553.72 L427 1558.1 L428 1562.36 L429 1566.31 L430 1572.72 L431 1577.81 L432 1582.73 L433 1589.2 L434 1594.51 L435 1600.32 L436 1604.91 L437 1611.36 L438 1614.71 L439 1620.38 L440 1624.75 L441 1629.38 L442 1633.48 L443 1636.21 L444 1639.72 L445 1642.91 L446 1647.24 L447 1648.57 L448 1650.18 L449 1652.63 L450 1654.48 L451 1655.79 L452 1657.46 L453 1658.1 L454 1659.01 L455 1660.14 L456 1660.58 L457 1661.09 L458 1661.6 L459 1661.9 L460 1662.17 L461 1662.48 L462 1662.67 L463 1662.83 L464 1662.96 L465 1663.4 L466 1663.4 L467 1663.4 L468 1663.4 L469 1663.4 L470 1663.4 L470 1663.4 Z" fill="#f9b8b8" style="mix-blend-mode:multiply"/>
<polyline points="323,1663.4 324,1663.01 325,1662.96 326,1662.91 327,1662.84 328,1662.77 329,1662.69 330,1662.61 331,1662.51 332,1662.41 333,1662.32 334,1662.22 335,1662.1 336,1661.81 337,1661.72 338,1661.52 339,1661.36 340,1661.21 341,1660.89 342,1660.71 343,1660.38 344,1660.16 345,1659.8 346,1659.69 347,1659.54 348,1659.23 349,1658.54 350,1658.55 351,1657.83 352,1657.46 353,1657.52 354,1656.48 355,1656.74 356,1655.48 357,1655.03 358,1655.24 359,1654.17 360,1653.67 361,1653.97 362,1652.74 363,1653.02 364,1651.35 365,1651.18 366,1650.19 367,1651.26 368,1650.34 369,1649.31 370,1648.86 371,1649.24 372,1647.39 373,1647.04 374,1647.7 375,1647.6 376,1646.15 377,1646.28 378,1645.37 379,1645.31 380,1645.1 381,1645.43 382,1644.76 383,1643.63 384,1642.57 385,1642.59 386,1641.3 387,1640.96 388,1639.42 389,1638.88 390,1638.41 391,1637.47 392,1636.12 393,1634.46 394,1630.87 395,1628.66 396,1626.45 397,1624.99 398,1620.87 399,1618.62 400,1613.49 401,1610.07 402,1605.74 403,1601.62 404,1597.4 405,1591.76 406,1586.63 407,1583.08 408,1577.68 409,1572.13 410,1567.39 411,1563.27 412,1558.78 413,1553.67 414,1551.37 415,1548.28 416,1544.64 417,1543.34 418,1540.59 419,1540.88 420,1539.5 421,1541.09 422,1541.26 423,1543.37 424,1545.88 425,1549.99 426,1553.72 427,1558.1 428,1562.36 429,1566.31 430,1572.72 431,1577.81 432,1582.73 433,1589.2 434,1594.51 435,1600.32 436,1604.91 437,1611.36 438,1614.71 439,1620.38 440,1624.75 441,1629.38 442,1633.48 443,1636.21 444,1639.72 445,1642.91 446,1647.24 447,1648.57 448,1650.18 449,1652.63 450,1654.48 451,1655.79 452,1657.46 453,1658.1 454,1659.01 455,1660.14 456,1660.58 457,1661.09 458,1661.6 459,1661.9 460,1662.17 461,1662.48 462,1662.67 463,1662.83 464,1662.96 465,1663.4" fill="none" stroke="#ee6a6a" stroke-width="1.3" stroke-linejoin="round" style="mix-blend-mode:multiply"/>
<line x1="224" y1="1729.8" x2="612.5" y2="1729.8" stroke="#eb8989" stroke-width="1.4"/>
<path d="M285 1729.8 L285 1728.77 L286 1728.76 L287 1728.62 L288 1728.51 L289 1728.29 L290 1728.16 L291 1727.96 L292 1728 L293 1727.75 L294 1727.69 L295 1727.46 L296 1727.16 L297 1727.13 L298 1726.85 L299 1726.42 L300 1726.22 L301 1726.12 L302 1725.65 L303 1725.23 L304 1725.42 L305 1724.59 L306 1724.32 L307 1724.25 L308 1724.05 L309 1723.02 L310 1723.18 L311 1723.04 L312 1722.66 L313 1721.48 L314 1721.31 L315 1720.65 L316 1720.29 L317 1720.09 L318 1719.06 L319 1719.42 L320 1718.72 L321 1717.84 L322 1717.7 L323 1716.83 L324 1716.84 L325 1716.15 L326 1716.89 L327 1716.12 L328 1715.56 L329 1715.54 L330 1714.79 L331 1714.61 L332 1713.82 L333 1712.66 L334 1712.76 L335 1712.32 L336 1712.2 L337 1711.64 L338 1709.86 L339 1709.98 L340 1709.6 L341 1710 L342 1708.39 L343 1709.01 L344 1708.04 L345 1706.25 L346 1706.35 L347 1705.88 L348 1704.94 L349 1703.88 L350 1703.23 L351 1703.46 L352 1702.93 L353 1701.37 L354 1700.38 L355 1699.33 L356 1696.61 L357 1695.38 L358 1695.04 L359 1692.79 L360 1691.62 L361 1688.79 L362 1687.78 L363 1686.13 L364 1684.01 L365 1681.11 L366 1679.32 L367 1676.17 L368 1672.93 L369 1671.21 L370 1668.76 L371 1664.3 L372 1662.3 L373 1660.09 L374 1657.08 L375 1653.82 L376 1649.63 L377 1646.14 L378 1643.72 L379 1641.31 L380 1637.6 L381 1633.35 L382 1631.36 L383 1627.66 L384 1625.18 L385 1624.33 L386 1620.53 L387 1618.41 L388 1616.69 L389 1615.45 L390 1613.14 L391 1612.89 L392 1611.18 L393 1610.35 L394 1608.83 L395 1608.74 L396 1610.01 L397 1609.89 L398 1611.24 L399 1610.82 L400 1612.29 L401 1615.15 L402 1616.5 L403 1618.88 L404 1622.38 L405 1624.02 L406 1627.54 L407 1630.35 L408 1634.31 L409 1638.98 L410 1642.07 L411 1646.52 L412 1648.6 L413 1652.64 L414 1656.69 L415 1661.69 L416 1666.1 L417 1668.31 L418 1671.95 L419 1677.35 L420 1680.12 L421 1684.39 L422 1686.31 L423 1689.46 L424 1693.73 L425 1695.87 L426 1698.39 L427 1701.46 L428 1702.58 L429 1705.65 L430 1708.07 L431 1709.27 L432 1710.58 L433 1713.19 L434 1714.38 L435 1714.33 L436 1716.18 L437 1717.6 L438 1718.41 L439 1719.82 L440 1720.41 L441 1720.94 L442 1721.26 L443 1722.21 L444 1722.71 L445 1723.29 L446 1723.2 L447 1723.92 L448 1723.75 L449 1724.13 L450 1724.99 L451 1725.17 L452 1725.18 L453 1725.71 L454 1726 L455 1725.83 L456 1726.25 L457 1726.53 L458 1726.62 L459 1726.84 L460 1727.27 L461 1727.49 L462 1727.57 L463 1727.76 L464 1727.92 L465 1728.03 L466 1728.2 L467 1728.29 L468 1728.59 L469 1728.67 L470 1728.8 L471 1728.89 L472 1728.99 L473 1729.09 L474 1729.17 L475 1729.25 L476 1729.32 L477 1729.38 L478 1729.44 L479 1729.8 L480 1729.8 L480 1729.8 Z" fill="#ee9c9c" style="mix-blend-mode:multiply"/>
<polyline points="284,1729.8 285,1728.77 286,1728.76 287,1728.62 288,1728.51 289,1728.29 290,1728.16 291,1727.96 292,1728 293,1727.75 294,1727.69 295,1727.46 296,1727.16 297,1727.13 298,1726.85 299,1726.42 300,1726.22 301,1726.12 302,1725.65 303,1725.23 304,1725.42 305,1724.59 306,1724.32 307,1724.25 308,1724.05 309,1723.02 310,1723.18 311,1723.04 312,1722.66 313,1721.48 314,1721.31 315,1720.65 316,1720.29 317,1720.09 318,1719.06 319,1719.42 320,1718.72 321,1717.84 322,1717.7 323,1716.83 324,1716.84 325,1716.15 326,1716.89 327,1716.12 328,1715.56 329,1715.54 330,1714.79 331,1714.61 332,1713.82 333,1712.66 334,1712.76 335,1712.32 336,1712.2 337,1711.64 338,1709.86 339,1709.98 340,1709.6 341,1710 342,1708.39 343,1709.01 344,1708.04 345,1706.25 346,1706.35 347,1705.88 348,1704.94 349,1703.88 350,1703.23 351,1703.46 352,1702.93 353,1701.37 354,1700.38 355,1699.33 356,1696.61 357,1695.38 358,1695.04 359,1692.79 360,1691.62 361,1688.79 362,1687.78 363,1686.13 364,1684.01 365,1681.11 366,1679.32 367,1676.17 368,1672.93 369,1671.21 370,1668.76 371,1664.3 372,1662.3 373,1660.09 374,1657.08 375,1653.82 376,1649.63 377,1646.14 378,1643.72 379,1641.31 380,1637.6 381,1633.35 382,1631.36 383,1627.66 384,1625.18 385,1624.33 386,1620.53 387,1618.41 388,1616.69 389,1615.45 390,1613.14 391,1612.89 392,1611.18 393,1610.35 394,1608.83 395,1608.74 396,1610.01 397,1609.89 398,1611.24 399,1610.82 400,1612.29 401,1615.15 402,1616.5 403,1618.88 404,1622.38 405,1624.02 406,1627.54 407,1630.35 408,1634.31 409,1638.98 410,1642.07 411,1646.52 412,1648.6 413,1652.64 414,1656.69 415,1661.69 416,1666.1 417,1668.31 418,1671.95 419,1677.35 420,1680.12 421,1684.39 422,1686.31 423,1689.46 424,1693.73 425,1695.87 426,1698.39 427,1701.46 428,1702.58 429,1705.65 430,1708.07 431,1709.27 432,1710.58 433,1713.19 434,1714.38 435,1714.33 436,1716.18 437,1717.6 438,1718.41 439,1719.82 440,1720.41 441,1720.94 442,1721.26 443,1722.21 444,1722.71 445,1723.29 446,1723.2 447,1723.92 448,1723.75 449,1724.13 450,1724.99 451,1725.17 452,1725.18 453,1725.71 454,1726 455,1725.83 456,1726.25 457,1726.53 458,1726.62 459,1726.84 460,1727.27 461,1727.49 462,1727.57 463,1727.76 464,1727.92 465,1728.03 466,1728.2 467,1728.29 468,1728.59 469,1728.67 470,1728.8 471,1728.89 472,1728.99 473,1729.09 474,1729.17 475,1729.25 476,1729.32 477,1729.38 478,1729.44 479,1729.8" fill="none" stroke="#db3434" stroke-width="1.3" stroke-linejoin="round" style="mix-blend-mode:multiply"/>
<line x1="224" y1="1795.8" x2="612.5" y2="1795.8" stroke="#c38585" stroke-width="1.4"/>
<path d="M275 1795.8 L275 1795.8 L276 1795.8 L277 1795.8 L278 1795.8 L279 1795.8 L280 1795.8 L281 1795.8 L282 1795.8 L283 1795.8 L284 1795.8 L285 1795.8 L286 1795.8 L287 1795.8 L288 1795.8 L289 1795.8 L290 1795.8 L291 1795.8 L292 1795.8 L293 1795.8 L294 1795.8 L295 1795.8 L296 1795.8 L297 1795.8 L298 1795.8 L299 1795.8 L300 1795.8 L301 1795.8 L302 1795.8 L303 1795.8 L304 1795.43 L305 1795.37 L306 1795.3 L307 1795.22 L308 1795.13 L309 1795.02 L310 1794.9 L311 1794.83 L312 1794.58 L313 1794.5 L314 1794.24 L315 1793.97 L316 1793.68 L317 1793.5 L318 1793.17 L319 1793.01 L320 1792.46 L321 1792.06 L322 1791.31 L323 1790.95 L324 1790.21 L325 1789.8 L326 1789.34 L327 1787.92 L328 1787.07 L329 1786.66 L330 1786.06 L331 1784.4 L332 1783.25 L333 1781.48 L334 1780.42 L335 1779.14 L336 1777.44 L337 1776.16 L338 1775.04 L339 1773.12 L340 1769.36 L341 1767.45 L342 1766.31 L343 1762.78 L344 1761.06 L345 1759.33 L346 1755.16 L347 1752.93 L348 1749.36 L349 1746.9 L350 1745.02 L351 1740.83 L352 1737.3 L353 1733.82 L354 1731.65 L355 1727.9 L356 1724.18 L357 1721.86 L358 1717.11 L359 1713.87 L360 1711.99 L361 1707.61 L362 1704.81 L363 1702.01 L364 1698.1 L365 1694.41 L366 1692.4 L367 1690.57 L368 1687.26 L369 1684.31 L370 1681.76 L371 1680.24 L372 1679.79 L373 1676.36 L374 1675.73 L375 1675.65 L376 1674.68 L377 1674.13 L378 1672.6 L379 1673.49 L380 1672.37 L381 1674.32 L382 1674.39 L383 1675.85 L384 1678.28 L385 1680.3 L386 1680.76 L387 1683.17 L388 1687.71 L389 1689.56 L390 1692.35 L391 1696.02 L392 1699.72 L393 1704.63 L394 1707.79 L395 1712.23 L396 1715.41 L397 1719.97 L398 1723.79 L399 1727.84 L400 1732.82 L401 1736.14 L402 1741.26 L403 1744.83 L404 1747.04 L405 1751.66 L406 1754.5 L407 1757.98 L408 1761.72 L409 1764.01 L410 1766.14 L411 1769.93 L412 1772.34 L413 1774.95 L414 1777.09 L415 1777.76 L416 1779.81 L417 1781.03 L418 1783.14 L419 1784.14 L420 1786.44 L421 1787.58 L422 1788.54 L423 1789.28 L424 1789.64 L425 1790.94 L426 1791.44 L427 1792.22 L428 1792.73 L429 1792.96 L430 1793.34 L431 1793.72 L432 1793.93 L433 1794.22 L434 1794.44 L435 1794.71 L436 1794.89 L437 1795.03 L438 1795.16 L439 1795.26 L440 1795.35 L441 1795.43 L442 1795.8 L443 1795.8 L444 1795.8 L445 1795.8 L445 1795.8 Z" fill="#d09a9a" style="mix-blend-mode:multiply"/>
<polyline points="303,1795.8 304,1795.43 305,1795.37 306,1795.3 307,1795.22 308,1795.13 309,1795.02 310,1794.9 311,1794.83 312,1794.58 313,1794.5 314,1794.24 315,1793.97 316,1793.68 317,1793.5 318,1793.17 319,1793.01 320,1792.46 321,1792.06 322,1791.31 323,1790.95 324,1790.21 325,1789.8 326,1789.34 327,1787.92 328,1787.07 329,1786.66 330,1786.06 331,1784.4 332,1783.25 333,1781.48 334,1780.42 335,1779.14 336,1777.44 337,1776.16 338,1775.04 339,1773.12 340,1769.36 341,1767.45 342,1766.31 343,1762.78 344,1761.06 345,1759.33 346,1755.16 347,1752.93 348,1749.36 349,1746.9 350,1745.02 351,1740.83 352,1737.3 353,1733.82 354,1731.65 355,1727.9 356,1724.18 357,1721.86 358,1717.11 359,1713.87 360,1711.99 361,1707.61 362,1704.81 363,1702.01 364,1698.1 365,1694.41 366,1692.4 367,1690.57 368,1687.26 369,1684.31 370,1681.76 371,1680.24 372,1679.79 373,1676.36 374,1675.73 375,1675.65 376,1674.68 377,1674.13 378,1672.6 379,1673.49 380,1672.37 381,1674.32 382,1674.39 383,1675.85 384,1678.28 385,1680.3 386,1680.76 387,1683.17 388,1687.71 389,1689.56 390,1692.35 391,1696.02 392,1699.72 393,1704.63 394,1707.79 395,1712.23 396,1715.41 397,1719.97 398,1723.79 399,1727.84 400,1732.82 401,1736.14 402,1741.26 403,1744.83 404,1747.04 405,1751.66 406,1754.5 407,1757.98 408,1761.72 409,1764.01 410,1766.14 411,1769.93 412,1772.34 413,1774.95 414,1777.09 415,1777.76 416,1779.81 417,1781.03 418,1783.14 419,1784.14 420,1786.44 421,1787.58 422,1788.54 423,1789.28 424,1789.64 425,1790.94 426,1791.44 427,1792.22 428,1792.73 429,1792.96 430,1793.34 431,1793.72 432,1793.93 433,1794.22 434,1794.44 435,1794.71 436,1794.89 437,1795.03 438,1795.16 439,1795.26 440,1795.35 441,1795.43 442,1795.8" fill="none" stroke="#872828" stroke-width="1.3" stroke-linejoin="round" style="mix-blend-mode:multiply"/>
<path d="M285 1858.5 L285 1858.5 L286 1858.5 L287 1857.82 L288 1856.99 L289 1855.3 L290 1852.02 L291 1847.76 L292 1840.06 L293 1829.45 L294 1815.06 L295 1798.69 L296 1781.18 L297 1765.08 L298 1753.19 L299 1749.35 L300 1751.16 L301 1755.21 L302 1761.31 L303 1770.77 L304 1781.41 L305 1790.73 L306 1802.1 L307 1813.55 L308 1823.15 L309 1831.42 L310 1836.69 L311 1844.06 L312 1847.53 L313 1850.6 L314 1853.83 L315 1855.3 L316 1856.45 L317 1857.16 L318 1857.74 L319 1858.06 L320 1858.5 L321 1858.5 L322 1858.5 L323 1858.5 L324 1858.5 L325 1858.5 L325 1858.5 Z" fill="#b5b5b5" style="mix-blend-mode:multiply"/>
<polyline points="286,1858.5 287,1857.82 288,1856.99 289,1855.3 290,1852.02 291,1847.76 292,1840.06 293,1829.45 294,1815.06 295,1798.69 296,1781.18 297,1765.08 298,1753.19 299,1749.35 300,1751.16 301,1755.21 302,1761.31 303,1770.77 304,1781.41 305,1790.73 306,1802.1 307,1813.55 308,1823.15 309,1831.42 310,1836.69 311,1844.06 312,1847.53 313,1850.6 314,1853.83 315,1855.3 316,1856.45 317,1857.16 318,1857.74 319,1858.06 320,1858.5" fill="none" stroke="#777777" stroke-width="1.3" stroke-linejoin="round" style="mix-blend-mode:multiply"/>
<line x1="378.3" y1="1457" x2="378.3" y2="1858.5" stroke="#000" stroke-width="1.3"/>
<line x1="381" y1="1457" x2="381" y2="1554.5" stroke="#000" stroke-width="2.4"/>
<line x1="381" y1="1657.7" x2="381" y2="1759" stroke="#000" stroke-width="2.4"/>
<rect x="224" y="1457" width="388.5" height="401.5" fill="none" stroke="#000" stroke-width="2.4"/>
<line x1="224" y1="1861.7" x2="612.5" y2="1861.7" stroke="#666" stroke-width="1.1"/>
<line x1="255" y1="1861.7" x2="255" y2="1870.2" stroke="#000" stroke-width="2.6"/>
<line x1="306" y1="1861.7" x2="306" y2="1870.2" stroke="#000" stroke-width="2.6"/>
<line x1="394" y1="1861.7" x2="394" y2="1870.2" stroke="#000" stroke-width="2.6"/>
<line x1="486" y1="1861.7" x2="486" y2="1870.2" stroke="#000" stroke-width="2.6"/>
<line x1="573" y1="1861.7" x2="573" y2="1870.2" stroke="#000" stroke-width="2.6"/>
<line x1="332.49" y1="1861.7" x2="332.49" y2="1866.7" stroke="#000" stroke-width="1.3"/>
<line x1="347.99" y1="1861.7" x2="347.99" y2="1866.7" stroke="#000" stroke-width="1.3"/>
<line x1="358.98" y1="1861.7" x2="358.98" y2="1866.7" stroke="#000" stroke-width="1.3"/>
<line x1="367.51" y1="1861.7" x2="367.51" y2="1866.7" stroke="#000" stroke-width="1.3"/>
<line x1="374.48" y1="1861.7" x2="374.48" y2="1866.7" stroke="#000" stroke-width="1.3"/>
<line x1="380.37" y1="1861.7" x2="380.37" y2="1866.7" stroke="#000" stroke-width="1.3"/>
<line x1="385.47" y1="1861.7" x2="385.47" y2="1866.7" stroke="#000" stroke-width="1.3"/>
<line x1="389.97" y1="1861.7" x2="389.97" y2="1866.7" stroke="#000" stroke-width="1.3"/>
<line x1="421.69" y1="1861.7" x2="421.69" y2="1866.7" stroke="#000" stroke-width="1.3"/>
<line x1="437.9" y1="1861.7" x2="437.9" y2="1866.7" stroke="#000" stroke-width="1.3"/>
<line x1="449.39" y1="1861.7" x2="449.39" y2="1866.7" stroke="#000" stroke-width="1.3"/>
<line x1="458.31" y1="1861.7" x2="458.31" y2="1866.7" stroke="#000" stroke-width="1.3"/>
<line x1="465.59" y1="1861.7" x2="465.59" y2="1866.7" stroke="#000" stroke-width="1.3"/>
<line x1="471.75" y1="1861.7" x2="471.75" y2="1866.7" stroke="#000" stroke-width="1.3"/>
<line x1="477.08" y1="1861.7" x2="477.08" y2="1866.7" stroke="#000" stroke-width="1.3"/>
<line x1="481.79" y1="1861.7" x2="481.79" y2="1866.7" stroke="#000" stroke-width="1.3"/>
<line x1="512.19" y1="1861.7" x2="512.19" y2="1866.7" stroke="#000" stroke-width="1.3"/>
<line x1="527.51" y1="1861.7" x2="527.51" y2="1866.7" stroke="#000" stroke-width="1.3"/>
<line x1="538.38" y1="1861.7" x2="538.38" y2="1866.7" stroke="#000" stroke-width="1.3"/>
<line x1="546.81" y1="1861.7" x2="546.81" y2="1866.7" stroke="#000" stroke-width="1.3"/>
<line x1="553.7" y1="1861.7" x2="553.7" y2="1866.7" stroke="#000" stroke-width="1.3"/>
<line x1="559.52" y1="1861.7" x2="559.52" y2="1866.7" stroke="#000" stroke-width="1.3"/>
<line x1="564.57" y1="1861.7" x2="564.57" y2="1866.7" stroke="#000" stroke-width="1.3"/>
<line x1="569.02" y1="1861.7" x2="569.02" y2="1866.7" stroke="#000" stroke-width="1.3"/>
<line x1="599.19" y1="1861.7" x2="599.19" y2="1866.7" stroke="#000" stroke-width="1.3"/>
<line x1="240.43" y1="1861.7" x2="240.43" y2="1866.7" stroke="#000" stroke-width="1.3"/>
<line x1="231.91" y1="1861.7" x2="231.91" y2="1866.7" stroke="#000" stroke-width="1.3"/>
<line x1="262" y1="1861.7" x2="262" y2="1868.7" stroke="#000" stroke-width="1.3"/>
<line x1="264.6" y1="1861.7" x2="264.6" y2="1866.7" stroke="#000" stroke-width="1.3"/>
<line x1="267.2" y1="1861.7" x2="267.2" y2="1866.7" stroke="#000" stroke-width="1.3"/>
<line x1="269.8" y1="1861.7" x2="269.8" y2="1868.7" stroke="#000" stroke-width="1.3"/>
<line x1="272.4" y1="1861.7" x2="272.4" y2="1866.7" stroke="#000" stroke-width="1.3"/>
<line x1="275" y1="1861.7" x2="275" y2="1866.7" stroke="#000" stroke-width="1.3"/>
<line x1="277.6" y1="1861.7" x2="277.6" y2="1868.7" stroke="#000" stroke-width="1.3"/>
<line x1="280.2" y1="1861.7" x2="280.2" y2="1866.7" stroke="#000" stroke-width="1.3"/>
<line x1="282.8" y1="1861.7" x2="282.8" y2="1866.7" stroke="#000" stroke-width="1.3"/>
<line x1="285.4" y1="1861.7" x2="285.4" y2="1868.7" stroke="#000" stroke-width="1.3"/>
<line x1="288" y1="1861.7" x2="288" y2="1866.7" stroke="#000" stroke-width="1.3"/>
<line x1="290.6" y1="1861.7" x2="290.6" y2="1866.7" stroke="#000" stroke-width="1.3"/>
<line x1="293.2" y1="1861.7" x2="293.2" y2="1868.7" stroke="#000" stroke-width="1.3"/>
<line x1="295.8" y1="1861.7" x2="295.8" y2="1866.7" stroke="#000" stroke-width="1.3"/>
<text x="287" y="1892" font-size="14" text-anchor="middle" fill="#111" stroke="#111" stroke-width="0.45" textLength="7" lengthAdjust="spacingAndGlyphs">0</text>
<text x="395.5" y="1892" font-size="14.5" fill="#111" stroke="#111" stroke-width="0.45" textLength="12" lengthAdjust="spacingAndGlyphs">10</text>
<text x="408.5" y="1883.5" font-size="11.5" fill="#111" stroke="#111" stroke-width="0.45" textLength="6.5" lengthAdjust="spacingAndGlyphs">3</text>
<text x="487.5" y="1892" font-size="14.5" fill="#111" stroke="#111" stroke-width="0.45" textLength="12" lengthAdjust="spacingAndGlyphs">10</text>
<text x="500.5" y="1883.5" font-size="11.5" fill="#111" stroke="#111" stroke-width="0.45" textLength="6.5" lengthAdjust="spacingAndGlyphs">4</text>
<text x="574.5" y="1892" font-size="14.5" fill="#111" stroke="#111" stroke-width="0.45" textLength="12" lengthAdjust="spacingAndGlyphs">10</text>
<text x="587.5" y="1883.5" font-size="11.5" fill="#111" stroke="#111" stroke-width="0.45" textLength="6.5" lengthAdjust="spacingAndGlyphs">5</text>
<text x="233.4" y="1498.2" font-size="35" fill="#f00000" textLength="114.5" lengthAdjust="spacingAndGlyphs">CD34+</text>
<text x="454.1" y="1588.3" font-size="28.5">Δ MFI=495</text>
<text x="454.1" y="1657" font-size="28.5">Δ MFI=998</text>
<text x="454.1" y="1723.4" font-size="28.5">Δ MFI=368</text>
<line x1="630.8" y1="1597" x2="1031.7" y2="1597" stroke="#fbd3d3" stroke-width="1.4"/>
<path d="M680 1597 L680 1597 L681 1597 L682 1597 L683 1597 L684 1597 L685 1597 L686 1597 L687 1597 L688 1596.61 L689 1596.57 L690 1596.52 L691 1596.47 L692 1596.41 L693 1596.35 L694 1596.29 L695 1596.21 L696 1596.14 L697 1596.05 L698 1595.96 L699 1595.9 L700 1595.73 L701 1595.69 L702 1595.53 L703 1595.29 L704 1595.35 L705 1595.15 L706 1594.9 L707 1594.91 L708 1594.72 L709 1594.31 L710 1594.05 L711 1594.1 L712 1593.94 L713 1593.37 L714 1593.43 L715 1593.05 L716 1592.79 L717 1592.51 L718 1592.05 L719 1591.73 L720 1591.61 L721 1591.2 L722 1590.9 L723 1590.7 L724 1590.56 L725 1590.42 L726 1590.06 L727 1589.07 L728 1588.95 L729 1589.25 L730 1588 L731 1588.39 L732 1587.54 L733 1587.47 L734 1587.38 L735 1587.13 L736 1586.27 L737 1586.17 L738 1585.52 L739 1585.07 L740 1584.54 L741 1584.15 L742 1584.2 L743 1583.29 L744 1583.79 L745 1582.78 L746 1582.59 L747 1582.27 L748 1583.29 L749 1582.13 L750 1581.93 L751 1582.47 L752 1581.6 L753 1580.98 L754 1581.66 L755 1581.29 L756 1579.75 L757 1579.7 L758 1578.13 L759 1577.91 L760 1577.44 L761 1576.92 L762 1577.47 L763 1575.79 L764 1576.3 L765 1575.41 L766 1574.05 L767 1573.33 L768 1572.69 L769 1570.56 L770 1568.41 L771 1568.81 L772 1567.01 L773 1564.03 L774 1563.1 L775 1561.38 L776 1559.51 L777 1556.6 L778 1555.08 L779 1552.87 L780 1550.47 L781 1547.06 L782 1545.86 L783 1542.2 L784 1538.89 L785 1537.14 L786 1533.44 L787 1530.22 L788 1526.42 L789 1523.41 L790 1520.18 L791 1517.29 L792 1513.75 L793 1509.51 L794 1507.94 L795 1504.86 L796 1501.67 L797 1498.96 L798 1495.96 L799 1492.97 L800 1489.62 L801 1486.87 L802 1486.65 L803 1483.79 L804 1482.66 L805 1479.94 L806 1478.6 L807 1478.32 L808 1479.06 L809 1477.8 L810 1477.89 L811 1478 L812 1479.38 L813 1480.93 L814 1481.34 L815 1482.86 L816 1486.17 L817 1488.75 L818 1492.41 L819 1494.72 L820 1497.69 L821 1502.12 L822 1506.78 L823 1510.91 L824 1513.66 L825 1518.24 L826 1523.5 L827 1527.35 L828 1532.48 L829 1535.9 L830 1541.19 L831 1544.76 L832 1548.4 L833 1552.3 L834 1556.35 L835 1559.14 L836 1563.33 L837 1565.44 L838 1568.32 L839 1571.62 L840 1573.44 L841 1577.26 L842 1578.02 L843 1581.9 L844 1582.74 L845 1585.06 L846 1586.62 L847 1587.72 L848 1588.8 L849 1590.25 L850 1590.92 L851 1591.3 L852 1592.18 L853 1592.95 L854 1593.41 L855 1594.14 L856 1594.49 L857 1594.85 L858 1595.28 L859 1595.56 L860 1595.86 L861 1596 L862 1596.18 L863 1596.32 L864 1596.44 L865 1596.54 L866 1596.63 L867 1597 L868 1597 L869 1597 L870 1597 L871 1597 L872 1597 L873 1597 L874 1597 L875 1597 L876 1597 L877 1597 L878 1597 L879 1597 L880 1597 L880 1597 Z" fill="#fcdcdc" style="mix-blend-mode:multiply"/>
<polyline points="687,1597 688,1596.61 689,1596.57 690,1596.52 691,1596.47 692,1596.41 693,1596.35 694,1596.29 695,1596.21 696,1596.14 697,1596.05 698,1595.96 699,1595.9 700,1595.73 701,1595.69 702,1595.53 703,1595.29 704,1595.35 705,1595.15 706,1594.9 707,1594.91 708,1594.72 709,1594.31 710,1594.05 711,1594.1 712,1593.94 713,1593.37 714,1593.43 715,1593.05 716,1592.79 717,1592.51 718,1592.05 719,1591.73 720,1591.61 721,1591.2 722,1590.9 723,1590.7 724,1590.56 725,1590.42 726,1590.06 727,1589.07 728,1588.95 729,1589.25 730,1588 731,1588.39 732,1587.54 733,1587.47 734,1587.38 735,1587.13 736,1586.27 737,1586.17 738,1585.52 739,1585.07 740,1584.54 741,1584.15 742,1584.2 743,1583.29 744,1583.79 745,1582.78 746,1582.59 747,1582.27 748,1583.29 749,1582.13 750,1581.93 751,1582.47 752,1581.6 753,1580.98 754,1581.66 755,1581.29 756,1579.75 757,1579.7 758,1578.13 759,1577.91 760,1577.44 761,1576.92 762,1577.47 763,1575.79 764,1576.3 765,1575.41 766,1574.05 767,1573.33 768,1572.69 769,1570.56 770,1568.41 771,1568.81 772,1567.01 773,1564.03 774,1563.1 775,1561.38 776,1559.51 777,1556.6 778,1555.08 779,1552.87 780,1550.47 781,1547.06 782,1545.86 783,1542.2 784,1538.89 785,1537.14 786,1533.44 787,1530.22 788,1526.42 789,1523.41 790,1520.18 791,1517.29 792,1513.75 793,1509.51 794,1507.94 795,1504.86 796,1501.67 797,1498.96 798,1495.96 799,1492.97 800,1489.62 801,1486.87 802,1486.65 803,1483.79 804,1482.66 805,1479.94 806,1478.6 807,1478.32 808,1479.06 809,1477.8 810,1477.89 811,1478 812,1479.38 813,1480.93 814,1481.34 815,1482.86 816,1486.17 817,1488.75 818,1492.41 819,1494.72 820,1497.69 821,1502.12 822,1506.78 823,1510.91 824,1513.66 825,1518.24 826,1523.5 827,1527.35 828,1532.48 829,1535.9 830,1541.19 831,1544.76 832,1548.4 833,1552.3 834,1556.35 835,1559.14 836,1563.33 837,1565.44 838,1568.32 839,1571.62 840,1573.44 841,1577.26 842,1578.02 843,1581.9 844,1582.74 845,1585.06 846,1586.62 847,1587.72 848,1588.8 849,1590.25 850,1590.92 851,1591.3 852,1592.18 853,1592.95 854,1593.41 855,1594.14 856,1594.49 857,1594.85 858,1595.28 859,1595.56 860,1595.86 861,1596 862,1596.18 863,1596.32 864,1596.44 865,1596.54 866,1596.63 867,1597" fill="none" stroke="#f6a9a9" stroke-width="1.3" stroke-linejoin="round" style="mix-blend-mode:multiply"/>
<line x1="630.8" y1="1664.2" x2="1031.7" y2="1664.2" stroke="#f7aaaa" stroke-width="1.4"/>
<path d="M640 1664.2 L640 1664.2 L641 1664.2 L642 1664.2 L643 1664.2 L644 1664.2 L645 1664.2 L646 1664.2 L647 1664.2 L648 1664.2 L649 1664.2 L650 1664.2 L651 1663.84 L652 1663.82 L653 1663.79 L654 1663.76 L655 1663.72 L656 1663.69 L657 1663.65 L658 1663.61 L659 1663.57 L660 1663.52 L661 1663.48 L662 1663.43 L663 1663.38 L664 1663.32 L665 1663.27 L666 1663.21 L667 1663.19 L668 1663.09 L669 1663.07 L670 1662.9 L671 1662.93 L672 1662.8 L673 1662.65 L674 1662.68 L675 1662.48 L676 1662.44 L677 1662.4 L678 1662.29 L679 1662.21 L680 1662.18 L681 1661.91 L682 1661.99 L683 1661.71 L684 1661.65 L685 1661.83 L686 1661.65 L687 1661.48 L688 1661.25 L689 1661.39 L690 1661.12 L691 1661.12 L692 1660.84 L693 1660.68 L694 1660.65 L695 1660.81 L696 1660.44 L697 1660.5 L698 1660.21 L699 1660.3 L700 1659.98 L701 1659.84 L702 1659.84 L703 1659.76 L704 1659.68 L705 1659.73 L706 1659.91 L707 1659.35 L708 1659.61 L709 1659.83 L710 1659.51 L711 1659.47 L712 1659.57 L713 1659.03 L714 1659.55 L715 1659 L716 1659.21 L717 1659.44 L718 1659.3 L719 1659.23 L720 1659.45 L721 1659.02 L722 1659.1 L723 1658.89 L724 1659.01 L725 1659.07 L726 1658.95 L727 1659.03 L728 1659.26 L729 1659.36 L730 1659.42 L731 1659.28 L732 1659.27 L733 1659.38 L734 1659.43 L735 1659.98 L736 1659.8 L737 1660.06 L738 1659.83 L739 1659.89 L740 1659.96 L741 1659.85 L742 1660.25 L743 1660.02 L744 1660.14 L745 1660.38 L746 1660 L747 1660.51 L748 1660.3 L749 1660.26 L750 1660.21 L751 1659.98 L752 1660.15 L753 1659.9 L754 1660.13 L755 1659.91 L756 1659.97 L757 1659.5 L758 1659.43 L759 1658.95 L760 1659.14 L761 1658.57 L762 1657.81 L763 1658.18 L764 1657.15 L765 1656.6 L766 1655.95 L767 1655.47 L768 1654.82 L769 1653.41 L770 1653.49 L771 1651.91 L772 1650.91 L773 1649.66 L774 1648.93 L775 1648.56 L776 1645.64 L777 1645.14 L778 1642.54 L779 1640.43 L780 1639.04 L781 1637.88 L782 1634.95 L783 1633.76 L784 1631.66 L785 1628.82 L786 1626.22 L787 1623.61 L788 1621.25 L789 1618.81 L790 1615.33 L791 1613.28 L792 1609.75 L793 1607.93 L794 1604.6 L795 1600.01 L796 1598.15 L797 1594.58 L798 1592.1 L799 1587.49 L800 1585.19 L801 1582.6 L802 1579.05 L803 1574.68 L804 1572.06 L805 1570.67 L806 1565.97 L807 1565.06 L808 1561.68 L809 1559.17 L810 1556.42 L811 1555.61 L812 1552.33 L813 1551.71 L814 1549.26 L815 1547.57 L816 1547.14 L817 1547.44 L818 1545.46 L819 1545.51 L820 1544.73 L821 1544.73 L822 1546.64 L823 1546.73 L824 1548.04 L825 1549.36 L826 1552.28 L827 1554.95 L828 1557.67 L829 1562.23 L830 1564.45 L831 1568.88 L832 1572.84 L833 1578.04 L834 1581.67 L835 1586.35 L836 1591.26 L837 1594.29 L838 1598.97 L839 1604.17 L840 1609.28 L841 1611.7 L842 1617.53 L843 1620.69 L844 1624.34 L845 1627.34 L846 1631.13 L847 1634.42 L848 1637.58 L849 1639.43 L850 1642.31 L851 1645.6 L852 1646.89 L853 1648.58 L854 1651.28 L855 1653.5 L856 1654.9 L857 1655.09 L858 1657.08 L859 1657.56 L860 1658.95 L861 1659.69 L862 1660.39 L863 1660.68 L864 1661.5 L865 1661.81 L866 1662.1 L867 1662.51 L868 1662.89 L869 1663.12 L870 1663.24 L871 1663.41 L872 1663.56 L873 1663.68 L874 1663.77 L875 1664.2 L876 1664.2 L877 1664.2 L878 1664.2 L879 1664.2 L880 1664.2 L881 1664.2 L882 1664.2 L883 1664.2 L884 1664.2 L885 1664.2 L886 1664.2 L887 1664.2 L888 1664.2 L889 1664.2 L890 1664.2 L891 1664.2 L892 1664.2 L893 1664.2 L894 1664.2 L895 1664.2 L896 1664.2 L897 1664.2 L898 1664.2 L899 1664.2 L900 1664.2 L901 1664.2 L902 1664.2 L903 1664.2 L904 1664.2 L905 1664.2 L905 1664.2 Z" fill="#f9b8b8" style="mix-blend-mode:multiply"/>
<polyline points="650,1664.2 651,1663.84 652,1663.82 653,1663.79 654,1663.76 655,1663.72 656,1663.69 657,1663.65 658,1663.61 659,1663.57 660,1663.52 661,1663.48 662,1663.43 663,1663.38 664,1663.32 665,1663.27 666,1663.21 667,1663.19 668,1663.09 669,1663.07 670,1662.9 671,1662.93 672,1662.8 673,1662.65 674,1662.68 675,1662.48 676,1662.44 677,1662.4 678,1662.29 679,1662.21 680,1662.18 681,1661.91 682,1661.99 683,1661.71 684,1661.65 685,1661.83 686,1661.65 687,1661.48 688,1661.25 689,1661.39 690,1661.12 691,1661.12 692,1660.84 693,1660.68 694,1660.65 695,1660.81 696,1660.44 697,1660.5 698,1660.21 699,1660.3 700,1659.98 701,1659.84 702,1659.84 703,1659.76 704,1659.68 705,1659.73 706,1659.91 707,1659.35 708,1659.61 709,1659.83 710,1659.51 711,1659.47 712,1659.57 713,1659.03 714,1659.55 715,1659 716,1659.21 717,1659.44 718,1659.3 719,1659.23 720,1659.45 721,1659.02 722,1659.1 723,1658.89 724,1659.01 725,1659.07 726,1658.95 727,1659.03 728,1659.26 729,1659.36 730,1659.42 731,1659.28 732,1659.27 733,1659.38 734,1659.43 735,1659.98 736,1659.8 737,1660.06 738,1659.83 739,1659.89 740,1659.96 741,1659.85 742,1660.25 743,1660.02 744,1660.14 745,1660.38 746,1660 747,1660.51 748,1660.3 749,1660.26 750,1660.21 751,1659.98 752,1660.15 753,1659.9 754,1660.13 755,1659.91 756,1659.97 757,1659.5 758,1659.43 759,1658.95 760,1659.14 761,1658.57 762,1657.81 763,1658.18 764,1657.15 765,1656.6 766,1655.95 767,1655.47 768,1654.82 769,1653.41 770,1653.49 771,1651.91 772,1650.91 773,1649.66 774,1648.93 775,1648.56 776,1645.64 777,1645.14 778,1642.54 779,1640.43 780,1639.04 781,1637.88 782,1634.95 783,1633.76 784,1631.66 785,1628.82 786,1626.22 787,1623.61 788,1621.25 789,1618.81 790,1615.33 791,1613.28 792,1609.75 793,1607.93 794,1604.6 795,1600.01 796,1598.15 797,1594.58 798,1592.1 799,1587.49 800,1585.19 801,1582.6 802,1579.05 803,1574.68 804,1572.06 805,1570.67 806,1565.97 807,1565.06 808,1561.68 809,1559.17 810,1556.42 811,1555.61 812,1552.33 813,1551.71 814,1549.26 815,1547.57 816,1547.14 817,1547.44 818,1545.46 819,1545.51 820,1544.73 821,1544.73 822,1546.64 823,1546.73 824,1548.04 825,1549.36 826,1552.28 827,1554.95 828,1557.67 829,1562.23 830,1564.45 831,1568.88 832,1572.84 833,1578.04 834,1581.67 835,1586.35 836,1591.26 837,1594.29 838,1598.97 839,1604.17 840,1609.28 841,1611.7 842,1617.53 843,1620.69 844,1624.34 845,1627.34 846,1631.13 847,1634.42 848,1637.58 849,1639.43 850,1642.31 851,1645.6 852,1646.89 853,1648.58 854,1651.28 855,1653.5 856,1654.9 857,1655.09 858,1657.08 859,1657.56 860,1658.95 861,1659.69 862,1660.39 863,1660.68 864,1661.5 865,1661.81 866,1662.1 867,1662.51 868,1662.89 869,1663.12 870,1663.24 871,1663.41 872,1663.56 873,1663.68 874,1663.77 875,1664.2" fill="none" stroke="#ee6a6a" stroke-width="1.3" stroke-linejoin="round" style="mix-blend-mode:multiply"/>
<line x1="630.8" y1="1728.7" x2="1031.7" y2="1728.7" stroke="#eb8989" stroke-width="1.4"/>
<path d="M635 1728.7 L635 1728.7 L636 1728.7 L637 1728.35 L638 1728.32 L639 1728.29 L640 1728.26 L641 1728.23 L642 1728.19 L643 1728.15 L644 1728.11 L645 1728.07 L646 1728.03 L647 1727.98 L648 1727.93 L649 1727.88 L650 1727.82 L651 1727.76 L652 1727.63 L653 1727.7 L654 1727.53 L655 1727.49 L656 1727.34 L657 1727.35 L658 1727.17 L659 1727.24 L660 1726.97 L661 1727 L662 1726.96 L663 1726.82 L664 1726.64 L665 1726.69 L666 1726.48 L667 1726.48 L668 1726.34 L669 1726.19 L670 1726.04 L671 1725.89 L672 1725.55 L673 1725.55 L674 1725.2 L675 1725.02 L676 1724.86 L677 1724.66 L678 1724.68 L679 1724.45 L680 1724.15 L681 1724.17 L682 1724.24 L683 1723.82 L684 1723.62 L685 1723.67 L686 1723.55 L687 1723.3 L688 1722.7 L689 1722.41 L690 1722.32 L691 1722.31 L692 1722.46 L693 1722.29 L694 1721.48 L695 1721.39 L696 1721.25 L697 1721.34 L698 1721.19 L699 1720.94 L700 1720.8 L701 1720.07 L702 1720.2 L703 1719.71 L704 1719.67 L705 1719.33 L706 1718.89 L707 1718.65 L708 1719.29 L709 1718.03 L710 1718 L711 1717.86 L712 1718.21 L713 1717.34 L714 1717.38 L715 1718.07 L716 1717.26 L717 1716.88 L718 1716.89 L719 1716.53 L720 1716.98 L721 1716.64 L722 1717.47 L723 1716.43 L724 1717.17 L725 1716.14 L726 1715.75 L727 1716.53 L728 1716.94 L729 1716.91 L730 1716.03 L731 1716.55 L732 1715.47 L733 1715.6 L734 1715.69 L735 1715.29 L736 1716.1 L737 1715.44 L738 1716.05 L739 1715 L740 1714.39 L741 1715.39 L742 1714.19 L743 1713.38 L744 1714.42 L745 1714.37 L746 1713.98 L747 1712.47 L748 1713.59 L749 1711.78 L750 1712.33 L751 1710.82 L752 1709.99 L753 1709.44 L754 1710.06 L755 1708.6 L756 1708.25 L757 1706.25 L758 1706.45 L759 1705.67 L760 1704.09 L761 1703.53 L762 1701.99 L763 1699.67 L764 1698.97 L765 1697.72 L766 1694.6 L767 1694.23 L768 1691.36 L769 1689.69 L770 1687.97 L771 1685.72 L772 1683.71 L773 1680.96 L774 1678.95 L775 1677.42 L776 1674.2 L777 1671.98 L778 1668.59 L779 1667.58 L780 1664.25 L781 1660.53 L782 1659.61 L783 1655.55 L784 1652.47 L785 1650.31 L786 1648.69 L787 1644.55 L788 1642.9 L789 1639.78 L790 1636.62 L791 1635.13 L792 1632.86 L793 1630.8 L794 1628.13 L795 1626.51 L796 1623.35 L797 1621.24 L798 1621.09 L799 1618.6 L800 1616.69 L801 1615.51 L802 1615.49 L803 1614.11 L804 1613.13 L805 1612.98 L806 1611.73 L807 1611.82 L808 1611.82 L809 1613.82 L810 1614.56 L811 1614.17 L812 1615.15 L813 1616.93 L814 1618.32 L815 1618.77 L816 1620.46 L817 1623.91 L818 1625.74 L819 1626.74 L820 1629.68 L821 1632.68 L822 1633.67 L823 1637.59 L824 1640.87 L825 1643.05 L826 1645.98 L827 1648.46 L828 1651.23 L829 1655.63 L830 1657.89 L831 1660.08 L832 1663.95 L833 1666.17 L834 1669.13 L835 1672.27 L836 1675.48 L837 1679.41 L838 1680.44 L839 1684.52 L840 1687.14 L841 1689.3 L842 1691.71 L843 1693.62 L844 1696.36 L845 1697.79 L846 1700.16 L847 1702.44 L848 1705.08 L849 1706.16 L850 1708.14 L851 1709.24 L852 1711.73 L853 1712.12 L854 1713.62 L855 1715.87 L856 1715.74 L857 1717.57 L858 1718.64 L859 1719.69 L860 1720.48 L861 1720.85 L862 1721.51 L863 1722.59 L864 1723.16 L865 1723.77 L866 1724.49 L867 1724.53 L868 1725.2 L869 1725.75 L870 1726 L871 1726.28 L872 1726.41 L873 1726.84 L874 1727.06 L875 1727.11 L876 1727.4 L877 1727.47 L878 1727.74 L879 1727.81 L880 1727.92 L881 1728.02 L882 1728.11 L883 1728.19 L884 1728.26 L885 1728.32 L886 1728.7 L887 1728.7 L888 1728.7 L889 1728.7 L890 1728.7 L891 1728.7 L892 1728.7 L893 1728.7 L894 1728.7 L895 1728.7 L895 1728.7 Z" fill="#ee9c9c" style="mix-blend-mode:multiply"/>
<polyline points="636,1728.7 637,1728.35 638,1728.32 639,1728.29 640,1728.26 641,1728.23 642,1728.19 643,1728.15 644,1728.11 645,1728.07 646,1728.03 647,1727.98 648,1727.93 649,1727.88 650,1727.82 651,1727.76 652,1727.63 653,1727.7 654,1727.53 655,1727.49 656,1727.34 657,1727.35 658,1727.17 659,1727.24 660,1726.97 661,1727 662,1726.96 663,1726.82 664,1726.64 665,1726.69 666,1726.48 667,1726.48 668,1726.34 669,1726.19 670,1726.04 671,1725.89 672,1725.55 673,1725.55 674,1725.2 675,1725.02 676,1724.86 677,1724.66 678,1724.68 679,1724.45 680,1724.15 681,1724.17 682,1724.24 683,1723.82 684,1723.62 685,1723.67 686,1723.55 687,1723.3 688,1722.7 689,1722.41 690,1722.32 691,1722.31 692,1722.46 693,1722.29 694,1721.48 695,1721.39 696,1721.25 697,1721.34 698,1721.19 699,1720.94 700,1720.8 701,1720.07 702,1720.2 703,1719.71 704,1719.67 705,1719.33 706,1718.89 707,1718.65 708,1719.29 709,1718.03 710,1718 711,1717.86 712,1718.21 713,1717.34 714,1717.38 715,1718.07 716,1717.26 717,1716.88 718,1716.89 719,1716.53 720,1716.98 721,1716.64 722,1717.47 723,1716.43 724,1717.17 725,1716.14 726,1715.75 727,1716.53 728,1716.94 729,1716.91 730,1716.03 731,1716.55 732,1715.47 733,1715.6 734,1715.69 735,1715.29 736,1716.1 737,1715.44 738,1716.05 739,1715 740,1714.39 741,1715.39 742,1714.19 743,1713.38 744,1714.42 745,1714.37 746,1713.98 747,1712.47 748,1713.59 749,1711.78 750,1712.33 751,1710.82 752,1709.99 753,1709.44 754,1710.06 755,1708.6 756,1708.25 757,1706.25 758,1706.45 759,1705.67 760,1704.09 761,1703.53 762,1701.99 763,1699.67 764,1698.97 765,1697.72 766,1694.6 767,1694.23 768,1691.36 769,1689.69 770,1687.97 771,1685.72 772,1683.71 773,1680.96 774,1678.95 775,1677.42 776,1674.2 777,1671.98 778,1668.59 779,1667.58 780,1664.25 781,1660.53 782,1659.61 783,1655.55 784,1652.47 785,1650.31 786,1648.69 787,1644.55 788,1642.9 789,1639.78 790,1636.62 791,1635.13 792,1632.86 793,1630.8 794,1628.13 795,1626.51 796,1623.35 797,1621.24 798,1621.09 799,1618.6 800,1616.69 801,1615.51 802,1615.49 803,1614.11 804,1613.13 805,1612.98 806,1611.73 807,1611.82 808,1611.82 809,1613.82 810,1614.56 811,1614.17 812,1615.15 813,1616.93 814,1618.32 815,1618.77 816,1620.46 817,1623.91 818,1625.74 819,1626.74 820,1629.68 821,1632.68 822,1633.67 823,1637.59 824,1640.87 825,1643.05 826,1645.98 827,1648.46 828,1651.23 829,1655.63 830,1657.89 831,1660.08 832,1663.95 833,1666.17 834,1669.13 835,1672.27 836,1675.48 837,1679.41 838,1680.44 839,1684.52 840,1687.14 841,1689.3 842,1691.71 843,1693.62 844,1696.36 845,1697.79 846,1700.16 847,1702.44 848,1705.08 849,1706.16 850,1708.14 851,1709.24 852,1711.73 853,1712.12 854,1713.62 855,1715.87 856,1715.74 857,1717.57 858,1718.64 859,1719.69 860,1720.48 861,1720.85 862,1721.51 863,1722.59 864,1723.16 865,1723.77 866,1724.49 867,1724.53 868,1725.2 869,1725.75 870,1726 871,1726.28 872,1726.41 873,1726.84 874,1727.06 875,1727.11 876,1727.4 877,1727.47 878,1727.74 879,1727.81 880,1727.92 881,1728.02 882,1728.11 883,1728.19 884,1728.26 885,1728.32 886,1728.7" fill="none" stroke="#db3434" stroke-width="1.3" stroke-linejoin="round" style="mix-blend-mode:multiply"/>
<line x1="630.8" y1="1795" x2="1031.7" y2="1795" stroke="#c38585" stroke-width="1.4"/>
<path d="M675 1795 L675 1794.46 L676 1794.41 L677 1794.36 L678 1794.31 L679 1794.25 L680 1794.18 L681 1794.11 L682 1794.04 L683 1793.95 L684 1793.82 L685 1793.8 L686 1793.67 L687 1793.53 L688 1793.5 L689 1793.35 L690 1793.24 L691 1793.09 L692 1793.18 L693 1793.02 L694 1792.65 L695 1792.58 L696 1792.6 L697 1792.28 L698 1792.34 L699 1792.11 L700 1791.92 L701 1791.84 L702 1791.71 L703 1791.36 L704 1791.09 L705 1791.07 L706 1790.68 L707 1790.27 L708 1790.62 L709 1790.26 L710 1790.16 L711 1789.51 L712 1789.45 L713 1789.16 L714 1789.05 L715 1788.31 L716 1788.01 L717 1787.97 L718 1787.27 L719 1787.51 L720 1787.03 L721 1785.95 L722 1786.37 L723 1786.05 L724 1785.75 L725 1784.39 L726 1783.63 L727 1784.21 L728 1782.95 L729 1782.44 L730 1781.88 L731 1781.33 L732 1780.27 L733 1779.92 L734 1777.46 L735 1777.95 L736 1776.26 L737 1774.97 L738 1773.79 L739 1772.94 L740 1771.56 L741 1769.38 L742 1769.47 L743 1767.9 L744 1766.12 L745 1763.57 L746 1762.47 L747 1760.71 L748 1759.44 L749 1757.37 L750 1754.27 L751 1753 L752 1750.35 L753 1748.54 L754 1746.08 L755 1743.95 L756 1740.09 L757 1738.19 L758 1735.96 L759 1733.94 L760 1730.16 L761 1728.13 L762 1726.4 L763 1723.73 L764 1719.62 L765 1718.32 L766 1715.63 L767 1713.78 L768 1709.8 L769 1708.7 L770 1705.78 L771 1703.26 L772 1701.52 L773 1699.84 L774 1698.19 L775 1695.55 L776 1694.8 L777 1692.59 L778 1690.57 L779 1689.45 L780 1688.94 L781 1688.24 L782 1688.43 L783 1686.62 L784 1686.11 L785 1687.1 L786 1687.71 L787 1687.03 L788 1687.69 L789 1687.53 L790 1688.59 L791 1690.3 L792 1691.36 L793 1692.91 L794 1694.17 L795 1696 L796 1697.91 L797 1700.89 L798 1701.95 L799 1705.8 L800 1707.85 L801 1709.83 L802 1713.55 L803 1715.12 L804 1718.47 L805 1721.28 L806 1724.67 L807 1726.96 L808 1729.48 L809 1733.44 L810 1734.76 L811 1737.34 L812 1741.1 L813 1743.84 L814 1746.06 L815 1749.08 L816 1751.68 L817 1754.61 L818 1757 L819 1759.71 L820 1762.54 L821 1763.42 L822 1765.77 L823 1769.13 L824 1769.53 L825 1770.96 L826 1773.86 L827 1774.5 L828 1777.47 L829 1778.12 L830 1779.16 L831 1781.23 L832 1782.63 L833 1783.96 L834 1784.39 L835 1785.67 L836 1786.35 L837 1787.03 L838 1788.17 L839 1788.7 L840 1789.62 L841 1789.75 L842 1790.26 L843 1791 L844 1791.47 L845 1791.68 L846 1792.12 L847 1792.32 L848 1792.65 L849 1793.01 L850 1793.25 L851 1793.43 L852 1793.62 L853 1793.81 L854 1793.95 L855 1794.09 L856 1794.21 L857 1794.31 L858 1794.4 L859 1794.48 L860 1794.55 L861 1794.61 L862 1795 L863 1795 L864 1795 L865 1795 L865 1795 Z" fill="#d09a9a" style="mix-blend-mode:multiply"/>
<polyline points="674,1795 675,1794.46 676,1794.41 677,1794.36 678,1794.31 679,1794.25 680,1794.18 681,1794.11 682,1794.04 683,1793.95 684,1793.82 685,1793.8 686,1793.67 687,1793.53 688,1793.5 689,1793.35 690,1793.24 691,1793.09 692,1793.18 693,1793.02 694,1792.65 695,1792.58 696,1792.6 697,1792.28 698,1792.34 699,1792.11 700,1791.92 701,1791.84 702,1791.71 703,1791.36 704,1791.09 705,1791.07 706,1790.68 707,1790.27 708,1790.62 709,1790.26 710,1790.16 711,1789.51 712,1789.45 713,1789.16 714,1789.05 715,1788.31 716,1788.01 717,1787.97 718,1787.27 719,1787.51 720,1787.03 721,1785.95 722,1786.37 723,1786.05 724,1785.75 725,1784.39 726,1783.63 727,1784.21 728,1782.95 729,1782.44 730,1781.88 731,1781.33 732,1780.27 733,1779.92 734,1777.46 735,1777.95 736,1776.26 737,1774.97 738,1773.79 739,1772.94 740,1771.56 741,1769.38 742,1769.47 743,1767.9 744,1766.12 745,1763.57 746,1762.47 747,1760.71 748,1759.44 749,1757.37 750,1754.27 751,1753 752,1750.35 753,1748.54 754,1746.08 755,1743.95 756,1740.09 757,1738.19 758,1735.96 759,1733.94 760,1730.16 761,1728.13 762,1726.4 763,1723.73 764,1719.62 765,1718.32 766,1715.63 767,1713.78 768,1709.8 769,1708.7 770,1705.78 771,1703.26 772,1701.52 773,1699.84 774,1698.19 775,1695.55 776,1694.8 777,1692.59 778,1690.57 779,1689.45 780,1688.94 781,1688.24 782,1688.43 783,1686.62 784,1686.11 785,1687.1 786,1687.71 787,1687.03 788,1687.69 789,1687.53 790,1688.59 791,1690.3 792,1691.36 793,1692.91 794,1694.17 795,1696 796,1697.91 797,1700.89 798,1701.95 799,1705.8 800,1707.85 801,1709.83 802,1713.55 803,1715.12 804,1718.47 805,1721.28 806,1724.67 807,1726.96 808,1729.48 809,1733.44 810,1734.76 811,1737.34 812,1741.1 813,1743.84 814,1746.06 815,1749.08 816,1751.68 817,1754.61 818,1757 819,1759.71 820,1762.54 821,1763.42 822,1765.77 823,1769.13 824,1769.53 825,1770.96 826,1773.86 827,1774.5 828,1777.47 829,1778.12 830,1779.16 831,1781.23 832,1782.63 833,1783.96 834,1784.39 835,1785.67 836,1786.35 837,1787.03 838,1788.17 839,1788.7 840,1789.62 841,1789.75 842,1790.26 843,1791 844,1791.47 845,1791.68 846,1792.12 847,1792.32 848,1792.65 849,1793.01 850,1793.25 851,1793.43 852,1793.62 853,1793.81 854,1793.95 855,1794.09 856,1794.21 857,1794.31 858,1794.4 859,1794.48 860,1794.55 861,1794.61 862,1795" fill="none" stroke="#872828" stroke-width="1.3" stroke-linejoin="round" style="mix-blend-mode:multiply"/>
<path d="M695 1857.2 L695 1857.2 L696 1856.77 L697 1856.13 L698 1855.07 L699 1852.59 L700 1848.52 L701 1840.9 L702 1832.17 L703 1818.7 L704 1802.23 L705 1785.08 L706 1767.6 L707 1755.19 L708 1749.41 L709 1751.05 L710 1752.37 L711 1758.85 L712 1766.37 L713 1775.58 L714 1785.64 L715 1795.16 L716 1806.62 L717 1816.41 L718 1823.28 L719 1832.22 L720 1838.44 L721 1843.2 L722 1846.54 L723 1850.24 L724 1852.69 L725 1854.09 L726 1855.19 L727 1855.97 L728 1856.39 L729 1856.71 L730 1857.2 L731 1857.2 L732 1857.2 L733 1857.2 L734 1857.2 L735 1857.2 L735 1857.2 Z" fill="#b5b5b5" style="mix-blend-mode:multiply"/>
<polyline points="695,1857.2 696,1856.77 697,1856.13 698,1855.07 699,1852.59 700,1848.52 701,1840.9 702,1832.17 703,1818.7 704,1802.23 705,1785.08 706,1767.6 707,1755.19 708,1749.41 709,1751.05 710,1752.37 711,1758.85 712,1766.37 713,1775.58 714,1785.64 715,1795.16 716,1806.62 717,1816.41 718,1823.28 719,1832.22 720,1838.44 721,1843.2 722,1846.54 723,1850.24 724,1852.69 725,1854.09 726,1855.19 727,1855.97 728,1856.39 729,1856.71 730,1857.2" fill="none" stroke="#777777" stroke-width="1.3" stroke-linejoin="round" style="mix-blend-mode:multiply"/>
<line x1="781" y1="1457.6" x2="781" y2="1857.2" stroke="#000" stroke-width="1.3"/>
<line x1="783.3" y1="1457.6" x2="783.3" y2="1523.8" stroke="#000" stroke-width="2.4"/>
<line x1="783.3" y1="1593" x2="783.3" y2="1793" stroke="#000" stroke-width="2.4"/>
<rect x="630.8" y="1457.6" width="400.9" height="399.6" fill="none" stroke="#000" stroke-width="2.4"/>
<line x1="630.8" y1="1860.4" x2="1031.7" y2="1860.4" stroke="#666" stroke-width="1.1"/>
<line x1="661.8" y1="1860.4" x2="661.8" y2="1868.9" stroke="#000" stroke-width="2.6"/>
<line x1="710.8" y1="1860.4" x2="710.8" y2="1868.9" stroke="#000" stroke-width="2.6"/>
<line x1="800.8" y1="1860.4" x2="800.8" y2="1868.9" stroke="#000" stroke-width="2.6"/>
<line x1="896.6" y1="1860.4" x2="896.6" y2="1868.9" stroke="#000" stroke-width="2.6"/>
<line x1="987.3" y1="1860.4" x2="987.3" y2="1868.9" stroke="#000" stroke-width="2.6"/>
<line x1="737.89" y1="1860.4" x2="737.89" y2="1865.4" stroke="#000" stroke-width="1.3"/>
<line x1="753.74" y1="1860.4" x2="753.74" y2="1865.4" stroke="#000" stroke-width="1.3"/>
<line x1="764.99" y1="1860.4" x2="764.99" y2="1865.4" stroke="#000" stroke-width="1.3"/>
<line x1="773.71" y1="1860.4" x2="773.71" y2="1865.4" stroke="#000" stroke-width="1.3"/>
<line x1="780.83" y1="1860.4" x2="780.83" y2="1865.4" stroke="#000" stroke-width="1.3"/>
<line x1="786.86" y1="1860.4" x2="786.86" y2="1865.4" stroke="#000" stroke-width="1.3"/>
<line x1="792.08" y1="1860.4" x2="792.08" y2="1865.4" stroke="#000" stroke-width="1.3"/>
<line x1="796.68" y1="1860.4" x2="796.68" y2="1865.4" stroke="#000" stroke-width="1.3"/>
<line x1="829.64" y1="1860.4" x2="829.64" y2="1865.4" stroke="#000" stroke-width="1.3"/>
<line x1="846.51" y1="1860.4" x2="846.51" y2="1865.4" stroke="#000" stroke-width="1.3"/>
<line x1="858.48" y1="1860.4" x2="858.48" y2="1865.4" stroke="#000" stroke-width="1.3"/>
<line x1="867.76" y1="1860.4" x2="867.76" y2="1865.4" stroke="#000" stroke-width="1.3"/>
<line x1="875.35" y1="1860.4" x2="875.35" y2="1865.4" stroke="#000" stroke-width="1.3"/>
<line x1="881.76" y1="1860.4" x2="881.76" y2="1865.4" stroke="#000" stroke-width="1.3"/>
<line x1="887.32" y1="1860.4" x2="887.32" y2="1865.4" stroke="#000" stroke-width="1.3"/>
<line x1="892.22" y1="1860.4" x2="892.22" y2="1865.4" stroke="#000" stroke-width="1.3"/>
<line x1="923.9" y1="1860.4" x2="923.9" y2="1865.4" stroke="#000" stroke-width="1.3"/>
<line x1="939.87" y1="1860.4" x2="939.87" y2="1865.4" stroke="#000" stroke-width="1.3"/>
<line x1="951.21" y1="1860.4" x2="951.21" y2="1865.4" stroke="#000" stroke-width="1.3"/>
<line x1="960" y1="1860.4" x2="960" y2="1865.4" stroke="#000" stroke-width="1.3"/>
<line x1="967.18" y1="1860.4" x2="967.18" y2="1865.4" stroke="#000" stroke-width="1.3"/>
<line x1="973.25" y1="1860.4" x2="973.25" y2="1865.4" stroke="#000" stroke-width="1.3"/>
<line x1="978.51" y1="1860.4" x2="978.51" y2="1865.4" stroke="#000" stroke-width="1.3"/>
<line x1="983.15" y1="1860.4" x2="983.15" y2="1865.4" stroke="#000" stroke-width="1.3"/>
<line x1="1014.6" y1="1860.4" x2="1014.6" y2="1865.4" stroke="#000" stroke-width="1.3"/>
<line x1="646.9" y1="1860.4" x2="646.9" y2="1865.4" stroke="#000" stroke-width="1.3"/>
<line x1="638.18" y1="1860.4" x2="638.18" y2="1865.4" stroke="#000" stroke-width="1.3"/>
<line x1="668.8" y1="1860.4" x2="668.8" y2="1867.4" stroke="#000" stroke-width="1.3"/>
<line x1="671.4" y1="1860.4" x2="671.4" y2="1865.4" stroke="#000" stroke-width="1.3"/>
<line x1="674" y1="1860.4" x2="674" y2="1865.4" stroke="#000" stroke-width="1.3"/>
<line x1="676.6" y1="1860.4" x2="676.6" y2="1867.4" stroke="#000" stroke-width="1.3"/>
<line x1="679.2" y1="1860.4" x2="679.2" y2="1865.4" stroke="#000" stroke-width="1.3"/>
<line x1="681.8" y1="1860.4" x2="681.8" y2="1865.4" stroke="#000" stroke-width="1.3"/>
<line x1="684.4" y1="1860.4" x2="684.4" y2="1867.4" stroke="#000" stroke-width="1.3"/>
<line x1="687" y1="1860.4" x2="687" y2="1865.4" stroke="#000" stroke-width="1.3"/>
<line x1="689.6" y1="1860.4" x2="689.6" y2="1865.4" stroke="#000" stroke-width="1.3"/>
<line x1="692.2" y1="1860.4" x2="692.2" y2="1867.4" stroke="#000" stroke-width="1.3"/>
<line x1="694.8" y1="1860.4" x2="694.8" y2="1865.4" stroke="#000" stroke-width="1.3"/>
<line x1="697.4" y1="1860.4" x2="697.4" y2="1865.4" stroke="#000" stroke-width="1.3"/>
<line x1="700" y1="1860.4" x2="700" y2="1867.4" stroke="#000" stroke-width="1.3"/>
<line x1="702.6" y1="1860.4" x2="702.6" y2="1865.4" stroke="#000" stroke-width="1.3"/>
<text x="691.8" y="1890.7" font-size="14" text-anchor="middle" fill="#111" stroke="#111" stroke-width="0.45" textLength="7" lengthAdjust="spacingAndGlyphs">0</text>
<text x="802.3" y="1890.7" font-size="14.5" fill="#111" stroke="#111" stroke-width="0.45" textLength="12" lengthAdjust="spacingAndGlyphs">10</text>
<text x="815.3" y="1882.2" font-size="11.5" fill="#111" stroke="#111" stroke-width="0.45" textLength="6.5" lengthAdjust="spacingAndGlyphs">3</text>
<text x="898.1" y="1890.7" font-size="14.5" fill="#111" stroke="#111" stroke-width="0.45" textLength="12" lengthAdjust="spacingAndGlyphs">10</text>
<text x="911.1" y="1882.2" font-size="11.5" fill="#111" stroke="#111" stroke-width="0.45" textLength="6.5" lengthAdjust="spacingAndGlyphs">4</text>
<text x="988.8" y="1890.7" font-size="14.5" fill="#111" stroke="#111" stroke-width="0.45" textLength="12" lengthAdjust="spacingAndGlyphs">10</text>
<text x="1001.8" y="1882.2" font-size="11.5" fill="#111" stroke="#111" stroke-width="0.45" textLength="6.5" lengthAdjust="spacingAndGlyphs">5</text>
<text x="636" y="1494.2" font-size="35" fill="#f00000" textLength="114.5" lengthAdjust="spacingAndGlyphs">CD34+</text>
<text x="636" y="1536" font-size="35" fill="#f00000" textLength="114.5" lengthAdjust="spacingAndGlyphs">CD38+</text>
<text x="863" y="1591.4" font-size="28.5">Δ MFI=403</text>
<text x="861.7" y="1655.5" font-size="28.5">Δ MFI=528</text>
<text x="867.4" y="1722" font-size="28.5">Δ MFI=403</text>
<rect x="1040.4" y="1523" width="157" height="72.7" fill="#fff" stroke="#222" stroke-width="1.3"/>
<text x="1120.5" y="1570" font-size="37.5" text-anchor="middle" textLength="51" lengthAdjust="spacingAndGlyphs">D8</text>
<rect x="1040.4" y="1600" width="157" height="67.7" fill="#fff" stroke="#222" stroke-width="1.3"/>
<text x="1124.7" y="1655.2" font-size="37.5" text-anchor="middle" textLength="51" lengthAdjust="spacingAndGlyphs">D4</text>
<rect x="1040.4" y="1668.5" width="157" height="60.2" fill="#fff" stroke="#222" stroke-width="1.3"/>
<text x="1123" y="1719.4" font-size="37.5" text-anchor="middle" textLength="51" lengthAdjust="spacingAndGlyphs">D1</text>
<rect x="1040.4" y="1730.9" width="157" height="62.3" fill="#fff" stroke="#222" stroke-width="1.3"/>
<text x="1125.5" y="1780.4" font-size="37.5" text-anchor="middle" textLength="137" lengthAdjust="spacingAndGlyphs">No AZA</text>
<rect x="1040.4" y="1795" width="157" height="62.2" fill="#fff" stroke="#222" stroke-width="1.3"/>
<text x="1115.9" y="1845.4" font-size="37.5" text-anchor="middle" textLength="89" lengthAdjust="spacingAndGlyphs">FMO</text>
<text x="516.5" y="1987" font-size="42" textLength="198" lengthAdjust="spacingAndGlyphs">Patient #2</text>
<line x1="229.7" y1="2082.7" x2="617.4" y2="2082.7" stroke="#fbd3d3" stroke-width="1.4"/>
<path d="M335 2082.7 L335 2082.7 L336 2082.7 L337 2082.7 L338 2082.7 L339 2082.7 L340 2082.7 L341 2082.7 L342 2082.7 L343 2082.7 L344 2082.7 L345 2082.7 L346 2082.7 L347 2082.7 L348 2082.7 L349 2082.7 L350 2082.7 L351 2082.7 L352 2082.7 L353 2082.7 L354 2082.3 L355 2082.25 L356 2082.18 L357 2082.11 L358 2082.03 L359 2081.93 L360 2081.82 L361 2081.73 L362 2081.55 L363 2081.45 L364 2081.17 L365 2081.04 L366 2080.85 L367 2080.45 L368 2080.19 L369 2079.84 L370 2079.56 L371 2079.39 L372 2078.88 L373 2078.51 L374 2077.67 L375 2077.65 L376 2076.45 L377 2076.32 L378 2075.5 L379 2074.39 L380 2073.48 L381 2072.77 L382 2071.74 L383 2070.64 L384 2069.52 L385 2069.27 L386 2067.7 L387 2066.97 L388 2064.53 L389 2063.66 L390 2062.3 L391 2060.72 L392 2057.82 L393 2057.85 L394 2054.66 L395 2052.99 L396 2052.71 L397 2049.76 L398 2049.33 L399 2046.73 L400 2046.1 L401 2044.06 L402 2042.09 L403 2040.75 L404 2038.34 L405 2037.24 L406 2037.09 L407 2034.74 L408 2034.46 L409 2033.18 L410 2031.74 L411 2030.99 L412 2029.73 L413 2028.21 L414 2028.07 L415 2028.19 L416 2027.53 L417 2029.07 L418 2028.42 L419 2028.6 L420 2029.56 L421 2031.51 L422 2032.6 L423 2034.4 L424 2035.77 L425 2036.23 L426 2039.53 L427 2039.7 L428 2042.56 L429 2043.46 L430 2044.98 L431 2047.42 L432 2047.9 L433 2050.09 L434 2049.4 L435 2050.47 L436 2052.15 L437 2052.63 L438 2053.47 L439 2055.2 L440 2056.07 L441 2055.98 L442 2056.35 L443 2056.61 L444 2056.61 L445 2056.76 L446 2057.44 L447 2058.84 L448 2058.43 L449 2058.09 L450 2057.81 L451 2059.8 L452 2058.63 L453 2059.38 L454 2059.92 L455 2059.14 L456 2060.59 L457 2061.02 L458 2060.7 L459 2060.85 L460 2062.16 L461 2061.82 L462 2062.71 L463 2062.1 L464 2063.94 L465 2062.78 L466 2063.94 L467 2064.95 L468 2065.17 L469 2064.82 L470 2065.69 L471 2066.98 L472 2067.4 L473 2068.03 L474 2067.59 L475 2067.77 L476 2069.37 L477 2068.5 L478 2069.5 L479 2069.51 L480 2070.97 L481 2071.5 L482 2071.38 L483 2071.36 L484 2072.48 L485 2072.96 L486 2073.19 L487 2074.27 L488 2074.47 L489 2074.66 L490 2074.63 L491 2075.34 L492 2075.51 L493 2076.11 L494 2076.3 L495 2076.66 L496 2077.38 L497 2077.28 L498 2077.7 L499 2077.82 L500 2078.27 L501 2078.71 L502 2078.98 L503 2078.96 L504 2079.15 L505 2079.33 L506 2079.8 L507 2080.04 L508 2080.18 L509 2080.1 L510 2080.38 L511 2080.68 L512 2080.65 L512 2082.7 Z" fill="#fcdcdc" style="mix-blend-mode:multiply"/>
<polyline points="353,2082.7 354,2082.3 355,2082.25 356,2082.18 357,2082.11 358,2082.03 359,2081.93 360,2081.82 361,2081.73 362,2081.55 363,2081.45 364,2081.17 365,2081.04 366,2080.85 367,2080.45 368,2080.19 369,2079.84 370,2079.56 371,2079.39 372,2078.88 373,2078.51 374,2077.67 375,2077.65 376,2076.45 377,2076.32 378,2075.5 379,2074.39 380,2073.48 381,2072.77 382,2071.74 383,2070.64 384,2069.52 385,2069.27 386,2067.7 387,2066.97 388,2064.53 389,2063.66 390,2062.3 391,2060.72 392,2057.82 393,2057.85 394,2054.66 395,2052.99 396,2052.71 397,2049.76 398,2049.33 399,2046.73 400,2046.1 401,2044.06 402,2042.09 403,2040.75 404,2038.34 405,2037.24 406,2037.09 407,2034.74 408,2034.46 409,2033.18 410,2031.74 411,2030.99 412,2029.73 413,2028.21 414,2028.07 415,2028.19 416,2027.53 417,2029.07 418,2028.42 419,2028.6 420,2029.56 421,2031.51 422,2032.6 423,2034.4 424,2035.77 425,2036.23 426,2039.53 427,2039.7 428,2042.56 429,2043.46 430,2044.98 431,2047.42 432,2047.9 433,2050.09 434,2049.4 435,2050.47 436,2052.15 437,2052.63 438,2053.47 439,2055.2 440,2056.07 441,2055.98 442,2056.35 443,2056.61 444,2056.61 445,2056.76 446,2057.44 447,2058.84 448,2058.43 449,2058.09 450,2057.81 451,2059.8 452,2058.63 453,2059.38 454,2059.92 455,2059.14 456,2060.59 457,2061.02 458,2060.7 459,2060.85 460,2062.16 461,2061.82 462,2062.71 463,2062.1 464,2063.94 465,2062.78 466,2063.94 467,2064.95 468,2065.17 469,2064.82 470,2065.69 471,2066.98 472,2067.4 473,2068.03 474,2067.59 475,2067.77 476,2069.37 477,2068.5 478,2069.5 479,2069.51 480,2070.97 481,2071.5 482,2071.38 483,2071.36 484,2072.48 485,2072.96 486,2073.19 487,2074.27 488,2074.47 489,2074.66 490,2074.63 491,2075.34 492,2075.51 493,2076.11 494,2076.3 495,2076.66 496,2077.38 497,2077.28 498,2077.7 499,2077.82 500,2078.27 501,2078.71 502,2078.98 503,2078.96 504,2079.15 505,2079.33 506,2079.8 507,2080.04 508,2080.18 509,2080.1 510,2080.38 511,2080.68 512,2080.65 513,2082.7" fill="none" stroke="#f6a9a9" stroke-width="1.3" stroke-linejoin="round" style="mix-blend-mode:multiply"/>
<line x1="229.7" y1="2155.1" x2="617.4" y2="2155.1" stroke="#f7aaaa" stroke-width="1.4"/>
<path d="M345 2155.1 L345 2155.1 L346 2155.1 L347 2155.1 L348 2155.1 L349 2155.1 L350 2155.1 L351 2155.1 L352 2155.1 L353 2155.1 L354 2155.1 L355 2155.1 L356 2155.1 L357 2155.1 L358 2155.1 L359 2155.1 L360 2155.1 L361 2155.1 L362 2155.1 L363 2155.1 L364 2155.1 L365 2155.1 L366 2154.72 L367 2154.66 L368 2154.6 L369 2154.53 L370 2154.46 L371 2154.37 L372 2154.27 L373 2154.16 L374 2154.05 L375 2153.9 L376 2153.71 L377 2153.64 L378 2153.46 L379 2153.17 L380 2153.01 L381 2152.81 L382 2152.53 L383 2152.28 L384 2152.04 L385 2151.5 L386 2150.98 L387 2150.68 L388 2150.27 L389 2149.99 L390 2149.42 L391 2149.13 L392 2148.03 L393 2147.82 L394 2147.17 L395 2145.66 L396 2145.67 L397 2143.99 L398 2143.63 L399 2142.47 L400 2141.72 L401 2141.55 L402 2139.46 L403 2139.26 L404 2137.81 L405 2137.16 L406 2136.05 L407 2134.13 L408 2133.49 L409 2131.36 L410 2129 L411 2127.23 L412 2126.88 L413 2125.97 L414 2123.93 L415 2122.9 L416 2120.98 L417 2118.55 L418 2116.92 L419 2116.45 L420 2113.89 L421 2112.39 L422 2110.82 L423 2109.74 L424 2107.64 L425 2106.68 L426 2104 L427 2102.61 L428 2101.24 L429 2100.32 L430 2097.93 L431 2097.88 L432 2097.06 L433 2095.65 L434 2093.59 L435 2094.21 L436 2092.2 L437 2091.16 L438 2090.74 L439 2091.02 L440 2090.67 L441 2089.56 L442 2089.73 L443 2089.49 L444 2090.9 L445 2090.44 L446 2090.83 L447 2092.72 L448 2093.9 L449 2093.97 L450 2096.06 L451 2098.1 L452 2099.84 L453 2102.33 L454 2104.51 L455 2107.05 L456 2108.81 L457 2111.72 L458 2112.67 L459 2115.01 L460 2118.2 L461 2121.64 L462 2123.03 L463 2126.26 L464 2128.11 L465 2130.8 L466 2132.18 L467 2135.04 L468 2136.55 L469 2138.45 L470 2139.68 L471 2140.4 L472 2142.54 L473 2143.61 L474 2144.98 L475 2146.38 L476 2147.89 L477 2148.79 L478 2149.53 L479 2149.99 L480 2150.77 L481 2151.06 L482 2151.95 L483 2152.43 L484 2152.66 L485 2153.03 L486 2153.48 L487 2153.67 L488 2153.89 L489 2154.03 L490 2154.25 L491 2154.39 L492 2154.51 L493 2154.62 L494 2154.7 L495 2155.1 L495 2155.1 Z" fill="#f9b8b8" style="mix-blend-mode:multiply"/>
<polyline points="365,2155.1 366,2154.72 367,2154.66 368,2154.6 369,2154.53 370,2154.46 371,2154.37 372,2154.27 373,2154.16 374,2154.05 375,2153.9 376,2153.71 377,2153.64 378,2153.46 379,2153.17 380,2153.01 381,2152.81 382,2152.53 383,2152.28 384,2152.04 385,2151.5 386,2150.98 387,2150.68 388,2150.27 389,2149.99 390,2149.42 391,2149.13 392,2148.03 393,2147.82 394,2147.17 395,2145.66 396,2145.67 397,2143.99 398,2143.63 399,2142.47 400,2141.72 401,2141.55 402,2139.46 403,2139.26 404,2137.81 405,2137.16 406,2136.05 407,2134.13 408,2133.49 409,2131.36 410,2129 411,2127.23 412,2126.88 413,2125.97 414,2123.93 415,2122.9 416,2120.98 417,2118.55 418,2116.92 419,2116.45 420,2113.89 421,2112.39 422,2110.82 423,2109.74 424,2107.64 425,2106.68 426,2104 427,2102.61 428,2101.24 429,2100.32 430,2097.93 431,2097.88 432,2097.06 433,2095.65 434,2093.59 435,2094.21 436,2092.2 437,2091.16 438,2090.74 439,2091.02 440,2090.67 441,2089.56 442,2089.73 443,2089.49 444,2090.9 445,2090.44 446,2090.83 447,2092.72 448,2093.9 449,2093.97 450,2096.06 451,2098.1 452,2099.84 453,2102.33 454,2104.51 455,2107.05 456,2108.81 457,2111.72 458,2112.67 459,2115.01 460,2118.2 461,2121.64 462,2123.03 463,2126.26 464,2128.11 465,2130.8 466,2132.18 467,2135.04 468,2136.55 469,2138.45 470,2139.68 471,2140.4 472,2142.54 473,2143.61 474,2144.98 475,2146.38 476,2147.89 477,2148.79 478,2149.53 479,2149.99 480,2150.77 481,2151.06 482,2151.95 483,2152.43 484,2152.66 485,2153.03 486,2153.48 487,2153.67 488,2153.89 489,2154.03 490,2154.25 491,2154.39 492,2154.51 493,2154.62 494,2154.7 495,2155.1" fill="none" stroke="#ee6a6a" stroke-width="1.3" stroke-linejoin="round" style="mix-blend-mode:multiply"/>
<line x1="229.7" y1="2227.2" x2="617.4" y2="2227.2" stroke="#eb8989" stroke-width="1.4"/>
<path d="M229.7 2227.2 L229.7 2225.52 L230.7 2225.64 L231.7 2225.43 L232.7 2225.56 L233.7 2225.48 L234.7 2225.35 L235.7 2225.45 L236.7 2225.38 L237.7 2225.44 L238.7 2225.22 L239.7 2225.19 L240.7 2225.37 L241.7 2225.37 L242.7 2225.26 L243.7 2225.23 L244.7 2225.15 L245.7 2225.26 L246.7 2225.18 L247.7 2225.29 L248.7 2225.27 L249.7 2225.3 L250.7 2225.18 L251.7 2225.17 L252.7 2225.16 L253.7 2225.08 L254.7 2225.25 L255.7 2225.25 L256.7 2225.23 L257.7 2225.12 L258.7 2225.3 L259.7 2225.32 L260.7 2225.3 L261.7 2225.25 L262.7 2225.37 L263.7 2225.42 L264.7 2225.31 L265.7 2225.37 L266.7 2225.39 L267.7 2225.55 L268.7 2225.51 L269.7 2225.57 L270.7 2225.54 L271.7 2225.44 L272.7 2225.45 L273.7 2225.5 L274.7 2225.63 L275.7 2225.61 L276.7 2225.56 L277.7 2225.69 L278.7 2225.7 L279.7 2225.65 L280.7 2225.74 L281.7 2225.73 L282.7 2225.76 L283.7 2225.68 L284.7 2225.74 L285.7 2225.83 L286.7 2225.84 L287.7 2225.72 L288.7 2225.81 L289.7 2225.69 L290.7 2225.76 L291.7 2225.68 L292.7 2225.7 L293.7 2225.61 L294.7 2225.68 L295.7 2225.59 L296.7 2225.49 L297.7 2225.53 L298.7 2225.31 L299.7 2225.24 L300.7 2225.18 L301.7 2225.12 L302.7 2225.04 L303.7 2225.06 L304.7 2224.89 L305.7 2224.92 L306.7 2224.94 L307.7 2224.55 L308.7 2224.44 L309.7 2224.55 L310.7 2224.39 L311.7 2224.32 L312.7 2223.99 L313.7 2224.08 L314.7 2223.65 L315.7 2223.86 L316.7 2223.53 L317.7 2223.18 L318.7 2223.16 L319.7 2223.19 L320.7 2223.08 L321.7 2222.51 L322.7 2222.71 L323.7 2222.39 L324.7 2221.98 L325.7 2221.99 L326.7 2222 L327.7 2221.23 L328.7 2221.07 L329.7 2220.95 L330.7 2221.17 L331.7 2220.64 L332.7 2219.99 L333.7 2220.19 L334.7 2220.22 L335.7 2219.34 L336.7 2219.72 L337.7 2219.32 L338.7 2219.5 L339.7 2218.53 L340.7 2218.51 L341.7 2218.48 L342.7 2218.32 L343.7 2218.3 L344.7 2217.96 L345.7 2217.69 L346.7 2218.13 L347.7 2217.04 L348.7 2216.79 L349.7 2217.59 L350.7 2217.26 L351.7 2216.27 L352.7 2216.61 L353.7 2216.73 L354.7 2215.73 L355.7 2215.12 L356.7 2215.9 L357.7 2215.35 L358.7 2215.24 L359.7 2215.05 L360.7 2214.8 L361.7 2214.08 L362.7 2213.97 L363.7 2213.73 L364.7 2213.87 L365.7 2213.53 L366.7 2213.32 L367.7 2213.12 L368.7 2212.99 L369.7 2212.61 L370.7 2213.69 L371.7 2213.23 L372.7 2212.01 L373.7 2212.17 L374.7 2212.25 L375.7 2211.09 L376.7 2211.64 L377.7 2210.17 L378.7 2210.66 L379.7 2209.07 L380.7 2209.84 L381.7 2208.1 L382.7 2208.9 L383.7 2207.49 L384.7 2208.26 L385.7 2206.98 L386.7 2206.69 L387.7 2205.08 L388.7 2204.75 L389.7 2204.37 L390.7 2204.6 L391.7 2203.07 L392.7 2202.9 L393.7 2202.41 L394.7 2200.41 L395.7 2199.9 L396.7 2198.15 L397.7 2197.6 L398.7 2198.3 L399.7 2195.59 L400.7 2195.49 L401.7 2193.61 L402.7 2194.01 L403.7 2192.71 L404.7 2191.26 L405.7 2191.13 L406.7 2189.82 L407.7 2188.94 L408.7 2187.91 L409.7 2186.48 L410.7 2185.54 L411.7 2183.75 L412.7 2184.02 L413.7 2183.03 L414.7 2181.94 L415.7 2181.54 L416.7 2179.94 L417.7 2178.98 L418.7 2178.58 L419.7 2176.86 L420.7 2176.88 L421.7 2174.65 L422.7 2173.58 L423.7 2173.52 L424.7 2173.64 L425.7 2173.09 L426.7 2172.68 L427.7 2171.89 L428.7 2170.06 L429.7 2169.78 L430.7 2169.2 L431.7 2169.86 L432.7 2169.21 L433.7 2168.68 L434.7 2168.63 L435.7 2168.56 L436.7 2169.77 L437.7 2167.87 L438.7 2168.86 L439.7 2169.72 L440.7 2170.01 L441.7 2169.63 L442.7 2169.91 L443.7 2172.4 L444.7 2172.86 L445.7 2174.1 L446.7 2173.92 L447.7 2175.1 L448.7 2176.24 L449.7 2178.35 L450.7 2179.22 L451.7 2179.67 L452.7 2182.21 L453.7 2183.94 L454.7 2185.44 L455.7 2185.81 L456.7 2188.51 L457.7 2189.16 L458.7 2190.95 L459.7 2192.14 L460.7 2195.26 L461.7 2196.37 L462.7 2196.63 L463.7 2199.1 L464.7 2201.45 L465.7 2202.89 L466.7 2204.21 L467.7 2204.68 L468.7 2206.73 L469.7 2208.52 L470.7 2209.47 L471.7 2209.63 L472.7 2210.97 L473.7 2212.59 L474.7 2214.05 L475.7 2215.32 L476.7 2216.22 L477.7 2216 L478.7 2217.26 L479.7 2218.81 L480.7 2218.68 L481.7 2219.25 L482.7 2220.46 L483.7 2220.66 L484.7 2221.69 L485.7 2222.2 L486.7 2222.64 L487.7 2223.03 L488.7 2223.51 L489.7 2223.95 L490.7 2224.35 L491.7 2224.58 L492.7 2224.77 L493.7 2224.95 L494.7 2225.24 L495.7 2225.51 L496.7 2225.72 L497.7 2225.94 L498.7 2226 L499.7 2226.13 L500.7 2226.3 L501.7 2226.41 L502.7 2226.51 L503.7 2226.6 L504.7 2226.68 L505.7 2226.74 L506.7 2226.81 L507.7 2227.2 L508.7 2227.2 L509.7 2227.2 L510 2227.2 Z" fill="#ee9c9c" style="mix-blend-mode:multiply"/>
<polyline points="228.7,2227.2 229.7,2225.52 230.7,2225.64 231.7,2225.43 232.7,2225.56 233.7,2225.48 234.7,2225.35 235.7,2225.45 236.7,2225.38 237.7,2225.44 238.7,2225.22 239.7,2225.19 240.7,2225.37 241.7,2225.37 242.7,2225.26 243.7,2225.23 244.7,2225.15 245.7,2225.26 246.7,2225.18 247.7,2225.29 248.7,2225.27 249.7,2225.3 250.7,2225.18 251.7,2225.17 252.7,2225.16 253.7,2225.08 254.7,2225.25 255.7,2225.25 256.7,2225.23 257.7,2225.12 258.7,2225.3 259.7,2225.32 260.7,2225.3 261.7,2225.25 262.7,2225.37 263.7,2225.42 264.7,2225.31 265.7,2225.37 266.7,2225.39 267.7,2225.55 268.7,2225.51 269.7,2225.57 270.7,2225.54 271.7,2225.44 272.7,2225.45 273.7,2225.5 274.7,2225.63 275.7,2225.61 276.7,2225.56 277.7,2225.69 278.7,2225.7 279.7,2225.65 280.7,2225.74 281.7,2225.73 282.7,2225.76 283.7,2225.68 284.7,2225.74 285.7,2225.83 286.7,2225.84 287.7,2225.72 288.7,2225.81 289.7,2225.69 290.7,2225.76 291.7,2225.68 292.7,2225.7 293.7,2225.61 294.7,2225.68 295.7,2225.59 296.7,2225.49 297.7,2225.53 298.7,2225.31 299.7,2225.24 300.7,2225.18 301.7,2225.12 302.7,2225.04 303.7,2225.06 304.7,2224.89 305.7,2224.92 306.7,2224.94 307.7,2224.55 308.7,2224.44 309.7,2224.55 310.7,2224.39 311.7,2224.32 312.7,2223.99 313.7,2224.08 314.7,2223.65 315.7,2223.86 316.7,2223.53 317.7,2223.18 318.7,2223.16 319.7,2223.19 320.7,2223.08 321.7,2222.51 322.7,2222.71 323.7,2222.39 324.7,2221.98 325.7,2221.99 326.7,2222 327.7,2221.23 328.7,2221.07 329.7,2220.95 330.7,2221.17 331.7,2220.64 332.7,2219.99 333.7,2220.19 334.7,2220.22 335.7,2219.34 336.7,2219.72 337.7,2219.32 338.7,2219.5 339.7,2218.53 340.7,2218.51 341.7,2218.48 342.7,2218.32 343.7,2218.3 344.7,2217.96 345.7,2217.69 346.7,2218.13 347.7,2217.04 348.7,2216.79 349.7,2217.59 350.7,2217.26 351.7,2216.27 352.7,2216.61 353.7,2216.73 354.7,2215.73 355.7,2215.12 356.7,2215.9 357.7,2215.35 358.7,2215.24 359.7,2215.05 360.7,2214.8 361.7,2214.08 362.7,2213.97 363.7,2213.73 364.7,2213.87 365.7,2213.53 366.7,2213.32 367.7,2213.12 368.7,2212.99 369.7,2212.61 370.7,2213.69 371.7,2213.23 372.7,2212.01 373.7,2212.17 374.7,2212.25 375.7,2211.09 376.7,2211.64 377.7,2210.17 378.7,2210.66 379.7,2209.07 380.7,2209.84 381.7,2208.1 382.7,2208.9 383.7,2207.49 384.7,2208.26 385.7,2206.98 386.7,2206.69 387.7,2205.08 388.7,2204.75 389.7,2204.37 390.7,2204.6 391.7,2203.07 392.7,2202.9 393.7,2202.41 394.7,2200.41 395.7,2199.9 396.7,2198.15 397.7,2197.6 398.7,2198.3 399.7,2195.59 400.7,2195.49 401.7,2193.61 402.7,2194.01 403.7,2192.71 404.7,2191.26 405.7,2191.13 406.7,2189.82 407.7,2188.94 408.7,2187.91 409.7,2186.48 410.7,2185.54 411.7,2183.75 412.7,2184.02 413.7,2183.03 414.7,2181.94 415.7,2181.54 416.7,2179.94 417.7,2178.98 418.7,2178.58 419.7,2176.86 420.7,2176.88 421.7,2174.65 422.7,2173.58 423.7,2173.52 424.7,2173.64 425.7,2173.09 426.7,2172.68 427.7,2171.89 428.7,2170.06 429.7,2169.78 430.7,2169.2 431.7,2169.86 432.7,2169.21 433.7,2168.68 434.7,2168.63 435.7,2168.56 436.7,2169.77 437.7,2167.87 438.7,2168.86 439.7,2169.72 440.7,2170.01 441.7,2169.63 442.7,2169.91 443.7,2172.4 444.7,2172.86 445.7,2174.1 446.7,2173.92 447.7,2175.1 448.7,2176.24 449.7,2178.35 450.7,2179.22 451.7,2179.67 452.7,2182.21 453.7,2183.94 454.7,2185.44 455.7,2185.81 456.7,2188.51 457.7,2189.16 458.7,2190.95 459.7,2192.14 460.7,2195.26 461.7,2196.37 462.7,2196.63 463.7,2199.1 464.7,2201.45 465.7,2202.89 466.7,2204.21 467.7,2204.68 468.7,2206.73 469.7,2208.52 470.7,2209.47 471.7,2209.63 472.7,2210.97 473.7,2212.59 474.7,2214.05 475.7,2215.32 476.7,2216.22 477.7,2216 478.7,2217.26 479.7,2218.81 480.7,2218.68 481.7,2219.25 482.7,2220.46 483.7,2220.66 484.7,2221.69 485.7,2222.2 486.7,2222.64 487.7,2223.03 488.7,2223.51 489.7,2223.95 490.7,2224.35 491.7,2224.58 492.7,2224.77 493.7,2224.95 494.7,2225.24 495.7,2225.51 496.7,2225.72 497.7,2225.94 498.7,2226 499.7,2226.13 500.7,2226.3 501.7,2226.41 502.7,2226.51 503.7,2226.6 504.7,2226.68 505.7,2226.74 506.7,2226.81 507.7,2227.2" fill="none" stroke="#db3434" stroke-width="1.3" stroke-linejoin="round" style="mix-blend-mode:multiply"/>
<line x1="229.7" y1="2299.2" x2="617.4" y2="2299.2" stroke="#c38585" stroke-width="1.4"/>
<path d="M345 2299.2 L345 2299.2 L346 2299.2 L347 2299.2 L348 2299.2 L349 2299.2 L350 2299.2 L351 2299.2 L352 2299.2 L353 2299.2 L354 2299.2 L355 2299.2 L356 2299.2 L357 2299.2 L358 2299.2 L359 2299.2 L360 2299.2 L361 2299.2 L362 2299.2 L363 2299.2 L364 2299.2 L365 2299.2 L366 2299.2 L367 2299.2 L368 2299.2 L369 2299.2 L370 2299.2 L371 2299.2 L372 2299.2 L373 2299.2 L374 2299.2 L375 2299.2 L376 2298.77 L377 2298.64 L378 2298.48 L379 2298.28 L380 2298.04 L381 2297.77 L382 2297.25 L383 2296.91 L384 2296.52 L385 2295.6 L386 2295.19 L387 2294.26 L388 2293.37 L389 2291.7 L390 2290.06 L391 2288.75 L392 2287.61 L393 2284.59 L394 2282.35 L395 2281.1 L396 2278.68 L397 2275.17 L398 2271.7 L399 2268.8 L400 2265.74 L401 2262.84 L402 2260.56 L403 2256.53 L404 2253.69 L405 2250.16 L406 2247.5 L407 2245.29 L408 2241.39 L409 2240.9 L410 2238.41 L411 2236.93 L412 2234.56 L413 2235.59 L414 2234.44 L415 2234.04 L416 2235.66 L417 2236.59 L418 2239.78 L419 2242.32 L420 2245.5 L421 2248.9 L422 2252.6 L423 2256.96 L424 2259.05 L425 2263.46 L426 2267.4 L427 2271.39 L428 2275.55 L429 2278.78 L430 2280.3 L431 2283.32 L432 2286.49 L433 2288.23 L434 2289.92 L435 2292.51 L436 2293.56 L437 2294.67 L438 2295.65 L439 2296.35 L440 2297.06 L441 2297.6 L442 2297.86 L443 2298.24 L444 2298.48 L445 2298.67 L446 2298.81 L447 2299.2 L448 2299.2 L449 2299.2 L450 2299.2 L451 2299.2 L452 2299.2 L453 2299.2 L454 2299.2 L455 2299.2 L456 2299.2 L457 2299.2 L458 2299.2 L459 2299.2 L460 2299.2 L461 2299.2 L462 2299.2 L463 2299.2 L464 2299.2 L465 2299.2 L465 2299.2 Z" fill="#d09a9a" style="mix-blend-mode:multiply"/>
<polyline points="375,2299.2 376,2298.77 377,2298.64 378,2298.48 379,2298.28 380,2298.04 381,2297.77 382,2297.25 383,2296.91 384,2296.52 385,2295.6 386,2295.19 387,2294.26 388,2293.37 389,2291.7 390,2290.06 391,2288.75 392,2287.61 393,2284.59 394,2282.35 395,2281.1 396,2278.68 397,2275.17 398,2271.7 399,2268.8 400,2265.74 401,2262.84 402,2260.56 403,2256.53 404,2253.69 405,2250.16 406,2247.5 407,2245.29 408,2241.39 409,2240.9 410,2238.41 411,2236.93 412,2234.56 413,2235.59 414,2234.44 415,2234.04 416,2235.66 417,2236.59 418,2239.78 419,2242.32 420,2245.5 421,2248.9 422,2252.6 423,2256.96 424,2259.05 425,2263.46 426,2267.4 427,2271.39 428,2275.55 429,2278.78 430,2280.3 431,2283.32 432,2286.49 433,2288.23 434,2289.92 435,2292.51 436,2293.56 437,2294.67 438,2295.65 439,2296.35 440,2297.06 441,2297.6 442,2297.86 443,2298.24 444,2298.48 445,2298.67 446,2298.81 447,2299.2" fill="none" stroke="#872828" stroke-width="1.3" stroke-linejoin="round" style="mix-blend-mode:multiply"/>
<path d="M300 2370.9 L300 2370.9 L301 2370.9 L302 2370.9 L303 2370.9 L304 2370.9 L305 2370.9 L306 2370.9 L307 2370.9 L308 2370.9 L309 2370.9 L310 2370.9 L311 2370.9 L312 2370.9 L313 2370.9 L314 2370.9 L315 2370.9 L316 2370.9 L317 2370.9 L318 2370.9 L319 2370.9 L320 2370.48 L321 2370.36 L322 2370.22 L323 2370.05 L324 2369.84 L325 2369.56 L326 2369.31 L327 2368.83 L328 2368.68 L329 2367.87 L330 2367.42 L331 2366.72 L332 2366 L333 2365.62 L334 2364.27 L335 2363.45 L336 2362.96 L337 2361.01 L338 2360.38 L339 2358.72 L340 2358.52 L341 2356.14 L342 2356.16 L343 2354.73 L344 2353.35 L345 2352.22 L346 2349.96 L347 2349.61 L348 2348.67 L349 2346.59 L350 2345.98 L351 2346.18 L352 2346.18 L353 2344.94 L354 2345.32 L355 2345.83 L356 2346.21 L357 2346.49 L358 2346.77 L359 2348.02 L360 2349.11 L361 2349.02 L362 2350.44 L363 2351.74 L364 2352.33 L365 2352.63 L366 2353.42 L367 2356.15 L368 2355.74 L369 2357.81 L370 2357.97 L371 2359.04 L372 2360.93 L373 2361.46 L374 2362.5 L375 2363.72 L376 2363.87 L377 2364.92 L378 2365.44 L379 2366.6 L380 2367.1 L381 2367.31 L382 2368.05 L383 2368.43 L384 2368.83 L385 2369.01 L386 2369.41 L387 2369.68 L388 2369.89 L389 2370.01 L390 2370.17 L391 2370.3 L392 2370.41 L393 2370.5 L394 2370.9 L395 2370.9 L395 2370.9 Z" fill="#b5b5b5" style="mix-blend-mode:multiply"/>
<polyline points="319,2370.9 320,2370.48 321,2370.36 322,2370.22 323,2370.05 324,2369.84 325,2369.56 326,2369.31 327,2368.83 328,2368.68 329,2367.87 330,2367.42 331,2366.72 332,2366 333,2365.62 334,2364.27 335,2363.45 336,2362.96 337,2361.01 338,2360.38 339,2358.72 340,2358.52 341,2356.14 342,2356.16 343,2354.73 344,2353.35 345,2352.22 346,2349.96 347,2349.61 348,2348.67 349,2346.59 350,2345.98 351,2346.18 352,2346.18 353,2344.94 354,2345.32 355,2345.83 356,2346.21 357,2346.49 358,2346.77 359,2348.02 360,2349.11 361,2349.02 362,2350.44 363,2351.74 364,2352.33 365,2352.63 366,2353.42 367,2356.15 368,2355.74 369,2357.81 370,2357.97 371,2359.04 372,2360.93 373,2361.46 374,2362.5 375,2363.72 376,2363.87 377,2364.92 378,2365.44 379,2366.6 380,2367.1 381,2367.31 382,2368.05 383,2368.43 384,2368.83 385,2369.01 386,2369.41 387,2369.68 388,2369.89 389,2370.01 390,2370.17 391,2370.3 392,2370.41 393,2370.5 394,2370.9" fill="none" stroke="#777777" stroke-width="1.3" stroke-linejoin="round" style="mix-blend-mode:multiply"/>
<line x1="414.3" y1="2009.9" x2="414.3" y2="2370.9" stroke="#000" stroke-width="1.5"/>
<line x1="414.3" y1="2009.9" x2="414.3" y2="2189.6" stroke="#000" stroke-width="2.4"/>
<rect x="229.7" y="2009.9" width="387.7" height="361" fill="none" stroke="#000" stroke-width="1.5"/>
<line x1="229.7" y1="2374.1" x2="617.4" y2="2374.1" stroke="#666" stroke-width="1.1"/>
<line x1="231.7" y1="2374.1" x2="231.7" y2="2382.6" stroke="#000" stroke-width="2.6"/>
<line x1="307.7" y1="2374.1" x2="307.7" y2="2382.6" stroke="#000" stroke-width="2.6"/>
<line x1="399.7" y1="2374.1" x2="399.7" y2="2382.6" stroke="#000" stroke-width="2.6"/>
<line x1="489.7" y1="2374.1" x2="489.7" y2="2382.6" stroke="#000" stroke-width="2.6"/>
<line x1="577.7" y1="2374.1" x2="577.7" y2="2382.6" stroke="#000" stroke-width="2.6"/>
<line x1="335.39" y1="2374.1" x2="335.39" y2="2379.1" stroke="#000" stroke-width="1.3"/>
<line x1="351.6" y1="2374.1" x2="351.6" y2="2379.1" stroke="#000" stroke-width="1.3"/>
<line x1="363.09" y1="2374.1" x2="363.09" y2="2379.1" stroke="#000" stroke-width="1.3"/>
<line x1="372.01" y1="2374.1" x2="372.01" y2="2379.1" stroke="#000" stroke-width="1.3"/>
<line x1="379.29" y1="2374.1" x2="379.29" y2="2379.1" stroke="#000" stroke-width="1.3"/>
<line x1="385.45" y1="2374.1" x2="385.45" y2="2379.1" stroke="#000" stroke-width="1.3"/>
<line x1="390.78" y1="2374.1" x2="390.78" y2="2379.1" stroke="#000" stroke-width="1.3"/>
<line x1="395.49" y1="2374.1" x2="395.49" y2="2379.1" stroke="#000" stroke-width="1.3"/>
<line x1="426.79" y1="2374.1" x2="426.79" y2="2379.1" stroke="#000" stroke-width="1.3"/>
<line x1="442.64" y1="2374.1" x2="442.64" y2="2379.1" stroke="#000" stroke-width="1.3"/>
<line x1="453.89" y1="2374.1" x2="453.89" y2="2379.1" stroke="#000" stroke-width="1.3"/>
<line x1="462.61" y1="2374.1" x2="462.61" y2="2379.1" stroke="#000" stroke-width="1.3"/>
<line x1="469.73" y1="2374.1" x2="469.73" y2="2379.1" stroke="#000" stroke-width="1.3"/>
<line x1="475.76" y1="2374.1" x2="475.76" y2="2379.1" stroke="#000" stroke-width="1.3"/>
<line x1="480.98" y1="2374.1" x2="480.98" y2="2379.1" stroke="#000" stroke-width="1.3"/>
<line x1="485.58" y1="2374.1" x2="485.58" y2="2379.1" stroke="#000" stroke-width="1.3"/>
<line x1="516.19" y1="2374.1" x2="516.19" y2="2379.1" stroke="#000" stroke-width="1.3"/>
<line x1="531.69" y1="2374.1" x2="531.69" y2="2379.1" stroke="#000" stroke-width="1.3"/>
<line x1="542.68" y1="2374.1" x2="542.68" y2="2379.1" stroke="#000" stroke-width="1.3"/>
<line x1="551.21" y1="2374.1" x2="551.21" y2="2379.1" stroke="#000" stroke-width="1.3"/>
<line x1="558.18" y1="2374.1" x2="558.18" y2="2379.1" stroke="#000" stroke-width="1.3"/>
<line x1="564.07" y1="2374.1" x2="564.07" y2="2379.1" stroke="#000" stroke-width="1.3"/>
<line x1="569.17" y1="2374.1" x2="569.17" y2="2379.1" stroke="#000" stroke-width="1.3"/>
<line x1="573.67" y1="2374.1" x2="573.67" y2="2379.1" stroke="#000" stroke-width="1.3"/>
<line x1="604.19" y1="2374.1" x2="604.19" y2="2379.1" stroke="#000" stroke-width="1.3"/>
<line x1="257.7" y1="2374.1" x2="257.7" y2="2381.1" stroke="#000" stroke-width="1.3"/>
<line x1="260.3" y1="2374.1" x2="260.3" y2="2379.1" stroke="#000" stroke-width="1.3"/>
<line x1="262.9" y1="2374.1" x2="262.9" y2="2379.1" stroke="#000" stroke-width="1.3"/>
<line x1="265.5" y1="2374.1" x2="265.5" y2="2381.1" stroke="#000" stroke-width="1.3"/>
<line x1="268.1" y1="2374.1" x2="268.1" y2="2379.1" stroke="#000" stroke-width="1.3"/>
<line x1="270.7" y1="2374.1" x2="270.7" y2="2379.1" stroke="#000" stroke-width="1.3"/>
<line x1="273.3" y1="2374.1" x2="273.3" y2="2381.1" stroke="#000" stroke-width="1.3"/>
<text x="275.7" y="2404.4" font-size="14" text-anchor="middle" fill="#111" stroke="#111" stroke-width="0.45" textLength="7" lengthAdjust="spacingAndGlyphs">0</text>
<text x="401.2" y="2404.4" font-size="14.5" fill="#111" stroke="#111" stroke-width="0.45" textLength="12" lengthAdjust="spacingAndGlyphs">10</text>
<text x="414.2" y="2395.9" font-size="11.5" fill="#111" stroke="#111" stroke-width="0.45" textLength="6.5" lengthAdjust="spacingAndGlyphs">3</text>
<text x="491.2" y="2404.4" font-size="14.5" fill="#111" stroke="#111" stroke-width="0.45" textLength="12" lengthAdjust="spacingAndGlyphs">10</text>
<text x="504.2" y="2395.9" font-size="11.5" fill="#111" stroke="#111" stroke-width="0.45" textLength="6.5" lengthAdjust="spacingAndGlyphs">4</text>
<text x="579.2" y="2404.4" font-size="14.5" fill="#111" stroke="#111" stroke-width="0.45" textLength="12" lengthAdjust="spacingAndGlyphs">10</text>
<text x="592.2" y="2395.9" font-size="11.5" fill="#111" stroke="#111" stroke-width="0.45" textLength="6.5" lengthAdjust="spacingAndGlyphs">5</text>
<text x="239" y="2055.6" font-size="35" fill="#f00000" textLength="114.5" lengthAdjust="spacingAndGlyphs">CD34+</text>
<text x="468" y="2081.5" font-size="28.5">Δ MFI=209</text>
<text x="468" y="2150.2" font-size="28.5">Δ MFI=799</text>
<text x="468" y="2223.4" font-size="28.5">Δ MFI=235</text>
<line x1="643.8" y1="2081.7" x2="1035.2" y2="2081.7" stroke="#fbd3d3" stroke-width="1.4"/>
<path d="M700 2081.7 L700 2081.7 L701 2081.7 L702 2081.7 L703 2081.7 L704 2081.7 L705 2081.7 L706 2081.7 L707 2081.7 L708 2081.7 L709 2081.7 L710 2081.7 L711 2081.7 L712 2081.7 L713 2081.31 L714 2081.27 L715 2081.22 L716 2081.17 L717 2081.11 L718 2081.05 L719 2080.99 L720 2080.91 L721 2080.84 L722 2080.75 L723 2080.6 L724 2080.59 L725 2080.46 L726 2080.41 L727 2080.12 L728 2080.16 L729 2079.91 L730 2079.78 L731 2079.59 L732 2079.51 L733 2079.35 L734 2079.16 L735 2079.09 L736 2078.8 L737 2078.61 L738 2078.16 L739 2078.08 L740 2078.02 L741 2077.81 L742 2077.38 L743 2076.71 L744 2077.05 L745 2076.48 L746 2075.95 L747 2076.14 L748 2075.28 L749 2074.88 L750 2074.59 L751 2074.9 L752 2073.79 L753 2074.17 L754 2073.22 L755 2072.87 L756 2072.84 L757 2072.22 L758 2071.85 L759 2071.46 L760 2071.79 L761 2070.56 L762 2070.71 L763 2070.79 L764 2070.85 L765 2069.45 L766 2068.93 L767 2068.82 L768 2068.91 L769 2068.54 L770 2068.87 L771 2069.08 L772 2067.49 L773 2067.56 L774 2067.78 L775 2066.99 L776 2068.17 L777 2068.1 L778 2067.61 L779 2066.22 L780 2067.11 L781 2067.46 L782 2067.08 L783 2066.99 L784 2065.18 L785 2064.74 L786 2066.25 L787 2064.65 L788 2065.12 L789 2063.35 L790 2063.97 L791 2062.34 L792 2062.99 L793 2061.11 L794 2060.46 L795 2060.01 L796 2057.25 L797 2056.89 L798 2054.95 L799 2054.55 L800 2052.68 L801 2049.84 L802 2048.75 L803 2045.97 L804 2044.58 L805 2041.97 L806 2041.21 L807 2038.82 L808 2036.02 L809 2035.75 L810 2032.84 L811 2032.07 L812 2029.92 L813 2027.99 L814 2026.95 L815 2026.1 L816 2025.11 L817 2023.19 L818 2022.29 L819 2022.59 L820 2023.14 L821 2022.63 L822 2024.47 L823 2023.58 L824 2024.74 L825 2025.76 L826 2026.62 L827 2028.73 L828 2029.35 L829 2030.64 L830 2032.34 L831 2033.83 L832 2035.8 L833 2037.12 L834 2039.46 L835 2040.17 L836 2043.45 L837 2044.34 L838 2046.74 L839 2048.02 L840 2050.15 L841 2052.66 L842 2053.47 L843 2055.64 L844 2058.74 L845 2060.15 L846 2061.94 L847 2063.1 L848 2064.47 L849 2065.96 L850 2066.57 L851 2068.84 L852 2069.25 L853 2071.03 L854 2071.76 L855 2073.39 L856 2073.61 L857 2074.94 L858 2075.28 L859 2076.27 L860 2076.59 L861 2077.2 L862 2078.09 L863 2078.21 L864 2078.73 L865 2079.26 L866 2079.41 L867 2079.78 L868 2079.92 L869 2080.24 L870 2080.51 L871 2080.62 L872 2080.79 L873 2080.93 L874 2081.05 L875 2081.15 L876 2081.23 L877 2081.31 L878 2081.7 L879 2081.7 L880 2081.7 L881 2081.7 L882 2081.7 L883 2081.7 L884 2081.7 L885 2081.7 L886 2081.7 L887 2081.7 L888 2081.7 L889 2081.7 L890 2081.7 L891 2081.7 L892 2081.7 L893 2081.7 L894 2081.7 L895 2081.7 L896 2081.7 L897 2081.7 L898 2081.7 L899 2081.7 L900 2081.7 L901 2081.7 L902 2081.7 L903 2081.7 L904 2081.7 L905 2081.7 L905 2081.7 Z" fill="#fcdcdc" style="mix-blend-mode:multiply"/>
<polyline points="712,2081.7 713,2081.31 714,2081.27 715,2081.22 716,2081.17 717,2081.11 718,2081.05 719,2080.99 720,2080.91 721,2080.84 722,2080.75 723,2080.6 724,2080.59 725,2080.46 726,2080.41 727,2080.12 728,2080.16 729,2079.91 730,2079.78 731,2079.59 732,2079.51 733,2079.35 734,2079.16 735,2079.09 736,2078.8 737,2078.61 738,2078.16 739,2078.08 740,2078.02 741,2077.81 742,2077.38 743,2076.71 744,2077.05 745,2076.48 746,2075.95 747,2076.14 748,2075.28 749,2074.88 750,2074.59 751,2074.9 752,2073.79 753,2074.17 754,2073.22 755,2072.87 756,2072.84 757,2072.22 758,2071.85 759,2071.46 760,2071.79 761,2070.56 762,2070.71 763,2070.79 764,2070.85 765,2069.45 766,2068.93 767,2068.82 768,2068.91 769,2068.54 770,2068.87 771,2069.08 772,2067.49 773,2067.56 774,2067.78 775,2066.99 776,2068.17 777,2068.1 778,2067.61 779,2066.22 780,2067.11 781,2067.46 782,2067.08 783,2066.99 784,2065.18 785,2064.74 786,2066.25 787,2064.65 788,2065.12 789,2063.35 790,2063.97 791,2062.34 792,2062.99 793,2061.11 794,2060.46 795,2060.01 796,2057.25 797,2056.89 798,2054.95 799,2054.55 800,2052.68 801,2049.84 802,2048.75 803,2045.97 804,2044.58 805,2041.97 806,2041.21 807,2038.82 808,2036.02 809,2035.75 810,2032.84 811,2032.07 812,2029.92 813,2027.99 814,2026.95 815,2026.1 816,2025.11 817,2023.19 818,2022.29 819,2022.59 820,2023.14 821,2022.63 822,2024.47 823,2023.58 824,2024.74 825,2025.76 826,2026.62 827,2028.73 828,2029.35 829,2030.64 830,2032.34 831,2033.83 832,2035.8 833,2037.12 834,2039.46 835,2040.17 836,2043.45 837,2044.34 838,2046.74 839,2048.02 840,2050.15 841,2052.66 842,2053.47 843,2055.64 844,2058.74 845,2060.15 846,2061.94 847,2063.1 848,2064.47 849,2065.96 850,2066.57 851,2068.84 852,2069.25 853,2071.03 854,2071.76 855,2073.39 856,2073.61 857,2074.94 858,2075.28 859,2076.27 860,2076.59 861,2077.2 862,2078.09 863,2078.21 864,2078.73 865,2079.26 866,2079.41 867,2079.78 868,2079.92 869,2080.24 870,2080.51 871,2080.62 872,2080.79 873,2080.93 874,2081.05 875,2081.15 876,2081.23 877,2081.31 878,2081.7" fill="none" stroke="#f6a9a9" stroke-width="1.3" stroke-linejoin="round" style="mix-blend-mode:multiply"/>
<line x1="643.8" y1="2154.5" x2="1035.2" y2="2154.5" stroke="#f7aaaa" stroke-width="1.4"/>
<path d="M643.8 2154.5 L643.8 2153.6 L644.8 2153.24 L645.8 2152.74 L646.8 2152.46 L647.8 2151.76 L648.8 2151.51 L649.8 2151.3 L650.8 2151.65 L651.8 2151.9 L652.8 2152.29 L653.8 2152.67 L654.8 2153.13 L655.8 2153.42 L656.8 2153.79 L657.8 2154.05 L658.8 2154.5 L659.8 2154.5 L660.8 2154.5 L661.8 2154.5 L662.8 2154.5 L663.8 2154.5 L664.8 2154.5 L665.8 2154.5 L666.8 2154.5 L667.8 2154.5 L668.8 2154.5 L669.8 2154.5 L670.8 2154.5 L671.8 2154.5 L672.8 2154.5 L673.8 2154.5 L674.8 2154.5 L675.8 2154.5 L676.8 2154.5 L677.8 2154.5 L678.8 2154.5 L679.8 2154.5 L680.8 2154.5 L681.8 2154.5 L682.8 2154.5 L683.8 2154.5 L684.8 2154.5 L685.8 2154.5 L686.8 2154.5 L687.8 2154.5 L688.8 2154.5 L689.8 2154.5 L690.8 2154.5 L691.8 2154.5 L692.8 2154.5 L693.8 2154.5 L694.8 2154.5 L695.8 2154.5 L696.8 2154.5 L697.8 2154.5 L698.8 2154.5 L699.8 2154.5 L700.8 2154.5 L701.8 2154.5 L702.8 2154.5 L703.8 2154.5 L704.8 2154.5 L705.8 2154.5 L706.8 2154.5 L707.8 2154.5 L708.8 2154.5 L709.8 2154.5 L710.8 2154.5 L711.8 2154.5 L712.8 2154.5 L713.8 2154.5 L714.8 2154.5 L715.8 2154.5 L716.8 2154.5 L717.8 2154.5 L718.8 2154.5 L719.8 2154.5 L720.8 2154.5 L721.8 2154.5 L722.8 2154.5 L723.8 2154.5 L724.8 2154.5 L725.8 2154.5 L726.8 2154.5 L727.8 2154.5 L728.8 2154.5 L729.8 2154.5 L730.8 2154.5 L731.8 2154.5 L732.8 2154.5 L733.8 2154.5 L734.8 2154.5 L735.8 2154.5 L736.8 2154.5 L737.8 2154.5 L738.8 2154.5 L739.8 2154.5 L740.8 2154.5 L741.8 2154.5 L742.8 2154.5 L743.8 2154.5 L744.8 2154.5 L745.8 2154.5 L746.8 2154.5 L747.8 2154.5 L748.8 2154.5 L749.8 2154.5 L750.8 2154.5 L751.8 2154.5 L752.8 2154.5 L753.8 2154.5 L754.8 2154.5 L755.8 2154.5 L756.8 2154.5 L757.8 2154.5 L758.8 2154.5 L759.8 2154.5 L760.8 2154.5 L761.8 2154.5 L762.8 2154.5 L763.8 2154.5 L764.8 2154.5 L765.8 2154.5 L766.8 2154.5 L767.8 2154.5 L768.8 2154.5 L769.8 2154.5 L770.8 2154.5 L771.8 2154.5 L772.8 2154.5 L773.8 2154.5 L774.8 2154.5 L775.8 2154.5 L776.8 2154.5 L777.8 2154.5 L778.8 2154.5 L779.8 2154.5 L780.8 2154.5 L781.8 2154.5 L782.8 2154.5 L783.8 2154.5 L784.8 2154.5 L785.8 2154.14 L786.8 2154.05 L787.8 2153.94 L788.8 2153.82 L789.8 2153.67 L790.8 2153.5 L791.8 2153.22 L792.8 2152.96 L793.8 2152.75 L794.8 2152.46 L795.8 2152.01 L796.8 2151.68 L797.8 2150.88 L798.8 2150.51 L799.8 2149.86 L800.8 2148.55 L801.8 2148 L802.8 2146.5 L803.8 2145.28 L804.8 2144.39 L805.8 2143.63 L806.8 2142.37 L807.8 2140.65 L808.8 2137.95 L809.8 2136.53 L810.8 2134.96 L811.8 2133.4 L812.8 2130.5 L813.8 2128.09 L814.8 2126.31 L815.8 2123.44 L816.8 2120.79 L817.8 2117.95 L818.8 2115.17 L819.8 2112.41 L820.8 2109.26 L821.8 2107.83 L822.8 2105.79 L823.8 2103.03 L824.8 2101.01 L825.8 2098.25 L826.8 2096.6 L827.8 2095.27 L828.8 2094.31 L829.8 2091.84 L830.8 2091.2 L831.8 2090.59 L832.8 2090.1 L833.8 2089.73 L834.8 2091.43 L835.8 2091.26 L836.8 2090.91 L837.8 2090.74 L838.8 2091.49 L839.8 2091.92 L840.8 2092.82 L841.8 2093.51 L842.8 2092.87 L843.8 2093.34 L844.8 2095.04 L845.8 2095.88 L846.8 2097.38 L847.8 2097.3 L848.8 2098.98 L849.8 2099.08 L850.8 2100.73 L851.8 2101.34 L852.8 2101.54 L853.8 2103.67 L854.8 2104.25 L855.8 2105.73 L856.8 2106.46 L857.8 2106.77 L858.8 2108.6 L859.8 2108.75 L860.8 2110.97 L861.8 2112 L862.8 2112.76 L863.8 2114.2 L864.8 2115.03 L865.8 2116.98 L866.8 2118.75 L867.8 2119.16 L868.8 2121.12 L869.8 2122.01 L870.8 2122.59 L871.8 2123.7 L872.8 2124.57 L873.8 2126.34 L874.8 2127.9 L875.8 2129.64 L876.8 2130.68 L877.8 2132.35 L878.8 2134 L879.8 2134.4 L880.8 2135.43 L881.8 2137.28 L882.8 2137.58 L883.8 2139.12 L884.8 2140.62 L885.8 2140.67 L886.8 2143.05 L887.8 2143.55 L888.8 2144.33 L889.8 2144.69 L890.8 2145.98 L891.8 2145.89 L892.8 2147.48 L893.8 2147.77 L894.8 2148.33 L895.8 2148.66 L896.8 2149.51 L897.8 2150.01 L898.8 2150.08 L899.8 2150.46 L900.8 2150.93 L901.8 2151.11 L902.8 2151.62 L903.8 2151.87 L904.8 2152.1 L905.8 2152.44 L906.8 2152.45 L907.8 2152.83 L908.8 2152.98 L909.8 2152.97 L910.8 2153.2 L911.8 2153.38 L912.8 2153.38 L913.8 2153.54 L914.8 2153.64 L915.8 2153.73 L916.8 2153.81 L917.8 2153.88 L918.8 2153.95 L919.8 2154.01 L920 2154.5 Z" fill="#f9b8b8" style="mix-blend-mode:multiply"/>
<polyline points="642.8,2154.5 643.8,2153.6 644.8,2153.24 645.8,2152.74 646.8,2152.46 647.8,2151.76 648.8,2151.51 649.8,2151.3 650.8,2151.65 651.8,2151.9 652.8,2152.29 653.8,2152.67 654.8,2153.13 655.8,2153.42 656.8,2153.79 657.8,2154.05 658.8,2154.5" fill="none" stroke="#ee6a6a" stroke-width="1.3" stroke-linejoin="round" style="mix-blend-mode:multiply"/>
<polyline points="784.8,2154.5 785.8,2154.14 786.8,2154.05 787.8,2153.94 788.8,2153.82 789.8,2153.67 790.8,2153.5 791.8,2153.22 792.8,2152.96 793.8,2152.75 794.8,2152.46 795.8,2152.01 796.8,2151.68 797.8,2150.88 798.8,2150.51 799.8,2149.86 800.8,2148.55 801.8,2148 802.8,2146.5 803.8,2145.28 804.8,2144.39 805.8,2143.63 806.8,2142.37 807.8,2140.65 808.8,2137.95 809.8,2136.53 810.8,2134.96 811.8,2133.4 812.8,2130.5 813.8,2128.09 814.8,2126.31 815.8,2123.44 816.8,2120.79 817.8,2117.95 818.8,2115.17 819.8,2112.41 820.8,2109.26 821.8,2107.83 822.8,2105.79 823.8,2103.03 824.8,2101.01 825.8,2098.25 826.8,2096.6 827.8,2095.27 828.8,2094.31 829.8,2091.84 830.8,2091.2 831.8,2090.59 832.8,2090.1 833.8,2089.73 834.8,2091.43 835.8,2091.26 836.8,2090.91 837.8,2090.74 838.8,2091.49 839.8,2091.92 840.8,2092.82 841.8,2093.51 842.8,2092.87 843.8,2093.34 844.8,2095.04 845.8,2095.88 846.8,2097.38 847.8,2097.3 848.8,2098.98 849.8,2099.08 850.8,2100.73 851.8,2101.34 852.8,2101.54 853.8,2103.67 854.8,2104.25 855.8,2105.73 856.8,2106.46 857.8,2106.77 858.8,2108.6 859.8,2108.75 860.8,2110.97 861.8,2112 862.8,2112.76 863.8,2114.2 864.8,2115.03 865.8,2116.98 866.8,2118.75 867.8,2119.16 868.8,2121.12 869.8,2122.01 870.8,2122.59 871.8,2123.7 872.8,2124.57 873.8,2126.34 874.8,2127.9 875.8,2129.64 876.8,2130.68 877.8,2132.35 878.8,2134 879.8,2134.4 880.8,2135.43 881.8,2137.28 882.8,2137.58 883.8,2139.12 884.8,2140.62 885.8,2140.67 886.8,2143.05 887.8,2143.55 888.8,2144.33 889.8,2144.69 890.8,2145.98 891.8,2145.89 892.8,2147.48 893.8,2147.77 894.8,2148.33 895.8,2148.66 896.8,2149.51 897.8,2150.01 898.8,2150.08 899.8,2150.46 900.8,2150.93 901.8,2151.11 902.8,2151.62 903.8,2151.87 904.8,2152.1 905.8,2152.44 906.8,2152.45 907.8,2152.83 908.8,2152.98 909.8,2152.97 910.8,2153.2 911.8,2153.38 912.8,2153.38 913.8,2153.54 914.8,2153.64 915.8,2153.73 916.8,2153.81 917.8,2153.88 918.8,2153.95 919.8,2154.01 920.8,2154.5" fill="none" stroke="#ee6a6a" stroke-width="1.3" stroke-linejoin="round" style="mix-blend-mode:multiply"/>
<line x1="643.8" y1="2225.5" x2="1035.2" y2="2225.5" stroke="#eb8989" stroke-width="1.4"/>
<path d="M643.8 2225.5 L643.8 2219.09 L644.8 2216.47 L645.8 2214.88 L646.8 2216.19 L647.8 2217.73 L648.8 2220.24 L649.8 2222.24 L650.8 2223.87 L651.8 2224.81 L652.8 2225.5 L653.8 2225.5 L654.8 2225.5 L655.8 2225.5 L656.8 2225.5 L657.8 2225.5 L658.8 2225.5 L659.8 2225.5 L660.8 2225.5 L661.8 2225.5 L662.8 2225.5 L663.8 2225.5 L664.8 2225.5 L665.8 2225.5 L666.8 2225.5 L667.8 2225.5 L668.8 2225.5 L669.8 2225.5 L670.8 2225.5 L671.8 2225.5 L672.8 2225.5 L673.8 2225.5 L674.8 2225.5 L675.8 2225.5 L676.8 2225.5 L677.8 2225.5 L678.8 2225.5 L679.8 2225.5 L680.8 2225.5 L681.8 2225.5 L682.8 2225.5 L683.8 2225.5 L684.8 2225.5 L685.8 2225.5 L686.8 2225.5 L687.8 2225.5 L688.8 2225.5 L689.8 2225.5 L690.8 2225.14 L691.8 2225.11 L692.8 2225.08 L693.8 2225.04 L694.8 2225.01 L695.8 2224.97 L696.8 2224.92 L697.8 2224.88 L698.8 2224.83 L699.8 2224.78 L700.8 2224.72 L701.8 2224.66 L702.8 2224.6 L703.8 2224.54 L704.8 2224.45 L705.8 2224.32 L706.8 2224.28 L707.8 2224.26 L708.8 2224.17 L709.8 2224.03 L710.8 2223.91 L711.8 2223.91 L712.8 2223.67 L713.8 2223.64 L714.8 2223.44 L715.8 2223.5 L716.8 2223.31 L717.8 2223.27 L718.8 2223 L719.8 2222.91 L720.8 2222.73 L721.8 2222.62 L722.8 2222.19 L723.8 2222.1 L724.8 2222.04 L725.8 2221.78 L726.8 2221.75 L727.8 2221.13 L728.8 2220.93 L729.8 2220.9 L730.8 2220.94 L731.8 2220.18 L732.8 2220.44 L733.8 2220.32 L734.8 2219.8 L735.8 2219.57 L736.8 2218.91 L737.8 2219.23 L738.8 2219.04 L739.8 2218.41 L740.8 2218.51 L741.8 2217.58 L742.8 2217.46 L743.8 2216.71 L744.8 2216.31 L745.8 2216.81 L746.8 2215.81 L747.8 2215.83 L748.8 2214.9 L749.8 2215.74 L750.8 2214.88 L751.8 2213.77 L752.8 2214.8 L753.8 2214.09 L754.8 2213.74 L755.8 2213.32 L756.8 2211.91 L757.8 2212.94 L758.8 2211.48 L759.8 2212.14 L760.8 2210.67 L761.8 2211.72 L762.8 2211.5 L763.8 2209.41 L764.8 2211.04 L765.8 2209.47 L766.8 2210.03 L767.8 2208.98 L768.8 2209.21 L769.8 2208.31 L770.8 2207.93 L771.8 2207.52 L772.8 2208.52 L773.8 2206.86 L774.8 2207.8 L775.8 2206.86 L776.8 2206.22 L777.8 2206.09 L778.8 2206.38 L779.8 2206.26 L780.8 2206.78 L781.8 2205.17 L782.8 2205.59 L783.8 2205.09 L784.8 2204.57 L785.8 2204.98 L786.8 2205.66 L787.8 2205.18 L788.8 2205.69 L789.8 2205.37 L790.8 2204.1 L791.8 2204.36 L792.8 2205.23 L793.8 2204.39 L794.8 2204.46 L795.8 2203.48 L796.8 2203.26 L797.8 2204 L798.8 2204.29 L799.8 2203.79 L800.8 2202.71 L801.8 2202.74 L802.8 2202.97 L803.8 2201.07 L804.8 2200.78 L805.8 2200.75 L806.8 2200.66 L807.8 2199.25 L808.8 2197.95 L809.8 2198.08 L810.8 2197 L811.8 2196.06 L812.8 2194.92 L813.8 2192.52 L814.8 2191.01 L815.8 2189.78 L816.8 2188.97 L817.8 2187.39 L818.8 2186.53 L819.8 2183.35 L820.8 2182.29 L821.8 2181.34 L822.8 2179.87 L823.8 2177.94 L824.8 2176.15 L825.8 2174 L826.8 2173.79 L827.8 2171.01 L828.8 2170.82 L829.8 2169.83 L830.8 2167.86 L831.8 2167.93 L832.8 2165.53 L833.8 2165.6 L834.8 2165.13 L835.8 2165.31 L836.8 2164.66 L837.8 2164.92 L838.8 2165.93 L839.8 2167.32 L840.8 2167.04 L841.8 2167.31 L842.8 2169.91 L843.8 2170.25 L844.8 2172.83 L845.8 2172.94 L846.8 2175.17 L847.8 2176.89 L848.8 2178.7 L849.8 2180.76 L850.8 2182.48 L851.8 2184.62 L852.8 2187.35 L853.8 2188.29 L854.8 2191.87 L855.8 2192.71 L856.8 2195.41 L857.8 2198.07 L858.8 2199.69 L859.8 2201.17 L860.8 2203.73 L861.8 2204.52 L862.8 2205.57 L863.8 2207.65 L864.8 2209.5 L865.8 2210.87 L866.8 2212.42 L867.8 2213.23 L868.8 2214.54 L869.8 2215.89 L870.8 2216.62 L871.8 2217.66 L872.8 2219.04 L873.8 2219.7 L874.8 2220.18 L875.8 2220.84 L876.8 2221.18 L877.8 2221.8 L878.8 2222.16 L879.8 2222.56 L880.8 2222.84 L881.8 2223.3 L882.8 2223.65 L883.8 2223.72 L884.8 2224.08 L885.8 2224.19 L886.8 2224.43 L887.8 2224.54 L888.8 2224.66 L889.8 2224.77 L890.8 2224.87 L891.8 2224.95 L892.8 2225.02 L893.8 2225.08 L894.8 2225.13 L895.8 2225.5 L896.8 2225.5 L897.8 2225.5 L898.8 2225.5 L899.8 2225.5 L900.8 2225.5 L901.8 2225.5 L902.8 2225.5 L903.8 2225.5 L904.8 2225.5 L905.8 2225.5 L906.8 2225.5 L907.8 2225.5 L908.8 2225.5 L909.8 2225.5 L910 2225.5 Z" fill="#ee9c9c" style="mix-blend-mode:multiply"/>
<polyline points="642.8,2225.5 643.8,2219.09 644.8,2216.47 645.8,2214.88 646.8,2216.19 647.8,2217.73 648.8,2220.24 649.8,2222.24 650.8,2223.87 651.8,2224.81 652.8,2225.5" fill="none" stroke="#db3434" stroke-width="1.3" stroke-linejoin="round" style="mix-blend-mode:multiply"/>
<polyline points="689.8,2225.5 690.8,2225.14 691.8,2225.11 692.8,2225.08 693.8,2225.04 694.8,2225.01 695.8,2224.97 696.8,2224.92 697.8,2224.88 698.8,2224.83 699.8,2224.78 700.8,2224.72 701.8,2224.66 702.8,2224.6 703.8,2224.54 704.8,2224.45 705.8,2224.32 706.8,2224.28 707.8,2224.26 708.8,2224.17 709.8,2224.03 710.8,2223.91 711.8,2223.91 712.8,2223.67 713.8,2223.64 714.8,2223.44 715.8,2223.5 716.8,2223.31 717.8,2223.27 718.8,2223 719.8,2222.91 720.8,2222.73 721.8,2222.62 722.8,2222.19 723.8,2222.1 724.8,2222.04 725.8,2221.78 726.8,2221.75 727.8,2221.13 728.8,2220.93 729.8,2220.9 730.8,2220.94 731.8,2220.18 732.8,2220.44 733.8,2220.32 734.8,2219.8 735.8,2219.57 736.8,2218.91 737.8,2219.23 738.8,2219.04 739.8,2218.41 740.8,2218.51 741.8,2217.58 742.8,2217.46 743.8,2216.71 744.8,2216.31 745.8,2216.81 746.8,2215.81 747.8,2215.83 748.8,2214.9 749.8,2215.74 750.8,2214.88 751.8,2213.77 752.8,2214.8 753.8,2214.09 754.8,2213.74 755.8,2213.32 756.8,2211.91 757.8,2212.94 758.8,2211.48 759.8,2212.14 760.8,2210.67 761.8,2211.72 762.8,2211.5 763.8,2209.41 764.8,2211.04 765.8,2209.47 766.8,2210.03 767.8,2208.98 768.8,2209.21 769.8,2208.31 770.8,2207.93 771.8,2207.52 772.8,2208.52 773.8,2206.86 774.8,2207.8 775.8,2206.86 776.8,2206.22 777.8,2206.09 778.8,2206.38 779.8,2206.26 780.8,2206.78 781.8,2205.17 782.8,2205.59 783.8,2205.09 784.8,2204.57 785.8,2204.98 786.8,2205.66 787.8,2205.18 788.8,2205.69 789.8,2205.37 790.8,2204.1 791.8,2204.36 792.8,2205.23 793.8,2204.39 794.8,2204.46 795.8,2203.48 796.8,2203.26 797.8,2204 798.8,2204.29 799.8,2203.79 800.8,2202.71 801.8,2202.74 802.8,2202.97 803.8,2201.07 804.8,2200.78 805.8,2200.75 806.8,2200.66 807.8,2199.25 808.8,2197.95 809.8,2198.08 810.8,2197 811.8,2196.06 812.8,2194.92 813.8,2192.52 814.8,2191.01 815.8,2189.78 816.8,2188.97 817.8,2187.39 818.8,2186.53 819.8,2183.35 820.8,2182.29 821.8,2181.34 822.8,2179.87 823.8,2177.94 824.8,2176.15 825.8,2174 826.8,2173.79 827.8,2171.01 828.8,2170.82 829.8,2169.83 830.8,2167.86 831.8,2167.93 832.8,2165.53 833.8,2165.6 834.8,2165.13 835.8,2165.31 836.8,2164.66 837.8,2164.92 838.8,2165.93 839.8,2167.32 840.8,2167.04 841.8,2167.31 842.8,2169.91 843.8,2170.25 844.8,2172.83 845.8,2172.94 846.8,2175.17 847.8,2176.89 848.8,2178.7 849.8,2180.76 850.8,2182.48 851.8,2184.62 852.8,2187.35 853.8,2188.29 854.8,2191.87 855.8,2192.71 856.8,2195.41 857.8,2198.07 858.8,2199.69 859.8,2201.17 860.8,2203.73 861.8,2204.52 862.8,2205.57 863.8,2207.65 864.8,2209.5 865.8,2210.87 866.8,2212.42 867.8,2213.23 868.8,2214.54 869.8,2215.89 870.8,2216.62 871.8,2217.66 872.8,2219.04 873.8,2219.7 874.8,2220.18 875.8,2220.84 876.8,2221.18 877.8,2221.8 878.8,2222.16 879.8,2222.56 880.8,2222.84 881.8,2223.3 882.8,2223.65 883.8,2223.72 884.8,2224.08 885.8,2224.19 886.8,2224.43 887.8,2224.54 888.8,2224.66 889.8,2224.77 890.8,2224.87 891.8,2224.95 892.8,2225.02 893.8,2225.08 894.8,2225.13 895.8,2225.5" fill="none" stroke="#db3434" stroke-width="1.3" stroke-linejoin="round" style="mix-blend-mode:multiply"/>
<line x1="643.8" y1="2298.3" x2="1035.2" y2="2298.3" stroke="#c38585" stroke-width="1.4"/>
<path d="M700 2298.3 L700 2297.49 L701 2297.43 L702 2297.37 L703 2297.31 L704 2297.28 L705 2297.18 L706 2297.1 L707 2297.05 L708 2296.95 L709 2296.89 L710 2296.8 L711 2296.78 L712 2296.72 L713 2296.6 L714 2296.38 L715 2296.48 L716 2296.29 L717 2296.17 L718 2296.03 L719 2295.96 L720 2295.72 L721 2295.57 L722 2295.59 L723 2295.61 L724 2295.23 L725 2295.12 L726 2295.16 L727 2294.89 L728 2294.73 L729 2294.57 L730 2294.79 L731 2294.68 L732 2294.26 L733 2294.42 L734 2294.3 L735 2294.31 L736 2293.78 L737 2293.97 L738 2293.9 L739 2293.52 L740 2293.74 L741 2293.18 L742 2293.54 L743 2292.83 L744 2293.31 L745 2293.21 L746 2292.89 L747 2292.57 L748 2292.68 L749 2292.43 L750 2292.7 L751 2292.13 L752 2292.57 L753 2292.33 L754 2291.92 L755 2292.18 L756 2292.38 L757 2291.74 L758 2292.2 L759 2291.83 L760 2291.8 L761 2291.57 L762 2291.79 L763 2290.95 L764 2290.92 L765 2291.02 L766 2291.11 L767 2290.85 L768 2290.79 L769 2290.43 L770 2290.1 L771 2289.53 L772 2289.99 L773 2288.65 L774 2288.3 L775 2288.34 L776 2287.87 L777 2288.02 L778 2287.31 L779 2287 L780 2286.28 L781 2284.5 L782 2284.7 L783 2282.9 L784 2281.83 L785 2281.59 L786 2280.03 L787 2279.11 L788 2277.9 L789 2276.73 L790 2275.33 L791 2274.95 L792 2271.86 L793 2271.98 L794 2270.6 L795 2268.83 L796 2266.06 L797 2264.1 L798 2262.41 L799 2262.42 L800 2260.22 L801 2257.77 L802 2257.35 L803 2255.05 L804 2253.08 L805 2252.03 L806 2250.38 L807 2248.49 L808 2247.7 L809 2244.78 L810 2244.31 L811 2243.69 L812 2241.92 L813 2241.18 L814 2239.74 L815 2240.12 L816 2238.89 L817 2238.99 L818 2237.58 L819 2237.58 L820 2236.91 L821 2237.31 L822 2237.77 L823 2237.93 L824 2239.06 L825 2239.31 L826 2240.38 L827 2241.17 L828 2242.3 L829 2244.29 L830 2245.16 L831 2245.79 L832 2248.16 L833 2249.2 L834 2249.94 L835 2252.27 L836 2253.42 L837 2256.08 L838 2258.54 L839 2259.47 L840 2260.68 L841 2263.06 L842 2265.13 L843 2265.94 L844 2268.72 L845 2269.34 L846 2271.47 L847 2274.22 L848 2274.95 L849 2276.5 L850 2278.13 L851 2279.4 L852 2281.37 L853 2282 L854 2283.56 L855 2284.44 L856 2285.64 L857 2286.97 L858 2288.08 L859 2289.39 L860 2290.36 L861 2290.72 L862 2291.46 L863 2292.25 L864 2292.77 L865 2293.11 L866 2293.67 L867 2294.15 L868 2294.97 L869 2295.32 L870 2295.43 L871 2295.77 L872 2296.25 L873 2296.36 L874 2296.77 L875 2296.89 L875 2298.3 Z" fill="#d09a9a" style="mix-blend-mode:multiply"/>
<polyline points="699,2298.3 700,2297.49 701,2297.43 702,2297.37 703,2297.31 704,2297.28 705,2297.18 706,2297.1 707,2297.05 708,2296.95 709,2296.89 710,2296.8 711,2296.78 712,2296.72 713,2296.6 714,2296.38 715,2296.48 716,2296.29 717,2296.17 718,2296.03 719,2295.96 720,2295.72 721,2295.57 722,2295.59 723,2295.61 724,2295.23 725,2295.12 726,2295.16 727,2294.89 728,2294.73 729,2294.57 730,2294.79 731,2294.68 732,2294.26 733,2294.42 734,2294.3 735,2294.31 736,2293.78 737,2293.97 738,2293.9 739,2293.52 740,2293.74 741,2293.18 742,2293.54 743,2292.83 744,2293.31 745,2293.21 746,2292.89 747,2292.57 748,2292.68 749,2292.43 750,2292.7 751,2292.13 752,2292.57 753,2292.33 754,2291.92 755,2292.18 756,2292.38 757,2291.74 758,2292.2 759,2291.83 760,2291.8 761,2291.57 762,2291.79 763,2290.95 764,2290.92 765,2291.02 766,2291.11 767,2290.85 768,2290.79 769,2290.43 770,2290.1 771,2289.53 772,2289.99 773,2288.65 774,2288.3 775,2288.34 776,2287.87 777,2288.02 778,2287.31 779,2287 780,2286.28 781,2284.5 782,2284.7 783,2282.9 784,2281.83 785,2281.59 786,2280.03 787,2279.11 788,2277.9 789,2276.73 790,2275.33 791,2274.95 792,2271.86 793,2271.98 794,2270.6 795,2268.83 796,2266.06 797,2264.1 798,2262.41 799,2262.42 800,2260.22 801,2257.77 802,2257.35 803,2255.05 804,2253.08 805,2252.03 806,2250.38 807,2248.49 808,2247.7 809,2244.78 810,2244.31 811,2243.69 812,2241.92 813,2241.18 814,2239.74 815,2240.12 816,2238.89 817,2238.99 818,2237.58 819,2237.58 820,2236.91 821,2237.31 822,2237.77 823,2237.93 824,2239.06 825,2239.31 826,2240.38 827,2241.17 828,2242.3 829,2244.29 830,2245.16 831,2245.79 832,2248.16 833,2249.2 834,2249.94 835,2252.27 836,2253.42 837,2256.08 838,2258.54 839,2259.47 840,2260.68 841,2263.06 842,2265.13 843,2265.94 844,2268.72 845,2269.34 846,2271.47 847,2274.22 848,2274.95 849,2276.5 850,2278.13 851,2279.4 852,2281.37 853,2282 854,2283.56 855,2284.44 856,2285.64 857,2286.97 858,2288.08 859,2289.39 860,2290.36 861,2290.72 862,2291.46 863,2292.25 864,2292.77 865,2293.11 866,2293.67 867,2294.15 868,2294.97 869,2295.32 870,2295.43 871,2295.77 872,2296.25 873,2296.36 874,2296.77 875,2296.89 876,2298.3" fill="none" stroke="#872828" stroke-width="1.3" stroke-linejoin="round" style="mix-blend-mode:multiply"/>
<path d="M705 2370.2 L705 2370.2 L706 2370.2 L707 2370.2 L708 2370.2 L709 2370.2 L710 2370.2 L711 2370.2 L712 2370.2 L713 2370.2 L714 2370.2 L715 2370.2 L716 2370.2 L717 2370.2 L718 2370.2 L719 2370.2 L720 2370.2 L721 2370.2 L722 2370.2 L723 2370.2 L724 2370.2 L725 2370.2 L726 2370.2 L727 2370.2 L728 2370.2 L729 2370.2 L730 2370.2 L731 2370.2 L732 2370.2 L733 2370.2 L734 2370.2 L735 2370.2 L736 2370.2 L737 2369.81 L738 2369.71 L739 2369.6 L740 2369.46 L741 2369.3 L742 2369.06 L743 2368.89 L744 2368.71 L745 2368.42 L746 2368.03 L747 2367.44 L748 2366.94 L749 2366.67 L750 2366.05 L751 2365.4 L752 2364.34 L753 2363.9 L754 2363.17 L755 2362.04 L756 2361.63 L757 2359.91 L758 2359.34 L759 2357 L760 2356.38 L761 2354.03 L762 2353.73 L763 2352.64 L764 2349.78 L765 2348.62 L766 2348.98 L767 2345.66 L768 2344.6 L769 2343.24 L770 2342.8 L771 2341.41 L772 2340.52 L773 2340.48 L774 2340.44 L775 2338.59 L776 2337.71 L777 2339.22 L778 2338.04 L779 2338.7 L780 2339.46 L781 2339.69 L782 2340.98 L783 2341.92 L784 2344.12 L785 2345.71 L786 2347.15 L787 2349.77 L788 2350.27 L789 2353.85 L790 2354.12 L791 2357.24 L792 2358.78 L793 2359.11 L794 2361.06 L795 2362.78 L796 2363.58 L797 2364.94 L798 2365.6 L799 2366.61 L800 2367.26 L801 2367.92 L802 2368.26 L803 2368.75 L804 2369 L805 2369.28 L806 2369.49 L807 2369.66 L808 2369.79 L809 2370.2 L810 2370.2 L811 2370.2 L812 2370.2 L813 2370.2 L814 2370.2 L815 2370.2 L815 2370.2 Z" fill="#b5b5b5" style="mix-blend-mode:multiply"/>
<polyline points="736,2370.2 737,2369.81 738,2369.71 739,2369.6 740,2369.46 741,2369.3 742,2369.06 743,2368.89 744,2368.71 745,2368.42 746,2368.03 747,2367.44 748,2366.94 749,2366.67 750,2366.05 751,2365.4 752,2364.34 753,2363.9 754,2363.17 755,2362.04 756,2361.63 757,2359.91 758,2359.34 759,2357 760,2356.38 761,2354.03 762,2353.73 763,2352.64 764,2349.78 765,2348.62 766,2348.98 767,2345.66 768,2344.6 769,2343.24 770,2342.8 771,2341.41 772,2340.52 773,2340.48 774,2340.44 775,2338.59 776,2337.71 777,2339.22 778,2338.04 779,2338.7 780,2339.46 781,2339.69 782,2340.98 783,2341.92 784,2344.12 785,2345.71 786,2347.15 787,2349.77 788,2350.27 789,2353.85 790,2354.12 791,2357.24 792,2358.78 793,2359.11 794,2361.06 795,2362.78 796,2363.58 797,2364.94 798,2365.6 799,2366.61 800,2367.26 801,2367.92 802,2368.26 803,2368.75 804,2369 805,2369.28 806,2369.49 807,2369.66 808,2369.79 809,2370.2" fill="none" stroke="#777777" stroke-width="1.3" stroke-linejoin="round" style="mix-blend-mode:multiply"/>
<line x1="815.1" y1="2009.8" x2="815.1" y2="2370.2" stroke="#000" stroke-width="2.6"/>
<rect x="643.8" y="2009.8" width="391.4" height="360.4" fill="none" stroke="#000" stroke-width="1.5"/>
<line x1="643.8" y1="2373.4" x2="1035.2" y2="2373.4" stroke="#666" stroke-width="1.1"/>
<line x1="645.8" y1="2373.4" x2="645.8" y2="2381.9" stroke="#000" stroke-width="2.6"/>
<line x1="722.3" y1="2373.4" x2="722.3" y2="2381.9" stroke="#000" stroke-width="2.6"/>
<line x1="815.1" y1="2373.4" x2="815.1" y2="2381.9" stroke="#000" stroke-width="2.6"/>
<line x1="907.5" y1="2373.4" x2="907.5" y2="2381.9" stroke="#000" stroke-width="2.6"/>
<line x1="996.8" y1="2373.4" x2="996.8" y2="2381.9" stroke="#000" stroke-width="2.6"/>
<line x1="750.24" y1="2373.4" x2="750.24" y2="2378.4" stroke="#000" stroke-width="1.3"/>
<line x1="766.58" y1="2373.4" x2="766.58" y2="2378.4" stroke="#000" stroke-width="1.3"/>
<line x1="778.17" y1="2373.4" x2="778.17" y2="2378.4" stroke="#000" stroke-width="1.3"/>
<line x1="787.16" y1="2373.4" x2="787.16" y2="2378.4" stroke="#000" stroke-width="1.3"/>
<line x1="794.51" y1="2373.4" x2="794.51" y2="2378.4" stroke="#000" stroke-width="1.3"/>
<line x1="800.73" y1="2373.4" x2="800.73" y2="2378.4" stroke="#000" stroke-width="1.3"/>
<line x1="806.11" y1="2373.4" x2="806.11" y2="2378.4" stroke="#000" stroke-width="1.3"/>
<line x1="810.85" y1="2373.4" x2="810.85" y2="2378.4" stroke="#000" stroke-width="1.3"/>
<line x1="842.92" y1="2373.4" x2="842.92" y2="2378.4" stroke="#000" stroke-width="1.3"/>
<line x1="859.19" y1="2373.4" x2="859.19" y2="2378.4" stroke="#000" stroke-width="1.3"/>
<line x1="870.73" y1="2373.4" x2="870.73" y2="2378.4" stroke="#000" stroke-width="1.3"/>
<line x1="879.68" y1="2373.4" x2="879.68" y2="2378.4" stroke="#000" stroke-width="1.3"/>
<line x1="887" y1="2373.4" x2="887" y2="2378.4" stroke="#000" stroke-width="1.3"/>
<line x1="893.19" y1="2373.4" x2="893.19" y2="2378.4" stroke="#000" stroke-width="1.3"/>
<line x1="898.55" y1="2373.4" x2="898.55" y2="2378.4" stroke="#000" stroke-width="1.3"/>
<line x1="903.27" y1="2373.4" x2="903.27" y2="2378.4" stroke="#000" stroke-width="1.3"/>
<line x1="934.38" y1="2373.4" x2="934.38" y2="2378.4" stroke="#000" stroke-width="1.3"/>
<line x1="950.11" y1="2373.4" x2="950.11" y2="2378.4" stroke="#000" stroke-width="1.3"/>
<line x1="961.26" y1="2373.4" x2="961.26" y2="2378.4" stroke="#000" stroke-width="1.3"/>
<line x1="969.92" y1="2373.4" x2="969.92" y2="2378.4" stroke="#000" stroke-width="1.3"/>
<line x1="976.99" y1="2373.4" x2="976.99" y2="2378.4" stroke="#000" stroke-width="1.3"/>
<line x1="982.97" y1="2373.4" x2="982.97" y2="2378.4" stroke="#000" stroke-width="1.3"/>
<line x1="988.15" y1="2373.4" x2="988.15" y2="2378.4" stroke="#000" stroke-width="1.3"/>
<line x1="992.71" y1="2373.4" x2="992.71" y2="2378.4" stroke="#000" stroke-width="1.3"/>
<line x1="1023.68" y1="2373.4" x2="1023.68" y2="2378.4" stroke="#000" stroke-width="1.3"/>
<line x1="671.8" y1="2373.4" x2="671.8" y2="2380.4" stroke="#000" stroke-width="1.3"/>
<line x1="674.4" y1="2373.4" x2="674.4" y2="2378.4" stroke="#000" stroke-width="1.3"/>
<line x1="677" y1="2373.4" x2="677" y2="2378.4" stroke="#000" stroke-width="1.3"/>
<line x1="679.6" y1="2373.4" x2="679.6" y2="2380.4" stroke="#000" stroke-width="1.3"/>
<line x1="682.2" y1="2373.4" x2="682.2" y2="2378.4" stroke="#000" stroke-width="1.3"/>
<line x1="684.8" y1="2373.4" x2="684.8" y2="2378.4" stroke="#000" stroke-width="1.3"/>
<line x1="687.4" y1="2373.4" x2="687.4" y2="2380.4" stroke="#000" stroke-width="1.3"/>
<text x="689.6" y="2403.7" font-size="14" text-anchor="middle" fill="#111" stroke="#111" stroke-width="0.45" textLength="7" lengthAdjust="spacingAndGlyphs">0</text>
<text x="816.6" y="2403.7" font-size="14.5" fill="#111" stroke="#111" stroke-width="0.45" textLength="12" lengthAdjust="spacingAndGlyphs">10</text>
<text x="829.6" y="2395.2" font-size="11.5" fill="#111" stroke="#111" stroke-width="0.45" textLength="6.5" lengthAdjust="spacingAndGlyphs">3</text>
<text x="909" y="2403.7" font-size="14.5" fill="#111" stroke="#111" stroke-width="0.45" textLength="12" lengthAdjust="spacingAndGlyphs">10</text>
<text x="922" y="2395.2" font-size="11.5" fill="#111" stroke="#111" stroke-width="0.45" textLength="6.5" lengthAdjust="spacingAndGlyphs">4</text>
<text x="998.3" y="2403.7" font-size="14.5" fill="#111" stroke="#111" stroke-width="0.45" textLength="12" lengthAdjust="spacingAndGlyphs">10</text>
<text x="1011.3" y="2395.2" font-size="11.5" fill="#111" stroke="#111" stroke-width="0.45" textLength="6.5" lengthAdjust="spacingAndGlyphs">5</text>
<text x="645" y="2044.2" font-size="35" fill="#f00000" textLength="114.5" lengthAdjust="spacingAndGlyphs">CD34+</text>
<text x="645" y="2086" font-size="35" fill="#f00000" textLength="114.5" lengthAdjust="spacingAndGlyphs">CD38+</text>
<text x="890" y="2079.5" font-size="28.5">Δ MFI=130</text>
<text x="892.3" y="2148" font-size="28.5">Δ MFI=762</text>
<text x="890" y="2221.1" font-size="28.5">Δ MFI=154</text>
<rect x="1043.6" y="2030.6" width="156.9" height="72.9" fill="#fff" stroke="#222" stroke-width="1.3"/>
<text x="1123.9" y="2075.4" font-size="37.5" text-anchor="middle" textLength="51" lengthAdjust="spacingAndGlyphs">D8</text>
<rect x="1043.6" y="2105" width="156.9" height="67.2" fill="#fff" stroke="#222" stroke-width="1.3"/>
<text x="1123.8" y="2160" font-size="37.5" text-anchor="middle" textLength="51" lengthAdjust="spacingAndGlyphs">D4</text>
<rect x="1043.6" y="2174.5" width="156.9" height="58.6" fill="#fff" stroke="#222" stroke-width="1.3"/>
<text x="1121.5" y="2224.2" font-size="37.5" text-anchor="middle" textLength="51" lengthAdjust="spacingAndGlyphs">D1</text>
<rect x="1043.6" y="2235.4" width="156.9" height="62.5" fill="#fff" stroke="#222" stroke-width="1.3"/>
<text x="1126.7" y="2286.2" font-size="37.5" text-anchor="middle" textLength="137" lengthAdjust="spacingAndGlyphs">No AZA</text>
<rect x="1043.6" y="2300.2" width="156.9" height="57.8" fill="#fff" stroke="#222" stroke-width="1.3"/>
<text x="1126.4" y="2353.3" font-size="37.5" text-anchor="middle" textLength="89" lengthAdjust="spacingAndGlyphs">FMO</text>
<polygon points="169.6,1473 158.3,1494.5 180.9,1494.5" fill="#000"/>
<line x1="169.6" y1="1492" x2="169.6" y2="1860.5" stroke="#000" stroke-width="3.6"/>
<text x="177.5" y="1918.2" font-size="40.5" text-anchor="middle" transform="rotate(-90 177.5 1918.2)">Count</text>
<line x1="169.6" y1="1976.8" x2="169.6" y2="2381" stroke="#000" stroke-width="3.6"/>
<line x1="169.6" y1="2441.1" x2="397.8" y2="2441.1" stroke="#000" stroke-width="3.2"/>
<text x="453.5" y="2458" font-size="40">CD123-PeCy7</text>
<line x1="765.9" y1="2440.8" x2="985" y2="2440.8" stroke="#000" stroke-width="3.2"/>
<polygon points="1005.6,2440.8 983.8,2430.3 983.8,2451.3" fill="#000"/>
<line x1="1602.5" y1="1585.8" x2="1703.3" y2="1569" stroke="#000" stroke-width="2.6"/>
<line x1="1602.5" y1="1597.8" x2="1703.3" y2="1520.4" stroke="#000" stroke-width="2.6"/>
<line x1="1602.5" y1="1610.5" x2="1703.3" y2="1558" stroke="#000" stroke-width="2.6"/>
<line x1="1602.5" y1="1626" x2="1703.3" y2="1520.4" stroke="#000" stroke-width="2.6"/>
<line x1="1602.5" y1="1643.5" x2="1703.3" y2="1665.1" stroke="#000" stroke-width="2.6"/>
<line x1="1602.5" y1="1665.1" x2="1703.3" y2="1615.7" stroke="#000" stroke-width="2.6"/>
<line x1="1602.5" y1="1711.8" x2="1703.3" y2="1569" stroke="#000" stroke-width="2.6"/>
<line x1="1602.5" y1="1720" x2="1703.3" y2="1631.5" stroke="#000" stroke-width="2.6"/>
<line x1="1602.5" y1="1787.9" x2="1703.3" y2="1631.5" stroke="#000" stroke-width="2.6"/>
<rect x="1595.2" y="1578.5" width="14.6" height="14.6" fill="#636363" stroke="#000" stroke-width="2.4"/>
<rect x="1595.2" y="1590.5" width="14.6" height="14.6" fill="#636363" stroke="#000" stroke-width="2.4"/>
<rect x="1595.2" y="1603.2" width="14.6" height="14.6" fill="#636363" stroke="#000" stroke-width="2.4"/>
<rect x="1595.2" y="1618.7" width="14.6" height="14.6" fill="#636363" stroke="#000" stroke-width="2.4"/>
<rect x="1595.2" y="1636.2" width="14.6" height="14.6" fill="#636363" stroke="#000" stroke-width="2.4"/>
<rect x="1595.2" y="1657.8" width="14.6" height="14.6" fill="#636363" stroke="#000" stroke-width="2.4"/>
<rect x="1595.2" y="1704.5" width="14.6" height="14.6" fill="#636363" stroke="#000" stroke-width="2.4"/>
<rect x="1595.2" y="1712.7" width="14.6" height="14.6" fill="#636363" stroke="#000" stroke-width="2.4"/>
<rect x="1595.2" y="1780.6" width="14.6" height="14.6" fill="#636363" stroke="#000" stroke-width="2.4"/>
<rect x="1696" y="1513.1" width="14.6" height="14.6" fill="#ee0000" stroke="#000" stroke-width="2.4"/>
<rect x="1696" y="1550.7" width="14.6" height="14.6" fill="#ee0000" stroke="#000" stroke-width="2.4"/>
<rect x="1696" y="1561.7" width="14.6" height="14.6" fill="#ee0000" stroke="#000" stroke-width="2.4"/>
<rect x="1696" y="1608.4" width="14.6" height="14.6" fill="#ee0000" stroke="#000" stroke-width="2.4"/>
<rect x="1696" y="1624.2" width="14.6" height="14.6" fill="#ee0000" stroke="#000" stroke-width="2.4"/>
<rect x="1696" y="1657.8" width="14.6" height="14.6" fill="#ee0000" stroke="#000" stroke-width="2.4"/>
<line x1="1501.6" y1="1468.2" x2="1501.6" y2="1795.4" stroke="#000" stroke-width="3"/>
<line x1="1493.4" y1="1794.1" x2="1805.2" y2="1794.1" stroke="#000" stroke-width="3"/>
<line x1="1493.6" y1="1794.1" x2="1501.6" y2="1794.1" stroke="#000" stroke-width="3"/>
<text x="1489.5" y="1804.48" font-size="29" text-anchor="end">0</text>
<line x1="1493.6" y1="1685.9" x2="1501.6" y2="1685.9" stroke="#000" stroke-width="3"/>
<text x="1489.5" y="1696.28" font-size="29" text-anchor="end">1</text>
<line x1="1493.6" y1="1577.7" x2="1501.6" y2="1577.7" stroke="#000" stroke-width="3"/>
<text x="1489.5" y="1588.08" font-size="29" text-anchor="end">2</text>
<line x1="1493.6" y1="1469.5" x2="1501.6" y2="1469.5" stroke="#000" stroke-width="3"/>
<text x="1489.5" y="1479.88" font-size="29" text-anchor="end">3</text>
<text x="1601.5" y="1480.8" font-size="28.5"><tspan font-style="italic">p</tspan>=0.004</text>
<text x="1620" y="1426.9" font-size="39.4" text-anchor="middle">CD34<tspan font-size="24" dy="-11.8">+</tspan><tspan dy="11.8"> / D4</tspan></text>
<text x="1410.2" y="1627.7" font-size="30.5" text-anchor="middle" transform="rotate(-90 1410.2 1627.7)" textLength="243.2" lengthAdjust="spacingAndGlyphs">CD123 Expression</text>
<text x="1446.4" y="1627.7" font-size="30.5" text-anchor="middle" transform="rotate(-90 1446.4 1627.7)" textLength="238.7" lengthAdjust="spacingAndGlyphs">[Fold Change MFI]</text>
<line x1="1398.9" y1="1847.5" x2="1426.4" y2="1847.5" stroke="#000" stroke-width="2.4"/>
<rect x="1403.7" y="1839.9" width="16.4" height="15.2" fill="#636363" stroke="#000" stroke-width="2.4"/>
<text x="1443.2" y="1860.3" font-size="29">AML<tspan font-size="20.9" dx="3" dy="-13.4">PBMC</tspan><tspan dx="3" dy="13.4"> + Media only (</tspan><tspan font-style="italic">n</tspan>=9)</text>
<line x1="1398.9" y1="1886.5" x2="1426.4" y2="1886.5" stroke="#000" stroke-width="2.4"/>
<rect x="1403.7" y="1878.9" width="16.4" height="15.2" fill="#ee0000" stroke="#000" stroke-width="2.4"/>
<text x="1443.2" y="1899.3" font-size="29">AML<tspan font-size="20.9" dx="3" dy="-13.4">PBMC</tspan><tspan dx="3" dy="13.4"> + Azacitidine (</tspan><tspan font-style="italic">n</tspan>=9)</text>
<line x1="1588" y1="2183.9" x2="1717.7" y2="2068.9" stroke="#000" stroke-width="2.6"/>
<line x1="1588" y1="2214.8" x2="1717.7" y2="2152.9" stroke="#000" stroke-width="2.6"/>
<line x1="1588" y1="2241.6" x2="1717.7" y2="2227" stroke="#000" stroke-width="2.6"/>
<line x1="1588" y1="2256" x2="1717.7" y2="2244" stroke="#000" stroke-width="2.6"/>
<line x1="1588" y1="2295.5" x2="1717.7" y2="2145" stroke="#000" stroke-width="2.6"/>
<line x1="1588" y1="2295.5" x2="1717.7" y2="2193.6" stroke="#000" stroke-width="2.6"/>
<line x1="1588" y1="2296" x2="1717.7" y2="2227" stroke="#000" stroke-width="2.6"/>
<line x1="1588" y1="2310" x2="1717.7" y2="2236" stroke="#000" stroke-width="2.6"/>
<line x1="1588" y1="2325" x2="1717.7" y2="2240" stroke="#000" stroke-width="2.6"/>
<rect x="1580.7" y="2176.6" width="14.6" height="14.6" fill="#636363" stroke="#000" stroke-width="2.4"/>
<rect x="1580.7" y="2207.5" width="14.6" height="14.6" fill="#636363" stroke="#000" stroke-width="2.4"/>
<rect x="1580.7" y="2234.3" width="14.6" height="14.6" fill="#636363" stroke="#000" stroke-width="2.4"/>
<rect x="1580.7" y="2248.7" width="14.6" height="14.6" fill="#636363" stroke="#000" stroke-width="2.4"/>
<rect x="1580.7" y="2288.2" width="14.6" height="14.6" fill="#636363" stroke="#000" stroke-width="2.4"/>
<rect x="1580.7" y="2292.7" width="14.6" height="14.6" fill="#636363" stroke="#000" stroke-width="2.4"/>
<rect x="1580.7" y="2303" width="14.6" height="14.6" fill="#636363" stroke="#000" stroke-width="2.4"/>
<rect x="1580.7" y="2317.8" width="14.6" height="14.6" fill="#636363" stroke="#000" stroke-width="2.4"/>
<rect x="1710.4" y="2061.6" width="14.6" height="14.6" fill="#ee0000" stroke="#000" stroke-width="2.4"/>
<rect x="1710.4" y="2129.7" width="14.6" height="14.6" fill="#ee0000" stroke="#000" stroke-width="2.4"/>
<rect x="1710.4" y="2145.6" width="14.6" height="14.6" fill="#ee0000" stroke="#000" stroke-width="2.4"/>
<rect x="1710.4" y="2186.3" width="14.6" height="14.6" fill="#ee0000" stroke="#000" stroke-width="2.4"/>
<rect x="1710.4" y="2215.5" width="14.6" height="14.6" fill="#ee0000" stroke="#000" stroke-width="2.4"/>
<rect x="1710.4" y="2227.7" width="14.6" height="14.6" fill="#ee0000" stroke="#000" stroke-width="2.4"/>
<rect x="1710.4" y="2236.9" width="14.6" height="14.6" fill="#ee0000" stroke="#000" stroke-width="2.4"/>
<line x1="1502.2" y1="2052.1" x2="1502.2" y2="2378.1" stroke="#000" stroke-width="3"/>
<line x1="1494.4" y1="2376.8" x2="1805.2" y2="2376.8" stroke="#000" stroke-width="3"/>
<line x1="1494.2" y1="2376.8" x2="1502.2" y2="2376.8" stroke="#000" stroke-width="3"/>
<text x="1490.3" y="2386.64" font-size="27.5" text-anchor="end">0</text>
<line x1="1494.2" y1="2269" x2="1502.2" y2="2269" stroke="#000" stroke-width="3"/>
<text x="1490.3" y="2278.84" font-size="27.5" text-anchor="end">1</text>
<line x1="1494.2" y1="2161.2" x2="1502.2" y2="2161.2" stroke="#000" stroke-width="3"/>
<text x="1490.3" y="2171.05" font-size="27.5" text-anchor="end">2</text>
<line x1="1494.2" y1="2053.4" x2="1502.2" y2="2053.4" stroke="#000" stroke-width="3"/>
<text x="1490.3" y="2063.24" font-size="27.5" text-anchor="end">3</text>
<text x="1600.3" y="2052.2" font-size="28.5"><tspan font-style="italic">p</tspan>=0.001</text>
<text x="1624.3" y="2004.1" font-size="39.4" text-anchor="middle">CD34<tspan font-size="24" dy="-11.8">+</tspan><tspan dy="11.8"> CD38</tspan><tspan font-size="24" dy="-11.8">+</tspan><tspan dy="11.8"> / D4</tspan></text>
<text x="1405.8" y="2210.7" font-size="30.5" text-anchor="middle" transform="rotate(-90 1405.8 2210.7)" textLength="242.6" lengthAdjust="spacingAndGlyphs">CD123 Expression</text>
<text x="1441.9" y="2210.7" font-size="30.5" text-anchor="middle" transform="rotate(-90 1441.9 2210.7)" textLength="239.4" lengthAdjust="spacingAndGlyphs">[Fold Change MFI]</text>
<line x1="1401.2" y1="2430" x2="1428.7" y2="2430" stroke="#000" stroke-width="2.4"/>
<rect x="1406" y="2422.4" width="16.4" height="15.2" fill="#636363" stroke="#000" stroke-width="2.4"/>
<text x="1445.1" y="2442.5" font-size="29">AML<tspan font-size="20.9" dx="3" dy="-13.4">PBMC</tspan><tspan dx="3" dy="13.4"> + Media only (</tspan><tspan font-style="italic">n</tspan>=9)</text>
<line x1="1401.2" y1="2470.3" x2="1428.7" y2="2470.3" stroke="#000" stroke-width="2.4"/>
<rect x="1406" y="2462.7" width="16.4" height="15.2" fill="#ee0000" stroke="#000" stroke-width="2.4"/>
<text x="1445.1" y="2482" font-size="29">AML<tspan font-size="20.9" dx="3" dy="-13.4">PBMC</tspan><tspan dx="3" dy="13.4"> + Azacitidine (</tspan><tspan font-style="italic">n</tspan>=9)</text>
</svg></body></html>
